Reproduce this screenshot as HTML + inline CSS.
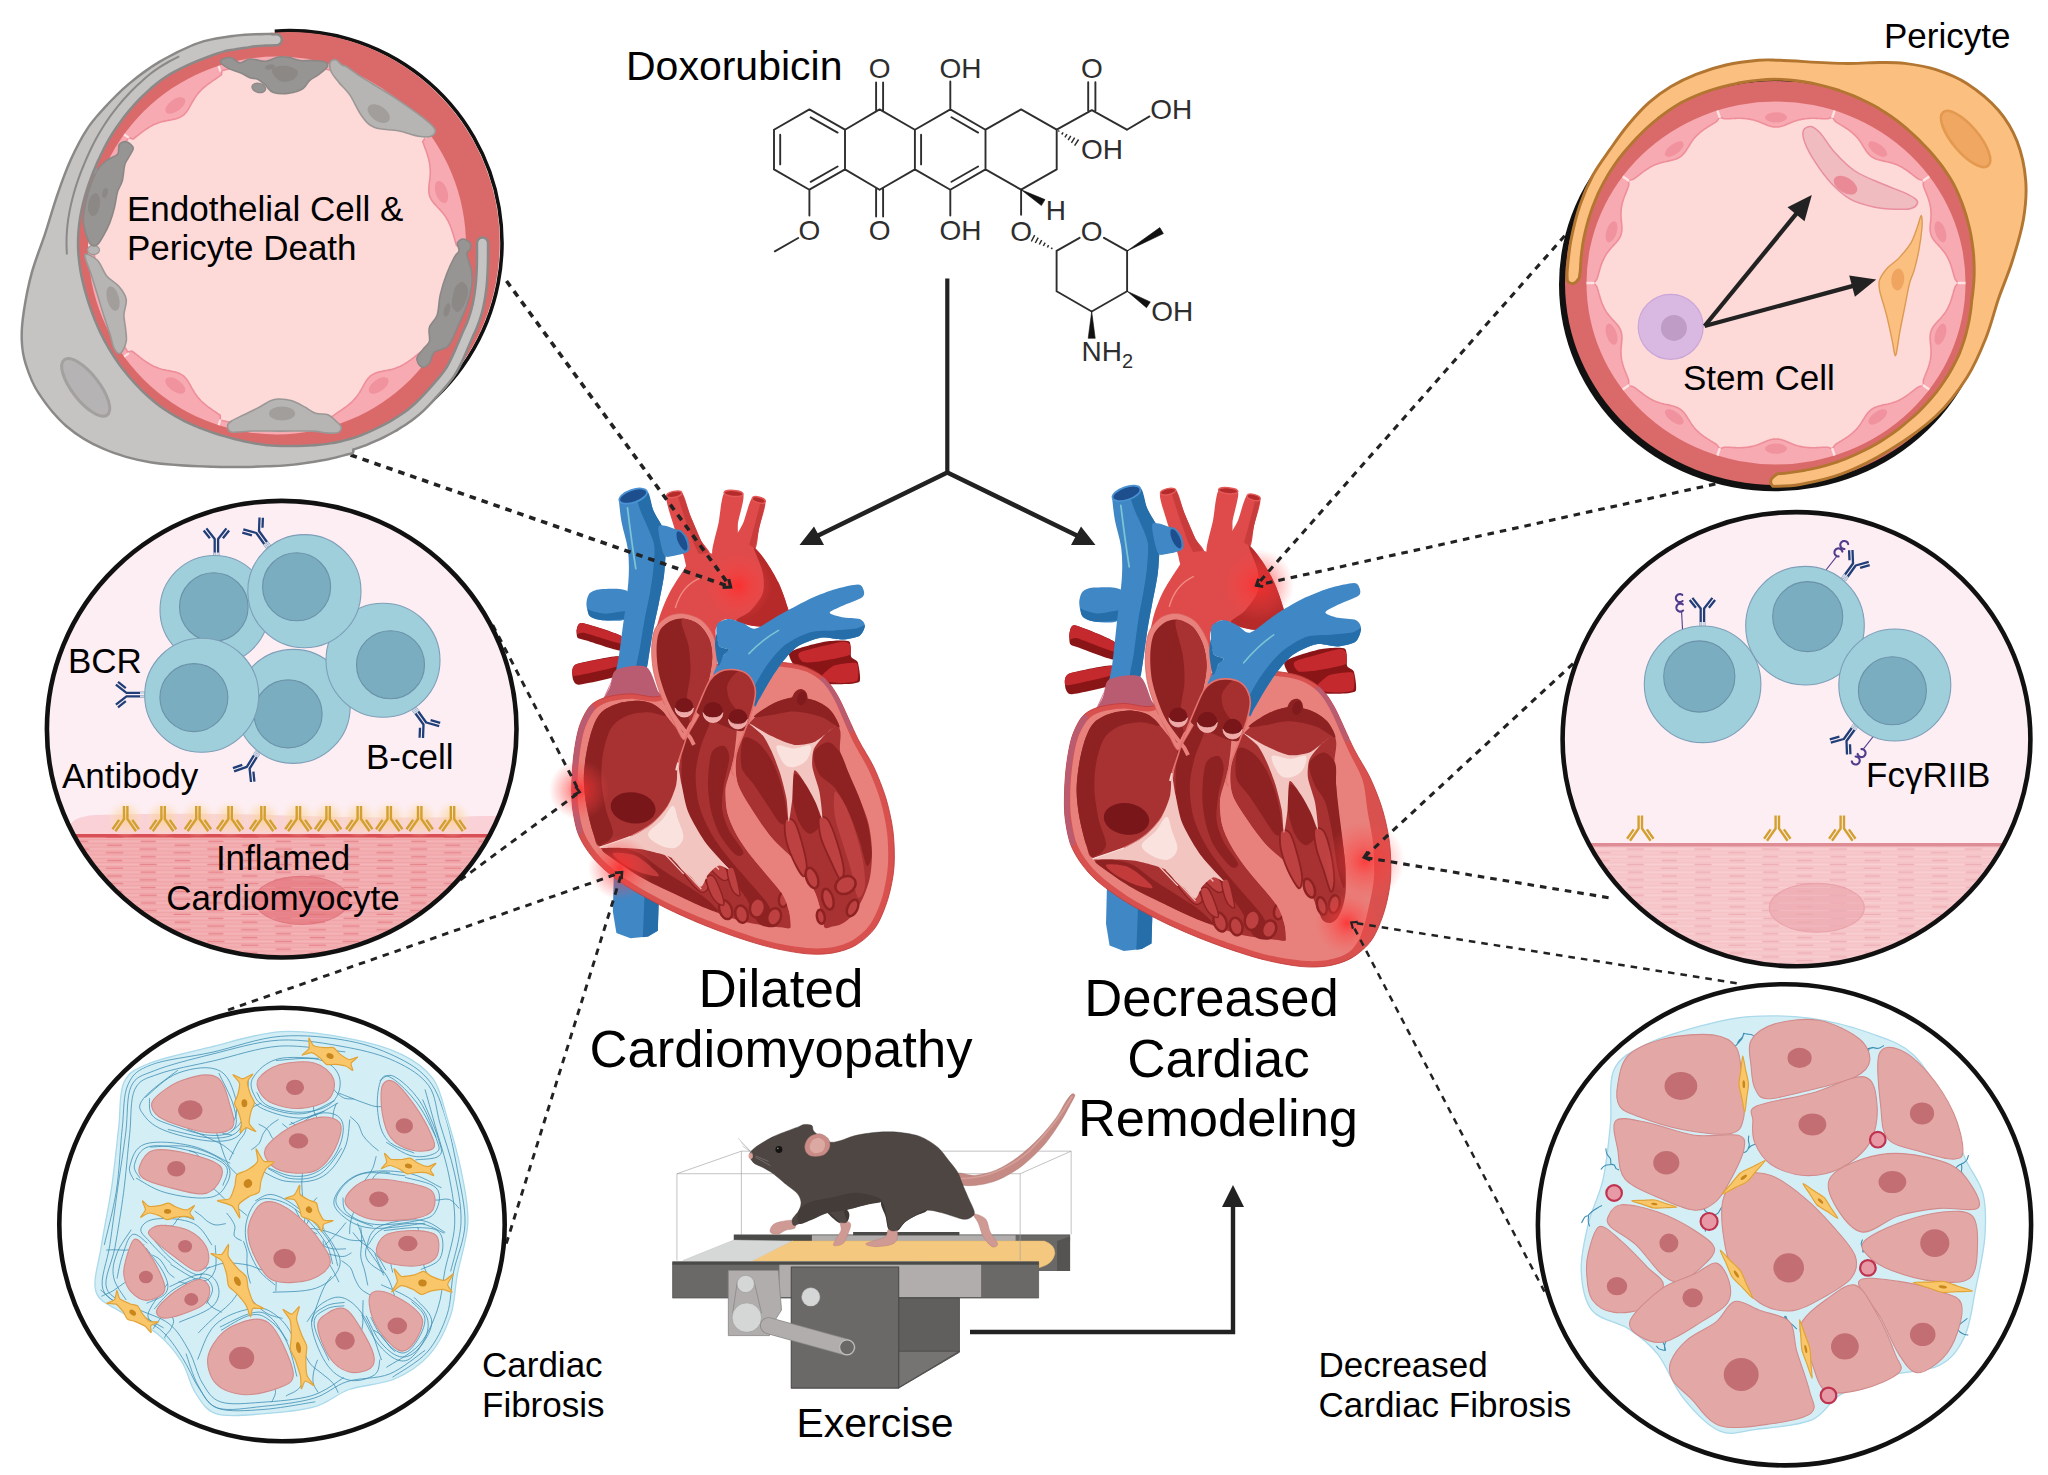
<!DOCTYPE html>
<html lang="en"><head><meta charset="utf-8"><title>Doxorubicin cardiotoxicity and exercise</title>
<style>
html,body{margin:0;padding:0;background:#fff;}
body{width:2048px;height:1475px;overflow:hidden;}
svg{display:block;}
text{font-family:"Liberation Sans",sans-serif;fill:#000;}
</style></head><body>
<svg width="2048" height="1475" viewBox="0 0 2048 1475">
<defs>
<clipPath id="clipBL"><ellipse cx="281.7" cy="729.2" rx="234.8" ry="228.3"/></clipPath>
<clipPath id="clipBR"><ellipse cx="1796.5" cy="739.2" rx="233.9" ry="227.1"/></clipPath>
<pattern id="striaL" width="67.6" height="15.4" patternUnits="userSpaceOnUse" x="0" y="838"><path d="M0 1.5H67.6" stroke="#ea8d93" stroke-width="0.9" opacity="0.35"/><path d="M0 5.3H67.6" stroke="#ea8d93" stroke-width="0.9" opacity="0.35"/><path d="M0 9.2H67.6" stroke="#ea8d93" stroke-width="0.9" opacity="0.35"/><path d="M0 13H67.6" stroke="#ea8d93" stroke-width="0.9" opacity="0.35"/><path d="M0 3.4H67.6" stroke="#f7c3c5" stroke-width="0.9" opacity="0.45"/><path d="M0 11.1H67.6" stroke="#f7c3c5" stroke-width="0.9" opacity="0.45"/><path d="M6 3.4H20M5 11.1H21M40 7.2H54M39 14.9H55" stroke="#e0666e" stroke-width="1.5" stroke-linecap="round" opacity="0.6"/></pattern>
<pattern id="striaR" width="67.6" height="15.4" patternUnits="userSpaceOnUse" x="0" y="838"><path d="M0 1.5H67.6" stroke="#f0b3b9" stroke-width="0.9" opacity="0.35"/><path d="M0 5.3H67.6" stroke="#f0b3b9" stroke-width="0.9" opacity="0.35"/><path d="M0 9.2H67.6" stroke="#f0b3b9" stroke-width="0.9" opacity="0.35"/><path d="M0 13H67.6" stroke="#f0b3b9" stroke-width="0.9" opacity="0.35"/><path d="M0 3.4H67.6" stroke="#fbdcde" stroke-width="0.9" opacity="0.45"/><path d="M0 11.1H67.6" stroke="#fbdcde" stroke-width="0.9" opacity="0.45"/><path d="M6 3.4H20M5 11.1H21M40 7.2H54M39 14.9H55" stroke="#e89aa3" stroke-width="1.5" stroke-linecap="round" opacity="0.6"/></pattern>
<radialGradient id="goldglow"><stop offset="0" stop-color="#fbd08a" stop-opacity="0.75"/><stop offset="0.55" stop-color="#fbd9a8" stop-opacity="0.45"/><stop offset="1" stop-color="#fde6d0" stop-opacity="0"/></radialGradient>
<radialGradient id="redglow"><stop offset="0" stop-color="#ff2a2a" stop-opacity="0.95"/><stop offset="0.35" stop-color="#ff3838" stop-opacity="0.55"/><stop offset="1" stop-color="#ff5050" stop-opacity="0"/></radialGradient>

</defs>
<rect width="2048" height="1475" fill="#fff"/>
<!-- heart_left -->
<g transform="translate(560 470) scale(0.17624)">
<path d="M305 2305L560 2455L555 2615L500 2647L400 2657L320 2627L300 2505Z" fill="#4087c6" />
<path d="M480 2405L560 2455L555 2615L500 2647L470 2651Z" fill="#256ea9" />
<path d="M95 905C97.5 896.6 100 864.5 125 868C150 871.5 323 924.3 345 940C367 955.7 364.5 1022.2 345 1025C325.5 1027.8 174.5 975.3 150 968C125.5 960.7 105.5 958.3 100 952C94.5 945.7 92.5 913.4 95 905Z" fill="#8a1517" />
<path d="M95 905C97.5 898.8 100 864.5 125 868C150 871.5 323 928.3 345 940C367 951.7 365.5 986.5 345 985C324.5 983.5 164.5 930.5 140 925C115.5 919.5 104.5 932 100 930C95.5 928 92.5 911.2 95 905Z" fill="#c4292d" />
<path d="M70 1135C72.5 1125.8 73.5 1107.7 100 1100C126.5 1092.3 311.5 1051.5 335 1058C358.5 1064.5 357.5 1149 335 1165C312.5 1181 136 1215.3 110 1218C84 1220.7 79 1200.3 75 1192C71 1183.7 67.5 1144.2 70 1135Z" fill="#8a1517" />
<path d="M70 1135C72.8 1128.5 73.5 1107.7 100 1100C126.5 1092.3 311.5 1057 335 1058C358.5 1059 358 1099.3 335 1110C312 1120.7 131.3 1159.5 105 1165C78.7 1170.5 75.5 1168 72 1165C68.5 1162 67.2 1141.5 70 1135Z" fill="#c4292d" />
<path d="M1300 1040C1310 1017.5 1466 981.8 1500 975C1534 968.2 1624.8 963.5 1640 972C1655.2 980.5 1647 1048 1652 1060C1657 1072 1685.2 1078 1690 1092C1694.8 1106 1709 1187.7 1700 1200C1691 1212.3 1630 1215 1600 1215C1570 1215 1430 1217.5 1400 1200C1370 1182.5 1290 1062.5 1300 1040Z" fill="#8a1517" />
<path d="M1360 1035C1382 1023.5 1571.5 979.5 1600 975C1628.5 970.5 1640.8 982.5 1645 990C1649.2 997.5 1658.5 1040.5 1642 1050C1625.5 1059.5 1506.2 1081 1480 1085C1453.8 1089 1392 1095 1380 1090C1368 1085 1338 1046.5 1360 1035Z" fill="#c4292d" />
<path d="M1550 1112C1571 1102.5 1665.8 1091.2 1680 1095C1694.2 1098.8 1691.8 1139.7 1692 1150C1692.2 1160.3 1693.2 1192.2 1682 1198C1670.8 1203.8 1601.2 1208.8 1580 1208C1558.8 1207.2 1473 1199.6 1470 1190C1467 1180.4 1529 1121.5 1550 1112Z" fill="#c4292d" />
<path d="M385 690C365.7 667.9 258.9 674.7 230 676C201.1 677.3 178.7 688.5 168 700C157.3 711.5 149.7 744.7 150 762C150.3 779.3 158 818 170 830C182 842 212.7 850.4 240 852C267.3 853.6 355.7 863.6 375 842C394.3 820.4 404.3 712.1 385 690Z" fill="#4087c6" />
<path d="M385 800C369.7 796.4 287.3 815 260 815C232.7 815 193.6 803.3 180 800C166.4 796.7 159.3 786 158 790C156.7 794 159.1 821.7 170 830C180.9 838.3 212.7 850.4 240 852C267.3 853.6 355.7 848.9 375 842C394.3 835.1 400.3 803.6 385 800Z" fill="#256ea9" />
<path d="M335 180C337.5 200 341.7 255 350 300C358.3 345 378.3 400 385 450C391.7 500 391.7 550 390 600C388.3 650 380.8 700 375 750C369.2 800 361.7 850 355 900C348.3 950 341.2 1010 335 1050C328.8 1090 320.8 1125 318 1140L400 1165L490 1125C492.5 1112.5 498.3 1087.5 505 1050C511.7 1012.5 520.8 948.3 530 900C539.2 851.7 550 810 560 760C570 710 583.3 648.3 590 600C596.7 551.7 596.7 508.3 600 470C603.3 431.7 614.2 396.7 610 370C605.8 343.3 588.3 333.3 575 310C561.7 286.7 542.8 260.8 530 230C517.2 199.2 503.3 142.5 498 125Z" fill="#4087c6"/>
<path d="M498 125C510 134.3 519.7 205.3 530 230C540.3 254.7 564.3 291.3 575 310C585.7 328.7 606.7 348.7 610 370C613.3 391.3 602.7 439.3 600 470C597.3 500.7 595.3 561.3 590 600C584.7 638.7 568 720 560 760C552 800 537.3 861.3 530 900C522.7 938.7 510.3 1020 505 1050C499.7 1080 500 1111.7 490 1125C480 1138.3 434.7 1166.7 430 1150C425.3 1133.3 448.3 1040 455 1000C461.7 960 472.7 890 480 850C487.3 810 503.3 738.7 510 700C516.7 661.3 526.7 596 530 560C533.3 524 539 460.7 535 430C531 399.3 510 355.3 500 330C490 304.7 468 262.7 460 240C452 217.3 434.9 175.3 440 160C445.1 144.7 486 115.7 498 125Z" fill="#256ea9" />
<ellipse cx="415" cy="148" rx="82" ry="36" fill="#1d4f8f" stroke="#4a92d2" stroke-width="10" transform="rotate(-19 415 148)"/>
<path d="M383 215Q405 400 430 560" fill="none" stroke="#7cc3d3" stroke-width="10" stroke-linecap="round"/>
<path d="M603 150C596.8 169.8 628.7 261.5 640 300C651.3 338.5 689.5 449.7 700 480C710.5 510.3 712.5 560 730 560C747.5 560 841.8 498.7 850 480C858.2 461.3 812.8 425.7 800 400C787.2 374.3 752.5 291.5 740 260C727.5 228.5 709 142.8 693 130C677 117.2 609.2 130.2 603 150Z" fill="#df4a4a" />
<path d="M665 140L693 130L740 260L800 400L850 480L800 500L760 420L710 280Z" fill="#c93c3c" />
<path d="M932 130C915.7 148.7 907.8 259.2 900 300C892.2 340.8 853.3 466 865 480C876.7 494 983.1 441 1000 420C1016.9 399 1005.3 332.7 1010 300C1014.7 267.3 1049.1 159.8 1040 140C1030.9 120.2 948.3 111.3 932 130Z" fill="#df4a4a" />
<path d="M1090 160C1075.4 173.4 1051.7 270.8 1040 300C1028.3 329.2 982.4 392.5 990 410C997.6 427.5 1088.7 459.3 1105 450C1121.3 440.7 1123 360.9 1130 330C1137 299.1 1169.7 204.8 1165 185C1160.3 165.2 1104.6 146.6 1090 160Z" fill="#df4a4a" />
<path d="M1140 175L1165 185L1130 330L1105 450L1070 440L1100 330Z" fill="#c93c3c" />
<ellipse cx="648" cy="138" rx="44" ry="17" fill="#b52a2a" stroke="#e35a58" stroke-width="8" transform="rotate(-12 648 138)"/>
<ellipse cx="985" cy="133" rx="54" ry="17" fill="#b52a2a" stroke="#e35a58" stroke-width="8" transform="rotate(5 985 133)"/>
<ellipse cx="1128" cy="170" rx="38" ry="16" fill="#b52a2a" stroke="#e35a58" stroke-width="8" transform="rotate(15 1128 170)"/>
<path d="M535 1010C514 984.5 547.2 896.5 560 850C572.8 803.5 599 742 620 700C641 658 679 601.5 700 570C721 538.5 739 505 760 490C781 475 822 472.7 840 470C858 467.3 856.8 481.8 880 472C903.2 462.2 962 409.8 995 405C1028 400.2 1073.8 422.8 1100 440C1126.2 457.2 1149 490 1170 520C1191 550 1222.8 604 1240 640C1257.2 676 1276.8 731.5 1285 760C1293.2 788.5 1307.8 811.2 1295 830C1282.2 848.8 1229.2 876.8 1200 885C1170.8 893.2 1130 889.5 1100 885C1070 880.5 1025.5 860.2 1000 855C974.5 849.8 947.2 843.2 930 850C912.8 856.8 894 877.5 885 900C876 922.5 897.8 982 870 1000C842.2 1018 750.2 1018.5 700 1020C649.8 1021.5 556 1035.5 535 1010Z" fill="#df4a4a" />
<path d="M1100 440C1103 431 1149 490 1170 520C1191 550 1222.8 604 1240 640C1257.2 676 1276.8 731.5 1285 760C1293.2 788.5 1307.8 811.2 1295 830C1282.2 848.8 1229.2 876.8 1200 885C1170.8 893.2 1130 889.5 1100 885C1070 880.5 1003 867.8 1000 855C997 842.2 1057.5 823.2 1080 800C1102.5 776.8 1139.5 733 1150 700C1160.5 667 1157.5 619 1150 580C1142.5 541 1097 449 1100 440Z" fill="#b62a2a" />
<path d="M655 780Q690 660 790 615" fill="none" stroke="#f08b82" stroke-width="8" stroke-linecap="round"/>
<path d="M560 320C569.3 301.1 638.7 330 660 338C681.3 346 710.7 363.7 720 380C729.3 396.3 740.7 445.6 730 460C719.3 474.4 658.7 485.3 640 488C621.3 490.7 600.7 502.4 590 480C579.3 457.6 550.7 338.9 560 320Z" fill="#4087c6" />
<ellipse cx="692" cy="402" rx="27" ry="64" fill="#1d4f8f" stroke="#4087c6" stroke-width="9" transform="rotate(-24 692 402)"/>
<path d="M318 1135C346 1118.7 457.7 1101.3 490 1118C522.3 1134.7 542.7 1231.7 560 1260C577.3 1288.3 628 1311.3 620 1330C612 1348.7 542.7 1388 500 1400C457.3 1412 346.7 1406.7 300 1420C253.3 1433.3 175.3 1476 150 1500C124.7 1524 103.3 1616 110 1600C116.7 1584 177.3 1428 200 1380C222.7 1332 264.3 1272.7 280 1240C295.7 1207.3 290 1151.3 318 1135Z" fill="#b95c72" />
<path d="M300 1180C296 1186.7 248.7 1292.7 230 1330C211.3 1367.3 177.3 1417.3 160 1460C142.7 1502.7 112 1604.7 100 1650C88 1695.3 68.7 1806.7 70 1800C71.3 1793.3 95.3 1650.7 110 1600C124.7 1549.3 160 1462.7 180 1420C200 1377.3 244 1312 260 1280C276 1248 304 1173.3 300 1180Z" fill="#d9748b" />
<path d="M1290 1095C1335 1101 1368.5 1107.2 1400 1120C1431.5 1132.8 1473 1154.5 1500 1180C1527 1205.5 1551.5 1238.2 1580 1290C1608.5 1341.8 1660 1465.8 1690 1525C1720 1584.2 1756 1634 1780 1685C1804 1736 1833.5 1809.5 1850 1865C1866.5 1920.5 1883.2 1996.5 1890 2055C1896.8 2113.5 1899.5 2198 1895 2255C1890.5 2312 1875.8 2384 1860 2435C1844.2 2486 1817 2556 1790 2595C1763 2634 1716 2673.2 1680 2695C1644 2716.8 1592 2732.5 1550 2740C1508 2747.5 1452.5 2749.5 1400 2745C1347.5 2740.5 1260 2724.2 1200 2710C1140 2695.8 1060 2670.2 1000 2650C940 2629.8 860 2599.8 800 2575C740 2550.2 660 2515 600 2485C540 2455 452.5 2408 400 2375C347.5 2342 286 2296.5 250 2265C214 2233.5 182.5 2196.5 160 2165C137.5 2133.5 113.5 2094 100 2055C86.5 2016 74.8 1950 70 1905C65.2 1860 66.5 1800 68 1755C69.5 1710 73.7 1650 80 1605C86.3 1560 96.5 1494.8 110 1455C123.5 1415.2 147.5 1364.8 170 1340C192.5 1315.2 225.5 1300.5 260 1290C294.5 1279.5 355 1270.8 400 1270C445 1269.2 515 1295.5 560 1285C605 1274.5 649 1227.8 700 1200C751 1172.2 840 1118 900 1100C960 1082 1041.5 1080.8 1100 1080C1158.5 1079.2 1245 1089 1290 1095Z" fill="#d8514e" stroke="#c23d3b" stroke-width="5" />
<path d="M170 1340C157.2 1355 123.5 1415.2 110 1455C96.5 1494.8 86.3 1560 80 1605C73.7 1650 69.5 1710 68 1755C66.5 1800 65.2 1860 70 1905C74.8 1950 91.8 2033.2 100 2055C108.2 2076.8 125.3 2072.5 125 2050C124.7 2027.5 102.3 1949.2 98 1905C93.7 1860.8 94.5 1799.2 96 1755C97.5 1710.8 101.7 1653.5 108 1610C114.3 1566.5 125 1503.2 138 1465C151.1 1426.8 190.2 1373.8 195 1355C199.8 1336.2 182.8 1325 170 1340Z" fill="#b95c72" />
<path d="M1500 1180C1515 1193.5 1556 1246.5 1580 1290C1604 1333.5 1651 1442.2 1660 1470C1669 1497.8 1655 1499 1640 1475C1625 1451 1584 1351.2 1560 1310C1536 1268.8 1489 1219.5 1480 1200C1471 1180.5 1485 1166.5 1500 1180Z" fill="#b95c72" />
<path d="M1290 1120C1335 1126 1370 1132.2 1400 1145C1430 1157.8 1466 1180.2 1490 1205C1514 1229.8 1534.5 1260.5 1560 1310C1585.5 1359.5 1631.5 1476.5 1660 1535C1688.5 1593.5 1726.3 1649 1750 1700C1773.7 1751 1802.1 1821 1818 1875C1833.9 1929 1849.7 2003.8 1856 2060C1862.3 2116.2 1864.2 2195.2 1860 2250C1855.8 2304.8 1842.7 2376.2 1828 2425C1813.3 2473.8 1786.5 2539 1762 2575C1737.5 2611 1697.5 2645.1 1665 2665C1632.5 2684.9 1584.8 2700.9 1545 2708C1505.2 2715.1 1451 2716.2 1400 2712C1349 2707.8 1263.5 2693.8 1205 2680C1146.5 2666.2 1069 2640.2 1010 2620C951 2599.8 871.2 2569.3 812 2545C752.8 2520.7 673.8 2487.2 615 2458C556.2 2428.8 471 2382.4 420 2350C369 2317.6 309.5 2272 275 2242C240.5 2212 211.4 2179.6 190 2150C168.6 2120.4 145.1 2082.5 132 2045C119 2007.5 107.8 1943.5 103 1900C98.2 1856.5 98.7 1798.5 100 1755C101.3 1711.5 106 1652.8 112 1610C118 1567.2 127.5 1506.8 140 1470C152.4 1433.2 175.5 1387.8 195 1365C214.5 1342.2 239.2 1328 270 1318C300.8 1308 356.5 1298.9 400 1298C443.5 1297.1 515 1322.2 560 1312C605 1301.8 649 1257.3 700 1230C751 1202.7 840 1148.8 900 1130C960 1111.2 1041.5 1106.5 1100 1105C1158.5 1103.5 1245 1114 1290 1120Z" fill="#e8817c" />
<path d="M1075 1435C1099 1408.8 1161.8 1351.8 1200 1330C1238.2 1308.2 1292.5 1293 1330 1290C1367.5 1287 1418.5 1298 1450 1310C1481.5 1322 1519 1344.5 1540 1370C1561 1395.5 1582.5 1445.5 1590 1480C1597.5 1514.5 1582.5 1563.2 1590 1600C1597.5 1636.8 1623.5 1685.2 1640 1725C1656.5 1764.8 1683.5 1823 1700 1865C1716.5 1907 1739.5 1961.5 1750 2005C1760.5 2048.5 1768.5 2110 1770 2155C1771.5 2200 1767.5 2264.5 1760 2305C1752.5 2345.5 1735 2392 1720 2425C1705 2458 1678 2502.5 1660 2525C1642 2547.5 1618 2564.9 1600 2575C1582 2585.1 1555 2589 1540 2592C1525 2595 1509 2608.1 1500 2595C1491 2581.9 1487.5 2533.5 1480 2505C1472.5 2476.5 1462 2435 1450 2405C1438 2375 1419.5 2335 1400 2305C1380.5 2275 1350 2238 1320 2205C1290 2172 1233 2124 1200 2085C1167 2046 1128.5 1990 1100 1945C1071.5 1900 1025 1831.5 1010 1785C995 1738.5 995.5 1677 1000 1635C1004.5 1593 1028.8 1535 1040 1505C1051.2 1475 1051 1461.2 1075 1435Z" fill="#a83232" />
<path d="M1100 1400C1100 1391 1165.5 1346.5 1200 1330C1234.5 1313.5 1292.5 1293 1330 1290C1367.5 1287 1418.5 1298 1450 1310C1481.5 1322 1519.8 1347.5 1540 1370C1560.2 1392.5 1594 1455.5 1585 1460C1576 1464.5 1518.2 1413.5 1480 1400C1441.8 1386.5 1372 1371.5 1330 1370C1288 1368.5 1234.5 1385.5 1200 1390C1165.5 1394.5 1100 1409 1100 1400Z" fill="#8e2222" />
<ellipse cx="1360" cy="1300" rx="44" ry="58" fill="#8e2222" transform="rotate(15 1360 1300)"/>
<ellipse cx="1372" cy="1295" rx="26" ry="40" fill="#7f1b1d" transform="rotate(15 1372 1295)"/>
<path d="M235 1375C256.8 1354 297.8 1334.8 330 1325C362.2 1315.2 418.5 1308.5 450 1310C481.5 1311.5 514.5 1319.2 540 1335C565.5 1350.8 596 1385 620 1415C644 1445 692.5 1499 700 1535C707.5 1571 676 1617.5 670 1655C664 1692.5 669 1747.5 660 1785C651 1822.5 631 1872 610 1905C589 1938 551.5 1979.5 520 2005C488.5 2030.5 443.5 2055.5 400 2075C356.5 2094.5 261.5 2136.5 230 2135C198.5 2133.5 202 2099.5 190 2065C178 2030.5 158.2 1951.5 150 1905C141.8 1858.5 135 1800 135 1755C135 1710 142.5 1648.5 150 1605C157.5 1561.5 172.2 1499.5 185 1465C197.8 1430.5 213.2 1396 235 1375Z" fill="#a83232" />
<path d="M235 1375C256.8 1354 297.8 1334.8 330 1325C362.2 1315.2 418.5 1308.5 450 1310C481.5 1311.5 517.5 1322.2 540 1335C562.5 1347.8 606 1389 600 1395C594 1401 533 1375 500 1375C467 1375 411.5 1381.5 380 1395C348.5 1408.5 310.2 1433.5 290 1465C269.8 1496.5 253.2 1561.5 245 1605C236.8 1648.5 232.8 1707 235 1755C237.2 1803 250.2 1878.5 260 1925C269.8 1971.5 304.5 2033.5 300 2065C295.5 2096.5 246.5 2135 230 2135C213.5 2135 202 2099.5 190 2065C178 2030.5 158.2 1951.5 150 1905C141.8 1858.5 135 1800 135 1755C135 1710 142.5 1648.5 150 1605C157.5 1561.5 172.2 1499.5 185 1465C197.8 1430.5 213.2 1396 235 1375Z" fill="#8e2222" />
<ellipse cx="415" cy="1917" rx="128" ry="88" fill="#78161a" transform="rotate(8 415 1917)"/>
<path d="M700 1535C713.3 1479 733.3 1403.7 760 1365C786.7 1326.3 868 1239.7 900 1245C932 1250.3 988.7 1353 1000 1405C1011.3 1457 993 1581.7 985 1635C977 1688.3 944.7 1763.7 940 1805C935.3 1846.3 942 1910.3 950 1945C958 1979.7 982.7 2033 1000 2065C1017.3 2097 1056 2153 1080 2185C1104 2217 1156 2275.7 1180 2305C1204 2334.3 1244 2378.3 1260 2405C1276 2431.7 1293.3 2479.7 1300 2505C1306.7 2530.3 1316.7 2583 1310 2595C1303.3 2607 1284.7 2599 1250 2595C1215.3 2591 1103.3 2578.3 1050 2565C996.7 2551.7 903.3 2516.3 850 2495C796.7 2473.7 703.3 2430.3 650 2405C596.7 2379.7 506 2340.3 450 2305C394 2269.7 236.7 2170 230 2140C223.3 2110 361.3 2097.3 400 2080C438.7 2062.7 492 2032.7 520 2010C548 1987.3 591.3 1940 610 1910C628.7 1880 648 1835 660 1785C672 1735 686.7 1591 700 1535Z" fill="#a83232" />
<path d="M700 1535C707.5 1485.5 725 1450.5 740 1425C755 1399.5 783.5 1365 800 1365C816.5 1365 850 1395 850 1425C850 1455 812 1520 800 1565C788 1610 771.5 1674 770 1725C768.5 1776 776.5 1854 790 1905C803.5 1956 834.5 2020 860 2065C885.5 2110 927 2163 960 2205C993 2247 1047 2306 1080 2345C1113 2384 1157.5 2429 1180 2465C1202.5 2501 1237.5 2568.5 1230 2585C1222.5 2601.5 1155.5 2597.5 1130 2575C1104.5 2552.5 1085.5 2475.5 1060 2435C1034.5 2394.5 991.5 2342.5 960 2305C928.5 2267.5 880 2224 850 2185C820 2146 781 2087 760 2045C739 2003 720.5 1948.5 710 1905C699.5 1861.5 691.5 1810.5 690 1755C688.5 1699.5 692.5 1584.5 700 1535Z" fill="#8e2222" />
<path d="M860 1605C873.5 1572 915 1560.5 930 1565C945 1569.5 960 1602 960 1635C960 1668 936 1741.5 930 1785C924 1828.5 915.5 1886 920 1925C924.5 1964 942 2009 960 2045C978 2081 1034 2144 1040 2165C1046 2186 1019.5 2198.5 1000 2185C980.5 2171.5 931 2111 910 2075C889 2039 870.5 1988.5 860 1945C849.5 1901.5 840 1836 840 1785C840 1734 846.5 1638 860 1605Z" fill="#8e2222" />
<path d="M240 2155C244.5 2146 298.5 2142 330 2145C361.5 2148 415.5 2158.5 450 2175C484.5 2191.5 522.5 2229.5 560 2255C597.5 2280.5 661 2319.5 700 2345C739 2370.5 790 2401 820 2425C850 2449 903 2497.5 900 2505C897 2512.5 837.5 2490 800 2475C762.5 2460 702.5 2430.5 650 2405C597.5 2379.5 502.5 2335 450 2305C397.5 2275 331.5 2227.5 300 2205C268.5 2182.5 235.5 2164 240 2155Z" fill="#8e2222" />
<path d="M300 2175C309 2167.5 387 2173 420 2185C453 2197 499 2237 520 2255C541 2273 569 2300.5 560 2305C551 2309.5 490 2295.5 460 2285C430 2274.5 384 2251.5 360 2235C336 2218.5 291 2182.5 300 2175Z" fill="#c23a3a" />
<ellipse cx="940" cy="2495" rx="35" ry="55" fill="#bd4141" stroke="#8e2222" stroke-width="14" transform="rotate(-20 940 2495)"/>
<ellipse cx="1030" cy="2520" rx="35" ry="50" fill="#bd4141" stroke="#8e2222" stroke-width="14" transform="rotate(-15 1030 2520)"/>
<ellipse cx="1120" cy="2485" rx="42" ry="55" fill="#bd4141" stroke="#8e2222" stroke-width="14" transform="rotate(10 1120 2485)"/>
<ellipse cx="1215" cy="2535" rx="38" ry="50" fill="#bd4141" stroke="#8e2222" stroke-width="14" transform="rotate(20 1215 2535)"/>
<ellipse cx="1270" cy="2435" rx="28" ry="45" fill="#bd4141" stroke="#8e2222" stroke-width="14" transform="rotate(10 1270 2435)"/>
<path d="M940 1805C941.5 1826 941 1906 950 1945C959 1984 980.5 2029 1000 2065C1019.5 2101 1053 2149 1080 2185C1107 2221 1153 2272 1180 2305C1207 2338 1242 2375 1260 2405C1278 2435 1292.5 2475 1300 2505C1307.5 2535 1308.5 2590 1310 2605L1500 2605C1497 2590 1487.5 2535 1480 2505C1472.5 2475 1462 2435 1450 2405C1438 2375 1419.5 2335 1400 2305C1380.5 2275 1350 2238 1320 2205C1290 2172 1233 2124 1200 2085C1167 2046 1128.5 1990 1100 1945C1071.5 1900 1026.5 1831.5 1010 1785C993.5 1738.5 993 1657.5 990 1635Z" fill="#e8817c"/>
<path d="M1040 1525C1053.5 1504 1096 1527 1120 1545C1144 1563 1179 1606 1200 1645C1221 1684 1246.5 1754 1260 1805C1273.5 1856 1291.5 1955 1290 1985C1288.5 2015 1266.5 2017 1250 2005C1233.5 1993 1202.5 1938 1180 1905C1157.5 1872 1122.5 1818 1100 1785C1077.5 1752 1039 1724 1030 1685C1021 1646 1026.5 1546 1040 1525Z" fill="#8e2222" />
<path d="M1440 1605C1447.5 1578 1497.5 1545 1520 1545C1542.5 1545 1572 1578 1590 1605C1608 1632 1623.5 1686 1640 1725C1656.5 1764 1683.5 1820 1700 1865C1716.5 1910 1739.8 1977 1750 2025C1760.2 2073 1769.5 2152 1768 2185C1766.5 2218 1750.2 2257 1740 2245C1729.8 2233 1715 2150 1700 2105C1685 2060 1661 1990 1640 1945C1619 1900 1585.5 1838 1560 1805C1534.5 1772 1488 1755 1470 1725C1452 1695 1432.5 1632 1440 1605Z" fill="#8e2222" />
<path d="M1330 1725C1342 1713 1382 1761 1400 1785C1418 1809 1438 1852 1450 1885C1462 1918 1484.5 1978 1480 2005C1475.5 2032 1438 2065 1420 2065C1402 2065 1375 2035 1360 2005C1345 1975 1324.5 1907 1320 1865C1315.5 1823 1318 1737 1330 1725Z" fill="#8e2222" />
<path d="M1280 1985C1287.5 1971.5 1316.5 1977 1330 1995C1343.5 2013 1359.5 2067.5 1370 2105C1380.5 2142.5 1398.5 2215 1400 2245C1401.5 2275 1392 2311 1380 2305C1368 2299 1335 2238 1320 2205C1305 2172 1286 2118 1280 2085C1274 2052 1272.5 1998.5 1280 1985Z" fill="#bd4141" stroke="#8e2222" stroke-width="10" />
<path d="M1470 1975C1476 1960 1505 1965.5 1520 1985C1535 2004.5 1556.5 2063 1570 2105C1583.5 2147 1607 2232 1610 2265C1613 2298 1602 2334 1590 2325C1578 2316 1546.5 2241 1530 2205C1513.5 2169 1489 2119.5 1480 2085C1471 2050.5 1464 1990 1470 1975Z" fill="#bd4141" stroke="#8e2222" stroke-width="10" />
<path d="M1560 1825C1569 1816 1602 1869 1620 1905C1638 1941 1665 2017 1680 2065C1695 2113 1712.5 2180 1720 2225C1727.5 2270 1734.5 2335 1730 2365C1725.5 2395 1702 2440 1690 2425C1678 2410 1663.5 2313 1650 2265C1636.5 2217 1613.5 2150 1600 2105C1586.5 2060 1566 2007 1560 1965C1554 1923 1551 1834 1560 1825Z" fill="#bd4141" />
<ellipse cx="1430" cy="2315" rx="32" ry="60" fill="#bd4141" stroke="#8e2222" stroke-width="14" transform="rotate(-20 1430 2315)"/>
<ellipse cx="1520" cy="2435" rx="30" ry="60" fill="#bd4141" stroke="#8e2222" stroke-width="14" transform="rotate(-15 1520 2435)"/>
<ellipse cx="1620" cy="2355" rx="60" ry="48" fill="#bd4141" stroke="#8e2222" stroke-width="14" transform="rotate(-30 1620 2355)"/>
<ellipse cx="1660" cy="2485" rx="28" ry="50" fill="#bd4141" stroke="#8e2222" stroke-width="14" transform="rotate(25 1660 2485)"/>
<ellipse cx="1480" cy="2535" rx="22" ry="40" fill="#bd4141" stroke="#8e2222" stroke-width="14" transform="rotate(-10 1480 2535)"/>
<path d="M640 2195C637 2175.5 679 2174.5 700 2185C721 2195.5 759 2238 780 2265C801 2292 837 2345.5 840 2365C843 2384.5 818 2402.5 800 2395C782 2387.5 744 2345 720 2315C696 2285 643 2214.5 640 2195Z" fill="#bd4141" stroke="#8e2222" stroke-width="8" />
<path d="M740 2105C737 2085.5 776 2080 800 2095C824 2110 876 2173.5 900 2205C924 2236.5 957 2287 960 2305C963 2323 941 2337 920 2325C899 2313 847 2258 820 2225C793 2192 743 2124.5 740 2105Z" fill="#bd4141" stroke="#8e2222" stroke-width="8" />
<path d="M830 2315C833 2301.5 858 2294.5 870 2305C882 2315.5 901 2361 910 2385C919 2409 933 2454.5 930 2465C927 2475.5 902 2465.5 890 2455C878 2444.5 859 2416 850 2395C841 2374 827 2328.5 830 2315Z" fill="#bd4141" stroke="#8e2222" stroke-width="8" />
<path d="M950 2265C953.8 2253.8 976 2248 985 2260C994 2272 1004.8 2321.8 1010 2345C1015.2 2368.2 1023.8 2407.5 1020 2415C1016.2 2422.5 994 2407 985 2395C976 2383 965.2 2354.5 960 2335C954.8 2315.5 946.2 2276.2 950 2265Z" fill="#bd4141" stroke="#8e2222" stroke-width="8" />
<path d="M225 2140C238.3 2131.6 360.7 2097.3 400 2080C439.3 2062.7 492 2032.7 520 2010C548 1987.3 591.3 1940 610 1910C628.7 1880 652.3 1817.7 660 1785C667.7 1752.3 664 1665 668 1665C672 1665 682.4 1749 690 1785C697.6 1821 710.3 1896.3 725 1935C739.7 1973.7 779.3 2041.7 800 2075C820.7 2108.3 858.7 2159.7 880 2185C901.3 2210.3 957.3 2257 960 2265C962.7 2273 916 2241 900 2245C884 2249 853.3 2279 840 2295C826.7 2311 813.3 2363.7 800 2365C786.7 2366.3 754.7 2318.3 740 2305C725.3 2291.7 703.3 2278.3 690 2265C676.7 2251.7 657.3 2217 640 2205C622.7 2193 585.3 2182.3 560 2175C534.7 2167.7 484.7 2154.3 450 2150C415.3 2145.7 330 2144.3 300 2143C270 2141.7 211.7 2148.4 225 2140Z" fill="#f2c5c0" />
<path d="M500 2065C503.3 2041.7 556.7 2011.7 580 1985C603.3 1958.3 625 1905 640 1905C655 1905 660 1955 670 1985C680 2015 703.3 2058.3 700 2085C696.7 2111.7 673.3 2138.3 650 2145C626.7 2151.7 585 2138.3 560 2125C535 2111.7 496.7 2088.3 500 2065Z" fill="#fae3df" />
<path d="M225 2140L400 2080" stroke="#fae3df" stroke-width="6" fill="none"/>
<path d="M640 2205L800 2375M700 2165L830 2315M760 2125L900 2265M800 2095L950 2260M600 2185L700 2290" stroke="#f2c5c0" stroke-width="7" fill="none" stroke-linecap="round"/>
<path d="M1070 1435C1064.2 1434.4 1134.8 1486.3 1150 1505C1165.2 1523.7 1188.3 1569.3 1200 1595C1211.7 1620.7 1240.1 1693.5 1250 1725C1259.9 1756.5 1279.4 1833.5 1285 1865C1290.6 1896.5 1294.2 1995 1298 1995C1301.8 1995 1314.3 1898.8 1318 1865C1321.7 1831.2 1321 1714.3 1330 1705C1339 1695.7 1381 1764 1395 1785C1409 1806 1439.2 1862.8 1450 1885C1460.8 1907.2 1485.4 1982 1488 1975C1490.6 1968 1478.5 1858.8 1472 1825C1465.5 1791.2 1435.7 1713 1432 1685C1428.3 1657 1432.1 1606 1440 1585C1447.9 1564 1485.1 1521.1 1500 1505C1514.9 1488.9 1573.8 1442.9 1568 1447C1562.2 1451.1 1477.8 1526.8 1450 1540C1422.2 1553.2 1359.2 1563.5 1330 1560C1300.8 1556.5 1230.3 1524.6 1200 1510C1169.7 1495.4 1075.8 1435.6 1070 1435Z" fill="#f2c5c0" />
<path d="M1230 1565C1240 1550.8 1298.3 1580 1330 1580C1361.7 1580 1408.3 1554.2 1420 1565C1431.7 1575.8 1415 1625 1400 1645C1385 1665 1351.7 1681.7 1330 1685C1308.3 1688.3 1286.7 1685 1270 1665C1253.3 1645 1220 1579.2 1230 1565Z" fill="#fae3df" />
<path d="M520 1010C521.2 972.5 526.5 926.7 540 900C553.5 873.3 586 844.8 610 832C634 819.2 671.5 812.3 700 815C728.5 817.7 774.5 831.2 800 850C825.5 868.8 856.2 908.5 870 940C883.8 971.5 892 1021 892 1060C892 1099 882 1156.5 870 1200C858 1243.5 830.8 1309.5 812 1350C793.2 1390.5 761.8 1443 745 1470C728.2 1497 715.8 1537.5 700 1530C684.2 1522.5 658 1454.5 640 1420C622 1385.5 596.2 1340.5 580 1300C563.8 1259.5 541 1193.5 532 1150C523 1106.5 518.8 1047.5 520 1010Z" fill="#e8817c" stroke="#d8605c" stroke-width="4" />
<path d="M548 1010C548.9 974.3 554.5 934.8 566 912C577.5 889.2 604.9 868.4 625 858C645.1 847.6 676 840.5 700 843C724 845.5 763.2 858.2 785 875C806.8 891.8 833.1 927.2 845 955C856.9 982.8 864.3 1024 864 1060C863.7 1096 854.1 1153.8 843 1195C831.9 1236.2 807 1297.5 790 1335C773 1372.5 743.5 1421.8 730 1445C716.5 1468.2 710.2 1495.2 700 1490C689.8 1484.8 676.1 1439.2 662 1410C647.9 1380.8 621.3 1334 606 1295C590.7 1256 568.7 1192.8 560 1150C551.3 1107.2 547.1 1045.7 548 1010Z" fill="#8e2222" />
<path d="M690 850C698.2 831.2 761.8 859.2 785 875C808.2 890.8 833.1 927.2 845 955C856.9 982.8 864.3 1024 864 1060C863.7 1096 854.1 1153.8 843 1195C831.9 1236.2 805.5 1299.8 790 1335C774.5 1370.2 750.5 1435.2 740 1430C729.5 1424.8 720 1342 720 1300C720 1258 738.5 1195 740 1150C741.5 1105 737.5 1045 730 1000C722.5 955 681.8 868.8 690 850Z" fill="#a83232" />
<path d="M600 1330Q680 1450 740 1520L760 1560" stroke="#e8817c" stroke-width="22" fill="none"/>
<path d="M895 870C904.6 858.7 940.7 845 960 845C979.3 845 1020 862.7 1040 870C1060 877.3 1082 906.7 1110 900C1138 893.3 1211.3 841.3 1250 820C1288.7 798.7 1360 758.7 1400 740C1440 721.3 1511.3 692 1550 680C1588.7 668 1667.1 650 1690 650C1712.9 650 1718.7 670.4 1722 680C1725.3 689.6 1731.3 709.7 1715 722C1698.7 734.3 1624.7 760.3 1600 772C1575.3 783.7 1530 801.6 1530 810C1530 818.4 1577.3 830.3 1600 835C1622.7 839.7 1682.7 838.7 1700 845C1717.3 851.3 1730 869.3 1730 882C1730 894.7 1717.3 929.3 1700 940C1682.7 950.7 1629.3 960.4 1600 962C1570.7 963.6 1513.3 946.9 1480 952C1446.7 957.1 1378 982.9 1350 1000C1322 1017.1 1290 1056 1270 1080C1250 1104 1218.7 1150.7 1200 1180C1181.3 1209.3 1142.7 1278.7 1130 1300C1117.3 1321.3 1109.7 1353.3 1105 1340C1100.3 1326.7 1111.7 1228 1095 1200C1078.3 1172 1010 1134.7 980 1130C950 1125.3 876.7 1175.7 870 1165C863.3 1154.3 918 1069.3 930 1050C942 1030.7 963.3 1026.7 960 1020C956.7 1013.3 914.6 1012 905 1000C895.4 988 889.3 947.3 888 930C886.7 912.7 885.4 881.3 895 870Z" fill="#4087c6" />
<path d="M1730 882C1732.7 887.3 1717.3 929.3 1700 940C1682.7 950.7 1629.3 960.4 1600 962C1570.7 963.6 1513.3 946.9 1480 952C1446.7 957.1 1378 982.9 1350 1000C1322 1017.1 1290 1056 1270 1080C1250 1104 1218.7 1150.7 1200 1180C1181.3 1209.3 1142.7 1278.7 1130 1300C1117.3 1321.3 1109 1348 1105 1340C1101 1332 1090 1272 1100 1240C1110 1208 1156 1133.3 1180 1100C1204 1066.7 1248 1014 1280 990C1312 966 1382.7 930.7 1420 920C1457.3 909.3 1525.3 912.7 1560 910C1594.7 907.3 1657.3 903.7 1680 900C1702.7 896.3 1727.3 876.7 1730 882Z" fill="#256ea9" />
<path d="M888 930C891.3 930 895.4 988 905 1000C914.6 1012 956.7 1013.3 960 1020C963.3 1026.7 938 1038 930 1050C922 1062 906.7 1116.7 900 1110C893.3 1103.3 881.6 1024 880 1000C878.4 976 884.7 930 888 930Z" fill="#256ea9" />
<path d="M1072 1042Q1150 960 1240 910" fill="none" stroke="#7cc3d3" stroke-width="9" stroke-linecap="round"/>
<path d="M794 1315C804.4 1287.2 832.4 1220.5 849 1195C865.6 1169.5 886.2 1154.5 905 1145C923.8 1135.5 952.2 1131.2 974 1132C995.8 1132.8 1032 1139.8 1050 1150C1068 1160.2 1085.2 1182.8 1094 1200C1102.8 1217.2 1109.8 1240.2 1109 1265C1108.2 1289.8 1099.3 1332.8 1089 1365C1078.7 1397.2 1068.3 1468.8 1040 1480C1011.6 1491.2 939 1455 900 1440C861 1425 795.9 1398.8 780 1380C764.1 1361.2 783.6 1342.8 794 1315Z" fill="#8e2222" />
<path d="M1000 1150C1015 1139.5 1035.9 1142.5 1050 1150C1064.1 1157.5 1085.2 1182.8 1094 1200C1102.8 1217.2 1109.8 1240.2 1109 1265C1108.2 1289.8 1096.3 1341.8 1089 1365C1081.7 1388.2 1073.3 1420.8 1060 1420C1046.7 1419.2 1015 1378 1000 1360C985 1342 967.5 1321 960 1300C952.5 1279 944 1242.5 950 1220C956 1197.5 985 1160.5 1000 1150Z" fill="#a83232" opacity="0.9"/>
<circle cx="705" cy="1345" r="52" fill="#78161a"/>
<path d="M653 1350A52 52 0 0 0 757 1350A54.6 39.0 0 0 1 653 1350Z" fill="#f1a9a8" stroke="#f6c4c0" stroke-width="4"/>
<circle cx="868" cy="1372" r="56" fill="#78161a"/>
<path d="M812 1377A56 56 0 0 0 924 1377A58.800000000000004 42.0 0 0 1 812 1377Z" fill="#f1a9a8" stroke="#f6c4c0" stroke-width="4"/>
<circle cx="1010" cy="1410" r="54" fill="#78161a"/>
<path d="M956 1415A54 54 0 0 0 1064 1415A56.7 40.5 0 0 1 956 1415Z" fill="#f1a9a8" stroke="#f6c4c0" stroke-width="4"/>
<path d="M669 1665C672.8 1653.8 684.2 1620 694 1590C703.8 1560 719 1506.2 734 1465C749 1423.8 776.8 1355.5 794 1315C811.2 1274.5 832.4 1220.5 849 1195C865.6 1169.5 886.2 1154.5 905 1145C923.8 1135.5 952.2 1131.2 974 1132C995.8 1132.8 1032 1139.8 1050 1150C1068 1160.2 1085.2 1182.8 1094 1200C1102.8 1217.2 1109.8 1240.2 1109 1265C1108.2 1289.8 1098.8 1331.2 1089 1365C1079.2 1398.8 1056.8 1456.2 1044 1490C1031.2 1523.8 1014.5 1558.2 1004 1590C993.5 1621.8 976.9 1681 974 1702C971.1 1723 983.4 1725.8 985 1730" fill="none" stroke="#e3716d" stroke-width="9" stroke-linecap="round"/>
<path d="M669 1665L660 1700" stroke="#f6d5d0" stroke-width="11" stroke-linecap="round"/>
</g>
<circle cx="738" cy="586" r="34" fill="url(#redglow)" opacity="0.9"/><circle cx="579" cy="790" r="30" fill="url(#redglow)" opacity="0.9"/><circle cx="620" cy="868" r="32" fill="url(#redglow)" opacity="0.9"/>
<!-- heart_right -->
<g transform="translate(1052.5 467) scale(0.17836)">
<path d="M305 2361L560 2511L555 2671L500 2703L400 2713L320 2683L300 2561Z" fill="#4087c6" />
<path d="M480 2461L560 2511L555 2671L500 2703L470 2707Z" fill="#256ea9" />
<path d="M95 934.4C97.5 923.6 100 882.7 125 887.2C150 891.6 323 959 345 978.9C367 998.6 364.5 1076.8 345 1079.9C325.5 1082.9 174.5 1022.6 150 1013.7C125.5 1004.8 105.5 1001.8 100 994C94.5 986.1 92.5 945.1 95 934.4Z" fill="#8a1517" />
<path d="M95 934.4C97.5 926.5 100 882.7 125 887.2C150 891.6 323 964.1 345 978.9C367 993.6 365.5 1036 345 1034.3C324.5 1032.5 164.5 966.9 140 959.9C115.5 952.9 104.5 968.8 100 966.3C95.5 963.7 92.5 942.3 95 934.4Z" fill="#c4292d" />
<path d="M70 1191C72.5 1181.8 73.5 1163.7 100 1156C126.5 1148.3 311.5 1107.5 335 1114C358.5 1120.5 357.5 1205 335 1221C312.5 1237 136 1271.3 110 1274C84 1276.7 79 1256.3 75 1248C71 1239.7 67.5 1200.2 70 1191Z" fill="#8a1517" />
<path d="M70 1191C72.8 1184.5 73.5 1163.7 100 1156C126.5 1148.3 311.5 1113 335 1114C358.5 1115 358 1155.3 335 1166C312 1176.7 131.3 1215.5 105 1221C78.7 1226.5 75.5 1224 72 1221C68.5 1218 67.2 1197.5 70 1191Z" fill="#c4292d" />
<path d="M1300 1095.8C1310 1071.7 1466 1030.4 1500 1022.2C1534 1014 1624.8 1008.2 1640 1018.6C1655.2 1028.9 1647 1104 1652 1116C1657 1128 1685.2 1134 1690 1148C1694.8 1162 1709 1243.7 1700 1256C1691 1268.3 1630 1271 1600 1271C1570 1271 1430 1273.5 1400 1256C1370 1238.5 1290 1118.5 1300 1095.8Z" fill="#8a1517" />
<path d="M1360 1090.6C1382 1078.3 1571.5 1027.7 1600 1022.2C1628.5 1016.8 1640.8 1031.3 1645 1040.2C1649.2 1049 1658.5 1096.3 1642 1106C1625.5 1115.5 1506.2 1137 1480 1141C1453.8 1145 1392 1151 1380 1146C1368 1141 1338 1102.5 1360 1090.6Z" fill="#c4292d" />
<path d="M1550 1168C1571 1158.5 1665.8 1147.2 1680 1151C1694.2 1154.8 1691.8 1195.7 1692 1206C1692.2 1216.3 1693.2 1248.2 1682 1254C1670.8 1259.8 1601.2 1264.8 1580 1264C1558.8 1263.2 1473 1255.6 1470 1246C1467 1236.4 1529 1177.5 1550 1168Z" fill="#c4292d" />
<path d="M385 690C365.7 667.9 258.9 674.7 230 676C201.1 677.3 178.7 688.5 168 700C157.3 711.5 149.7 744.7 150 762.3C150.3 780.8 158 825.3 170 839.8C182 854.6 212.7 865 240 867C267.3 869 355.7 881.6 375 854.6C394.3 828.2 404.3 712.1 385 690Z" fill="#4087c6" />
<path d="M385 804.1C369.7 800 287.3 821.7 260 821.7C232.7 821.7 193.6 808 180 804.1C166.4 800.3 159.3 788.2 158 792.7C156.7 797.3 159.1 829.8 170 839.8C180.9 850 212.7 865 240 867C267.3 869 355.7 863.1 375 854.6C394.3 846.1 400.3 808.3 385 804.1Z" fill="#256ea9" />
<path d="M335 180C337.5 200 341.7 255 350 300C358.3 345 378.3 400 385 450C391.7 500 391.7 550 390 600C388.3 650 380.8 700 375 750C369.2 804.1 361.7 864.5 355 928C348.3 991.5 341.2 1063.3 335 1106C328.8 1146 320.8 1181 318 1196L400 1221L490 1181C492.5 1168.5 498.3 1143.5 505 1106C511.7 1066.1 520.8 989.4 530 928C539.2 866.6 550 815.8 560 760.2C570 710 583.3 648.3 590 600C596.7 551.7 596.7 508.3 600 470C603.3 431.7 614.2 396.7 610 370C605.8 343.3 588.3 333.3 575 310C561.7 286.7 542.8 260.8 530 230C517.2 199.2 503.3 142.5 498 125Z" fill="#4087c6"/>
<path d="M498 125C510 134.3 519.7 205.3 530 230C540.3 254.7 564.3 291.3 575 310C585.7 328.7 606.7 348.7 610 370C613.3 391.3 602.7 439.3 600 470C597.3 500.7 595.3 561.3 590 600C584.7 638.7 568 720 560 760.2C552 804.1 537.3 878.7 530 928C522.7 977.3 510.3 1074.4 505 1106C499.7 1136 500 1167.7 490 1181C480 1194.3 434.7 1222.7 430 1206C425.3 1189.3 448.3 1095.8 455 1051.9C461.7 1003.9 472.7 915.2 480 864.5C487.3 815.8 503.3 738.7 510 700C516.7 661.3 526.7 596 530 560C533.3 524 539 460.7 535 430C531 399.3 510 355.3 500 330C490 304.7 468 262.7 460 240C452 217.3 434.9 175.3 440 160C445.1 144.7 486 115.7 498 125Z" fill="#256ea9" />
<ellipse cx="415" cy="148" rx="82" ry="36" fill="#1d4f8f" stroke="#4a92d2" stroke-width="10" transform="rotate(-19 415 148)"/>
<path d="M383 215Q405 400 430 560" fill="none" stroke="#7cc3d3" stroke-width="10" stroke-linecap="round"/>
<path d="M603 150C596.8 169.8 628.7 261.5 640 300C651.3 338.5 689.5 449.7 700 480C710.5 510.3 712.5 560 730 560C747.5 560 841.8 498.7 850 480C858.2 461.3 812.8 425.7 800 400C787.2 374.3 752.5 291.5 740 260C727.5 228.5 709 142.8 693 130C677 117.2 609.2 130.2 603 150Z" fill="#df4a4a" />
<path d="M665 140L693 130L740 260L800 400L850 480L800 500L760 420L710 280Z" fill="#c93c3c" />
<path d="M932 130C915.7 148.7 907.8 259.2 900 300C892.2 340.8 853.3 466 865 480C876.7 494 983.1 441 1000 420C1016.9 399 1005.3 332.7 1010 300C1014.7 267.3 1049.1 159.8 1040 140C1030.9 120.2 948.3 111.3 932 130Z" fill="#df4a4a" />
<path d="M1090 160C1075.4 173.4 1051.7 270.8 1040 300C1028.3 329.2 982.4 392.5 990 410C997.6 427.5 1088.7 459.3 1105 450C1121.3 440.7 1123 360.9 1130 330C1137 299.1 1169.7 204.8 1165 185C1160.3 165.2 1104.6 146.6 1090 160Z" fill="#df4a4a" />
<path d="M1140 175L1165 185L1130 330L1105 450L1070 440L1100 330Z" fill="#c93c3c" />
<ellipse cx="648" cy="138" rx="44" ry="17" fill="#b52a2a" stroke="#e35a58" stroke-width="8" transform="rotate(-12 648 138)"/>
<ellipse cx="985" cy="133" rx="54" ry="17" fill="#b52a2a" stroke="#e35a58" stroke-width="8" transform="rotate(5 985 133)"/>
<ellipse cx="1128" cy="170" rx="38" ry="16" fill="#b52a2a" stroke="#e35a58" stroke-width="8" transform="rotate(15 1128 170)"/>
<path d="M535 1063.3C514 1033.7 547.2 923.5 560 864.5C572.8 808.2 599 742 620 700C641 658 679 601.5 700 570C721 538.5 739 505 760 490C781 475 822 472.7 840 470C858 467.3 856.8 481.8 880 472C903.2 462.2 962 409.8 995 405C1028 400.2 1073.8 422.8 1100 440C1126.2 457.2 1149 490 1170 520C1191 550 1222.8 604 1240 640C1257.2 676 1276.8 731.5 1285 760.2C1293.2 791 1307.8 817.2 1295 839.8C1282.2 863 1229.2 898.4 1200 908.8C1170.8 919.3 1130 914.6 1100 908.8C1070 903.1 1025.5 877.3 1000 870.8C974.5 864.3 947.2 856.1 930 864.5C912.8 873 894 899.2 885 928C876 956.8 897.8 1030.7 870 1051.9C842.2 1072.2 750.2 1072.8 700 1074.4C649.8 1076.1 556 1091.1 535 1063.3Z" fill="#df4a4a" />
<path d="M1100 440C1103 431 1149 490 1170 520C1191 550 1222.8 604 1240 640C1257.2 676 1276.8 731.5 1285 760.2C1293.2 791 1307.8 817.2 1295 839.8C1282.2 863 1229.2 898.4 1200 908.8C1170.8 919.3 1130 914.6 1100 908.8C1070 903.1 1003 886.9 1000 870.8C997 854.8 1057.5 831.6 1080 804.1C1102.5 778.1 1139.5 733 1150 700C1160.5 667 1157.5 619 1150 580C1142.5 541 1097 449 1100 440Z" fill="#b62a2a" />
<path d="M655 781.6Q690 660 790 615" fill="none" stroke="#f08b82" stroke-width="8" stroke-linecap="round"/>
<path d="M560 320C569.3 301.1 638.7 330 660 338C681.3 346 710.7 363.7 720 380C729.3 396.3 740.7 445.6 730 460C719.3 474.4 658.7 485.3 640 488C621.3 490.7 600.7 502.4 590 480C579.3 457.6 550.7 338.9 560 320Z" fill="#4087c6" />
<ellipse cx="692" cy="402" rx="27" ry="64" fill="#1d4f8f" stroke="#4087c6" stroke-width="9" transform="rotate(-24 692 402)"/>
<path d="M318 1191C346 1174.7 457.7 1157.3 490 1174C522.3 1190.7 542.7 1287.7 560 1316C577.3 1344.3 628 1367.3 620 1386C612 1404.7 542.7 1444 500 1456C457.3 1468 346.7 1462.7 300 1476C253.3 1489.3 175.3 1532 150 1556C124.7 1580 103.3 1672 110 1656C116.7 1640 177.3 1484 200 1436C222.7 1388 264.3 1328.7 280 1296C295.7 1263.3 290 1207.3 318 1191Z" fill="#b95c72" />
<path d="M300 1236C296 1242.7 248.7 1348.7 230 1386C211.3 1423.3 177.3 1473.3 160 1516C142.7 1558.7 112 1660.7 100 1706C88 1751.3 68.7 1862.7 70 1856C71.3 1849.3 95.3 1706.7 110 1656C124.7 1605.3 160 1518.7 180 1476C200 1433.3 244 1368 260 1336C276 1304 304 1229.3 300 1236Z" fill="#d9748b" />
<path d="M1290 1151C1335 1157 1368.5 1163.2 1400 1176C1431.5 1188.8 1473 1210.5 1500 1236C1527 1261.5 1551.5 1294.2 1580 1346C1608.5 1397.8 1660 1521.8 1690 1581C1720 1640.2 1756 1690 1780 1741C1804 1792 1833.5 1865.5 1850 1921C1866.5 1976.5 1883.2 2052.5 1890 2111C1896.8 2169.5 1899.5 2254 1895 2311C1890.5 2368 1875.8 2440 1860 2491C1844.2 2542 1817 2612 1790 2651C1763 2690 1716 2729.2 1680 2751C1644 2772.8 1592 2788.5 1550 2796C1508 2803.5 1452.5 2805.5 1400 2801C1347.5 2796.5 1260 2780.2 1200 2766C1140 2751.8 1060 2726.2 1000 2706C940 2685.8 860 2655.8 800 2631C740 2606.2 660 2571 600 2541C540 2511 452.5 2464 400 2431C347.5 2398 286 2352.5 250 2321C214 2289.5 182.5 2252.5 160 2221C137.5 2189.5 113.5 2150 100 2111C86.5 2072 74.8 2006 70 1961C65.2 1916 66.5 1856 68 1811C69.5 1766 73.7 1706 80 1661C86.3 1616 96.5 1550.8 110 1511C123.5 1471.2 147.5 1420.8 170 1396C192.5 1371.2 225.5 1356.5 260 1346C294.5 1335.5 355 1326.8 400 1326C445 1325.2 515 1351.5 560 1341C605 1330.5 649 1283.8 700 1256C751 1228.2 840 1174 900 1156C960 1138 1041.5 1136.8 1100 1136C1158.5 1135.2 1245 1145 1290 1151Z" fill="#d8514e" stroke="#c23d3b" stroke-width="5" />
<path d="M170 1396C157.2 1411 123.5 1471.2 110 1511C96.5 1550.8 86.3 1616 80 1661C73.7 1706 69.5 1766 68 1811C66.5 1856 65.2 1916 70 1961C74.8 2006 91.8 2089.2 100 2111C108.2 2132.8 125.3 2128.5 125 2106C124.7 2083.5 102.3 2005.2 98 1961C93.7 1916.8 94.5 1855.2 96 1811C97.5 1766.8 101.7 1709.5 108 1666C114.3 1622.5 125 1559.2 138 1521C151.1 1482.8 190.2 1429.8 195 1411C199.8 1392.2 182.8 1381 170 1396Z" fill="#b95c72" />
<path d="M1500 1236C1515 1249.5 1556 1302.5 1580 1346C1604 1389.5 1651 1498.2 1660 1526C1669 1553.8 1655 1555 1640 1531C1625 1507 1584 1407.2 1560 1366C1536 1324.8 1489 1275.5 1480 1256C1471 1236.5 1485 1222.5 1500 1236Z" fill="#b95c72" />
<path d="M1290 1176C1335 1182 1370 1188.2 1400 1201C1430 1213.8 1466 1236.2 1490 1261C1514 1285.8 1534.5 1316.5 1560 1366C1585.5 1415.5 1633.2 1532.5 1660 1591C1686.8 1649.5 1722.5 1705 1738.5 1756C1754.5 1807 1757.9 1877 1766.8 1931C1775.8 1985 1792.7 2059.8 1798 2116C1803.3 2172.2 1806.2 2251.2 1802 2306C1797.8 2360.8 1781.2 2432.2 1770 2481C1758.8 2529.8 1743.4 2595 1727.1 2631C1710.8 2667 1688.4 2701.1 1661.1 2721C1633.7 2740.9 1584.2 2756.9 1545 2764C1505.8 2771.1 1451 2772.2 1400 2768C1349 2763.8 1263.5 2749.8 1205 2736C1146.5 2722.2 1069 2696.2 1010 2676C951 2655.8 871.2 2625.3 812 2601C752.8 2576.7 673.8 2543.2 615 2514C556.2 2484.8 471 2438.4 420 2406C369 2373.6 309.5 2328 275 2298C240.5 2268 211.4 2235.6 190 2206C168.6 2176.4 145.1 2138.5 132 2101C119 2063.5 107.8 1999.5 103 1956C98.2 1912.5 98.7 1854.5 100 1811C101.3 1767.5 106 1708.8 112 1666C118 1623.2 127.5 1562.8 140 1526C152.4 1489.2 175.5 1443.8 195 1421C214.5 1398.2 239.2 1384 270 1374C300.8 1364 356.5 1354.9 400 1354C443.5 1353.1 515 1378.2 560 1368C605 1357.8 649 1313.3 700 1286C751 1258.7 840 1204.8 900 1186C960 1167.2 1041.5 1162.5 1100 1161C1158.5 1159.5 1245 1170 1290 1176Z" fill="#e8817c" />
<path d="M1075 1491C1099 1464.8 1161.8 1407.8 1200 1386C1238.2 1364.2 1292.5 1349 1330 1346C1367.5 1343 1418.5 1354 1450 1366C1481.5 1378 1519 1400.5 1540 1426C1561 1451.5 1584 1501.5 1590 1536C1596 1570.5 1580 1619.2 1580 1656C1580 1692.8 1587 1741.2 1590 1781C1593 1820.8 1595.5 1879 1600 1921C1604.5 1963 1614 2017.5 1620 2061C1626 2104.5 1636.2 2166 1640 2211C1643.8 2256 1646.5 2324.2 1645 2361C1643.5 2397.8 1636.8 2431.2 1630 2456C1623.2 2480.8 1610.5 2511 1600 2526C1589.5 2541 1572 2553 1560 2556C1548 2559 1530.5 2555 1520 2546C1509.5 2537 1499 2515.5 1490 2496C1481 2476.5 1473.5 2443 1460 2416C1446.5 2389 1421 2344.5 1400 2316C1379 2287.5 1350 2255.2 1320 2226C1290 2196.8 1233 2156.2 1200 2121C1167 2085.8 1128.5 2033 1100 1991C1071.5 1949 1025 1886 1010 1841C995 1796 995.5 1733 1000 1691C1004.5 1649 1028.8 1591 1040 1561C1051.2 1531 1051 1517.2 1075 1491Z" fill="#a83232" />
<path d="M1100 1456C1100 1447 1165.5 1402.5 1200 1386C1234.5 1369.5 1292.5 1349 1330 1346C1367.5 1343 1418.5 1354 1450 1366C1481.5 1378 1519.8 1403.5 1540 1426C1560.2 1448.5 1594 1511.5 1585 1516C1576 1520.5 1518.2 1469.5 1480 1456C1441.8 1442.5 1372 1427.5 1330 1426C1288 1424.5 1234.5 1441.5 1200 1446C1165.5 1450.5 1100 1465 1100 1456Z" fill="#8e2222" />
<ellipse cx="1360" cy="1356" rx="44" ry="58" fill="#8e2222" transform="rotate(15 1360 1356)"/>
<ellipse cx="1372" cy="1351" rx="26" ry="40" fill="#7f1b1d" transform="rotate(15 1372 1351)"/>
<path d="M235 1431C256.8 1410 297.8 1390.8 330 1381C362.2 1371.2 418.5 1364.5 450 1366C481.5 1367.5 514.5 1375.2 540 1391C565.5 1406.8 596 1441 620 1471C644 1501 692.5 1555 700 1591C707.5 1627 676 1673.5 670 1711C664 1748.5 669 1803.5 660 1841C651 1878.5 631 1928 610 1961C589 1994 551.5 2035.5 520 2061C488.5 2086.5 443.5 2111.5 400 2131C356.5 2150.5 261.5 2192.5 230 2191C198.5 2189.5 202 2155.5 190 2121C178 2086.5 158.2 2007.5 150 1961C141.8 1914.5 135 1856 135 1811C135 1766 142.5 1704.5 150 1661C157.5 1617.5 172.2 1555.5 185 1521C197.8 1486.5 213.2 1452 235 1431Z" fill="#a83232" />
<path d="M235 1431C256.8 1410 297.8 1390.8 330 1381C362.2 1371.2 418.5 1364.5 450 1366C481.5 1367.5 517.5 1378.2 540 1391C562.5 1403.8 606 1445 600 1451C594 1457 533 1431 500 1431C467 1431 411.5 1437.5 380 1451C348.5 1464.5 310.2 1489.5 290 1521C269.8 1552.5 253.2 1617.5 245 1661C236.8 1704.5 232.8 1763 235 1811C237.2 1859 250.2 1934.5 260 1981C269.8 2027.5 304.5 2089.5 300 2121C295.5 2152.5 246.5 2191 230 2191C213.5 2191 202 2155.5 190 2121C178 2086.5 158.2 2007.5 150 1961C141.8 1914.5 135 1856 135 1811C135 1766 142.5 1704.5 150 1661C157.5 1617.5 172.2 1555.5 185 1521C197.8 1486.5 213.2 1452 235 1431Z" fill="#8e2222" />
<ellipse cx="415" cy="1973" rx="128" ry="88" fill="#78161a" transform="rotate(8 415 1973)"/>
<path d="M700 1591C713.3 1535 733.3 1459.7 760 1421C786.7 1382.3 868 1295.7 900 1301C932 1306.3 988.7 1409 1000 1461C1011.3 1513 993 1637.7 985 1691C977 1744.3 944.7 1819.7 940 1861C935.3 1902.3 942 1966.3 950 2001C958 2035.7 982.7 2089 1000 2121C1017.3 2153 1056 2209 1080 2241C1104 2273 1156 2331.7 1180 2361C1204 2390.3 1244 2434.3 1260 2461C1276 2487.7 1293.3 2535.7 1300 2561C1306.7 2586.3 1316.7 2639 1310 2651C1303.3 2663 1284.7 2655 1250 2651C1215.3 2647 1103.3 2634.3 1050 2621C996.7 2607.7 903.3 2572.3 850 2551C796.7 2529.7 703.3 2486.3 650 2461C596.7 2435.7 506 2396.3 450 2361C394 2325.7 236.7 2226 230 2196C223.3 2166 361.3 2153.3 400 2136C438.7 2118.7 492 2088.7 520 2066C548 2043.3 591.3 1996 610 1966C628.7 1936 648 1891 660 1841C672 1791 686.7 1647 700 1591Z" fill="#a83232" />
<path d="M700 1591C707.5 1541.5 725 1506.5 740 1481C755 1455.5 783.5 1421 800 1421C816.5 1421 850 1451 850 1481C850 1511 812 1576 800 1621C788 1666 771.5 1730 770 1781C768.5 1832 776.5 1910 790 1961C803.5 2012 834.5 2076 860 2121C885.5 2166 927 2219 960 2261C993 2303 1047 2362 1080 2401C1113 2440 1157.5 2485 1180 2521C1202.5 2557 1237.5 2624.5 1230 2641C1222.5 2657.5 1155.5 2653.5 1130 2631C1104.5 2608.5 1085.5 2531.5 1060 2491C1034.5 2450.5 991.5 2398.5 960 2361C928.5 2323.5 880 2280 850 2241C820 2202 781 2143 760 2101C739 2059 720.5 2004.5 710 1961C699.5 1917.5 691.5 1866.5 690 1811C688.5 1755.5 692.5 1640.5 700 1591Z" fill="#8e2222" />
<path d="M860 1661C873.5 1628 915 1616.5 930 1621C945 1625.5 960 1658 960 1691C960 1724 936 1797.5 930 1841C924 1884.5 915.5 1942 920 1981C924.5 2020 942 2065 960 2101C978 2137 1034 2200 1040 2221C1046 2242 1019.5 2254.5 1000 2241C980.5 2227.5 931 2167 910 2131C889 2095 870.5 2044.5 860 2001C849.5 1957.5 840 1892 840 1841C840 1790 846.5 1694 860 1661Z" fill="#8e2222" />
<path d="M240 2211C244.5 2202 298.5 2198 330 2201C361.5 2204 415.5 2214.5 450 2231C484.5 2247.5 522.5 2285.5 560 2311C597.5 2336.5 661 2375.5 700 2401C739 2426.5 790 2457 820 2481C850 2505 903 2553.5 900 2561C897 2568.5 837.5 2546 800 2531C762.5 2516 702.5 2486.5 650 2461C597.5 2435.5 502.5 2391 450 2361C397.5 2331 331.5 2283.5 300 2261C268.5 2238.5 235.5 2220 240 2211Z" fill="#8e2222" />
<path d="M300 2231C309 2223.5 387 2229 420 2241C453 2253 499 2293 520 2311C541 2329 569 2356.5 560 2361C551 2365.5 490 2351.5 460 2341C430 2330.5 384 2307.5 360 2291C336 2274.5 291 2238.5 300 2231Z" fill="#c23a3a" />
<ellipse cx="940" cy="2551" rx="35" ry="55" fill="#bd4141" stroke="#8e2222" stroke-width="14" transform="rotate(-20 940 2551)"/>
<ellipse cx="1030" cy="2576" rx="35" ry="50" fill="#bd4141" stroke="#8e2222" stroke-width="14" transform="rotate(-15 1030 2576)"/>
<ellipse cx="1120" cy="2541" rx="42" ry="55" fill="#bd4141" stroke="#8e2222" stroke-width="14" transform="rotate(10 1120 2541)"/>
<ellipse cx="1215" cy="2591" rx="38" ry="50" fill="#bd4141" stroke="#8e2222" stroke-width="14" transform="rotate(20 1215 2591)"/>
<ellipse cx="1270" cy="2491" rx="28" ry="45" fill="#bd4141" stroke="#8e2222" stroke-width="14" transform="rotate(10 1270 2491)"/>
<path d="M940 1861C941.5 1882 941 1962 950 2001C959 2040 980.5 2085 1000 2121C1019.5 2157 1053 2205 1080 2241C1107 2277 1153 2328 1180 2361C1207 2394 1242 2431 1260 2461C1278 2491 1292.5 2531 1300 2561C1307.5 2591 1308.5 2646 1310 2661L1530 2621C1525.5 2604.5 1510.5 2541 1500 2511C1489.5 2481 1475 2449.5 1460 2421C1445 2392.5 1421 2349.5 1400 2321C1379 2292.5 1350 2261 1320 2231C1290 2201 1233 2157 1200 2121C1167 2085 1128.5 2033 1100 1991C1071.5 1949 1026.5 1886 1010 1841C993.5 1796 993 1713.5 990 1691Z" fill="#e8817c"/>
<path d="M1040 1581C1053.5 1560 1096 1583 1120 1601C1144 1619 1179 1662 1200 1701C1221 1740 1246.5 1810 1260 1861C1273.5 1912 1291.5 2011 1290 2041C1288.5 2071 1266.5 2073 1250 2061C1233.5 2049 1202.5 1994 1180 1961C1157.5 1928 1122.5 1874 1100 1841C1077.5 1808 1039 1780 1030 1741C1021 1702 1026.5 1602 1040 1581Z" fill="#8e2222" />
<path d="M1440 1661C1447.5 1634 1498.2 1601 1520 1601C1541.8 1601 1574.5 1634 1585 1661C1595.5 1688 1587 1742 1590 1781C1593 1820 1599.8 1876 1605 1921C1610.2 1966 1619.5 2033 1625 2081C1630.5 2129 1640.5 2199 1642 2241C1643.5 2283 1641.3 2358 1635 2361C1628.7 2364 1609.8 2306 1600 2261C1590.2 2216 1580.5 2118 1570 2061C1559.5 2004 1545 1923 1530 1881C1515 1839 1483.5 1814 1470 1781C1456.5 1748 1432.5 1688 1440 1661Z" fill="#8e2222" />
<path d="M1330 1781C1342 1769 1382 1817 1400 1841C1418 1865 1438 1908 1450 1941C1462 1974 1484.5 2034 1480 2061C1475.5 2088 1438 2121 1420 2121C1402 2121 1375 2091 1360 2061C1345 2031 1324.5 1963 1320 1921C1315.5 1879 1318 1793 1330 1781Z" fill="#8e2222" />
<path d="M1280 2041C1287.5 2027.5 1316.5 2033 1330 2051C1343.5 2069 1359.5 2123.5 1370 2161C1380.5 2198.5 1398.5 2271 1400 2301C1401.5 2331 1392 2367 1380 2361C1368 2355 1335 2294 1320 2261C1305 2228 1286 2174 1280 2141C1274 2108 1272.5 2054.5 1280 2041Z" fill="#bd4141" stroke="#8e2222" stroke-width="10" />
<path d="M1470 2031C1476 2016 1506.5 2021.5 1520 2041C1533.5 2060.5 1551 2119 1560 2161C1569 2203 1580 2288 1580 2321C1580 2354 1569 2390 1560 2381C1551 2372 1532 2297 1520 2261C1508 2225 1487.5 2175.5 1480 2141C1472.5 2106.5 1464 2046 1470 2031Z" fill="#bd4141" stroke="#8e2222" stroke-width="10" />
<ellipse cx="1440" cy="2361" rx="28" ry="55" fill="#bd4141" stroke="#8e2222" stroke-width="14" transform="rotate(-20 1440 2361)"/>
<ellipse cx="1510" cy="2461" rx="26" ry="50" fill="#bd4141" stroke="#8e2222" stroke-width="14" transform="rotate(-15 1510 2461)"/>
<ellipse cx="1580" cy="2451" rx="30" ry="50" fill="#bd4141" stroke="#8e2222" stroke-width="14" transform="rotate(10 1580 2451)"/>
<path d="M640 2251C637 2231.5 679 2230.5 700 2241C721 2251.5 759 2294 780 2321C801 2348 837 2401.5 840 2421C843 2440.5 818 2458.5 800 2451C782 2443.5 744 2401 720 2371C696 2341 643 2270.5 640 2251Z" fill="#bd4141" stroke="#8e2222" stroke-width="8" />
<path d="M740 2161C737 2141.5 776 2136 800 2151C824 2166 876 2229.5 900 2261C924 2292.5 957 2343 960 2361C963 2379 941 2393 920 2381C899 2369 847 2314 820 2281C793 2248 743 2180.5 740 2161Z" fill="#bd4141" stroke="#8e2222" stroke-width="8" />
<path d="M830 2371C833 2357.5 858 2350.5 870 2361C882 2371.5 901 2417 910 2441C919 2465 933 2510.5 930 2521C927 2531.5 902 2521.5 890 2511C878 2500.5 859 2472 850 2451C841 2430 827 2384.5 830 2371Z" fill="#bd4141" stroke="#8e2222" stroke-width="8" />
<path d="M950 2321C953.8 2309.8 976 2304 985 2316C994 2328 1004.8 2377.8 1010 2401C1015.2 2424.2 1023.8 2463.5 1020 2471C1016.2 2478.5 994 2463 985 2451C976 2439 965.2 2410.5 960 2391C954.8 2371.5 946.2 2332.2 950 2321Z" fill="#bd4141" stroke="#8e2222" stroke-width="8" />
<path d="M225 2196C238.3 2187.6 360.7 2153.3 400 2136C439.3 2118.7 492 2088.7 520 2066C548 2043.3 591.3 1996 610 1966C628.7 1936 652.3 1873.7 660 1841C667.7 1808.3 664 1721 668 1721C672 1721 682.4 1805 690 1841C697.6 1877 710.3 1952.3 725 1991C739.7 2029.7 779.3 2097.7 800 2131C820.7 2164.3 858.7 2215.7 880 2241C901.3 2266.3 957.3 2313 960 2321C962.7 2329 916 2297 900 2301C884 2305 853.3 2335 840 2351C826.7 2367 813.3 2419.7 800 2421C786.7 2422.3 754.7 2374.3 740 2361C725.3 2347.7 703.3 2334.3 690 2321C676.7 2307.7 657.3 2273 640 2261C622.7 2249 585.3 2238.3 560 2231C534.7 2223.7 484.7 2210.3 450 2206C415.3 2201.7 330 2200.3 300 2199C270 2197.7 211.7 2204.4 225 2196Z" fill="#f2c5c0" />
<path d="M500 2121C503.3 2097.7 556.7 2067.7 580 2041C603.3 2014.3 625 1961 640 1961C655 1961 660 2011 670 2041C680 2071 703.3 2114.3 700 2141C696.7 2167.7 673.3 2194.3 650 2201C626.7 2207.7 585 2194.3 560 2181C535 2167.7 496.7 2144.3 500 2121Z" fill="#fae3df" />
<path d="M225 2196L400 2136" stroke="#fae3df" stroke-width="6" fill="none"/>
<path d="M640 2261L800 2431M700 2221L830 2371M760 2181L900 2321M800 2151L950 2316M600 2241L700 2346" stroke="#f2c5c0" stroke-width="7" fill="none" stroke-linecap="round"/>
<path d="M1070 1491C1064.2 1490.4 1134.8 1542.3 1150 1561C1165.2 1579.7 1188.3 1625.3 1200 1651C1211.7 1676.7 1240.1 1749.5 1250 1781C1259.9 1812.5 1279.4 1889.5 1285 1921C1290.6 1952.5 1294.2 2051 1298 2051C1301.8 2051 1314.3 1954.8 1318 1921C1321.7 1887.2 1321 1770.3 1330 1761C1339 1751.7 1381 1820 1395 1841C1409 1862 1439.2 1918.8 1450 1941C1460.8 1963.2 1485.4 2038 1488 2031C1490.6 2024 1478.5 1914.8 1472 1881C1465.5 1847.2 1435.7 1769 1432 1741C1428.3 1713 1432.1 1662 1440 1641C1447.9 1620 1485.1 1577.1 1500 1561C1514.9 1544.9 1573.8 1498.9 1568 1503C1562.2 1507.1 1477.8 1582.8 1450 1596C1422.2 1609.2 1359.2 1619.5 1330 1616C1300.8 1612.5 1230.3 1580.6 1200 1566C1169.7 1551.4 1075.8 1491.6 1070 1491Z" fill="#f2c5c0" />
<path d="M1230 1621C1240 1606.8 1298.3 1636 1330 1636C1361.7 1636 1408.3 1610.2 1420 1621C1431.7 1631.8 1415 1681 1400 1701C1385 1721 1351.7 1737.7 1330 1741C1308.3 1744.3 1286.7 1741 1270 1721C1253.3 1701 1220 1635.2 1230 1621Z" fill="#fae3df" />
<path d="M520 1063.3C521.2 1019.2 526.5 962.1 540 928C553.5 893.9 586 858 610 842.3C634 826.8 671.5 818.5 700 821.7C728.5 825 774.5 841.3 800 864.5C825.5 888.2 856.2 938.9 870 978.9C883.8 1018 892 1075.5 892 1116C892 1155 882 1212.5 870 1256C858 1299.5 830.8 1365.5 812 1406C793.2 1446.5 761.8 1499 745 1526C728.2 1553 715.8 1593.5 700 1586C684.2 1578.5 658 1510.5 640 1476C622 1441.5 596.2 1396.5 580 1356C563.8 1315.5 541 1249.5 532 1206C523 1162.5 518.8 1103.5 520 1063.3Z" fill="#e8817c" stroke="#d8605c" stroke-width="4" />
<path d="M548 1063.3C548.9 1021.4 554.5 972.4 566 943.4C577.5 914.2 604.9 887.7 625 874.5C645.1 861.5 676 852.7 700 855.8C724 858.9 763.2 874.8 785 896.1C806.8 917.5 833.1 962.7 845 997.7C856.9 1031.6 864.3 1078.8 864 1116C863.7 1152 854.1 1209.8 843 1251C831.9 1292.2 807 1353.5 790 1391C773 1428.5 743.5 1477.8 730 1501C716.5 1524.2 710.2 1551.2 700 1546C689.8 1540.8 676.1 1495.2 662 1466C647.9 1436.8 621.3 1390 606 1351C590.7 1312 568.7 1248.8 560 1206C551.3 1163.2 547.1 1101.7 548 1063.3Z" fill="#8e2222" />
<path d="M690 864.5C698.2 841.3 761.8 876.1 785 896.1C808.2 916.2 833.1 962.7 845 997.7C856.9 1031.6 864.3 1078.8 864 1116C863.7 1152 854.1 1209.8 843 1251C831.9 1292.2 805.5 1355.8 790 1391C774.5 1426.2 750.5 1491.2 740 1486C729.5 1480.8 720 1398 720 1356C720 1314 738.5 1251 740 1206C741.5 1161 737.5 1101 730 1051.9C722.5 997.7 681.8 888.2 690 864.5Z" fill="#a83232" />
<path d="M600 1386Q680 1506 740 1576L760 1616" stroke="#e8817c" stroke-width="22" fill="none"/>
<path d="M895 889.7C904.6 875.4 940.7 858.3 960 858.3C979.3 858.3 1020 880.5 1040 889.7C1060 899 1082 936.6 1110 928C1138 919.4 1211.3 853.7 1250 827.7C1288.7 802.6 1360 758.8 1400 740C1440 721.3 1511.3 692 1550 680C1588.7 668 1667.1 650 1690 650C1712.9 650 1718.7 670.4 1722 680C1725.3 689.6 1731.3 709.7 1715 722C1698.7 734.3 1624.7 760.5 1600 772.9C1575.3 785.7 1530 806 1530 815.8C1530 825.8 1577.3 840.2 1600 845.9C1622.7 851.7 1682.7 850.5 1700 858.3C1717.3 866.1 1730 888.8 1730 905C1730 921.2 1717.3 965.4 1700 978.9C1682.7 992.4 1629.3 1004.4 1600 1006.4C1570.7 1008.3 1513.3 987.6 1480 994C1446.7 1000.3 1378 1031.7 1350 1051.9C1322 1071.2 1290 1112 1270 1136C1250 1160 1218.7 1206.7 1200 1236C1181.3 1265.3 1142.7 1334.7 1130 1356C1117.3 1377.3 1109.7 1409.3 1105 1396C1100.3 1382.7 1111.7 1284 1095 1256C1078.3 1228 1010 1190.7 980 1186C950 1181.3 876.7 1231.7 870 1221C863.3 1210.3 918 1125.3 930 1106C942 1086 963.3 1081.7 960 1074.4C956.7 1067 914.6 1065.5 905 1051.9C895.4 1037.8 889.3 988.1 888 966.3C886.7 944.2 885.4 904.1 895 889.7Z" fill="#4087c6" />
<path d="M1730 905C1732.7 911.8 1717.3 965.4 1700 978.9C1682.7 992.4 1629.3 1004.4 1600 1006.4C1570.7 1008.3 1513.3 987.6 1480 994C1446.7 1000.3 1378 1031.7 1350 1051.9C1322 1071.2 1290 1112 1270 1136C1250 1160 1218.7 1206.7 1200 1236C1181.3 1265.3 1142.7 1334.7 1130 1356C1117.3 1377.3 1109 1404 1105 1396C1101 1388 1090 1328 1100 1296C1110 1264 1156 1189.3 1180 1156C1204 1122.7 1248 1067.8 1280 1040.2C1312 1011.3 1382.7 967.2 1420 953.6C1457.3 939.9 1525.3 944.2 1560 940.8C1594.7 937.3 1657.3 932.7 1680 928C1702.7 923.3 1727.3 898.2 1730 905Z" fill="#256ea9" />
<path d="M888 966.3C891.3 966.3 895.4 1037.8 905 1051.9C914.6 1065.5 956.7 1067 960 1074.4C963.3 1081.7 938 1093.7 930 1106C922 1118 906.7 1172.7 900 1166C893.3 1159.3 881.6 1078.8 880 1051.9C878.4 1023.5 884.7 966.3 888 966.3Z" fill="#256ea9" />
<path d="M1072 1097.9Q1150 1003.9 1240 940.8" fill="none" stroke="#7cc3d3" stroke-width="9" stroke-linecap="round"/>
<path d="M794 1371C804.4 1343.2 832.4 1276.5 849 1251C865.6 1225.5 886.2 1210.5 905 1201C923.8 1191.5 952.2 1187.2 974 1188C995.8 1188.8 1032 1195.8 1050 1206C1068 1216.2 1085.2 1238.8 1094 1256C1102.8 1273.2 1109.8 1296.2 1109 1321C1108.2 1345.8 1099.3 1388.8 1089 1421C1078.7 1453.2 1068.3 1524.8 1040 1536C1011.6 1547.2 939 1511 900 1496C861 1481 795.9 1454.8 780 1436C764.1 1417.2 783.6 1398.8 794 1371Z" fill="#8e2222" />
<path d="M1000 1206C1015 1195.5 1035.9 1198.5 1050 1206C1064.1 1213.5 1085.2 1238.8 1094 1256C1102.8 1273.2 1109.8 1296.2 1109 1321C1108.2 1345.8 1096.3 1397.8 1089 1421C1081.7 1444.2 1073.3 1476.8 1060 1476C1046.7 1475.2 1015 1434 1000 1416C985 1398 967.5 1377 960 1356C952.5 1335 944 1298.5 950 1276C956 1253.5 985 1216.5 1000 1206Z" fill="#a83232" opacity="0.9"/>
<circle cx="705" cy="1401" r="52" fill="#78161a"/>
<path d="M653 1406A52 52 0 0 0 757 1406A54.6 39.0 0 0 1 653 1406Z" fill="#f1a9a8" stroke="#f6c4c0" stroke-width="4"/>
<circle cx="868" cy="1428" r="56" fill="#78161a"/>
<path d="M812 1433A56 56 0 0 0 924 1433A58.800000000000004 42.0 0 0 1 812 1433Z" fill="#f1a9a8" stroke="#f6c4c0" stroke-width="4"/>
<circle cx="1010" cy="1466" r="54" fill="#78161a"/>
<path d="M956 1471A54 54 0 0 0 1064 1471A56.7 40.5 0 0 1 956 1471Z" fill="#f1a9a8" stroke="#f6c4c0" stroke-width="4"/>
<path d="M669 1721C672.8 1709.8 684.2 1676 694 1646C703.8 1616 719 1562.2 734 1521C749 1479.8 776.8 1411.5 794 1371C811.2 1330.5 832.4 1276.5 849 1251C865.6 1225.5 886.2 1210.5 905 1201C923.8 1191.5 952.2 1187.2 974 1188C995.8 1188.8 1032 1195.8 1050 1206C1068 1216.2 1085.2 1238.8 1094 1256C1102.8 1273.2 1109.8 1296.2 1109 1321C1108.2 1345.8 1098.8 1387.2 1089 1421C1079.2 1454.8 1056.8 1512.2 1044 1546C1031.2 1579.8 1014.5 1614.2 1004 1646C993.5 1677.8 976.9 1737 974 1758C971.1 1779 983.4 1781.8 985 1786" fill="none" stroke="#e3716d" stroke-width="9" stroke-linecap="round"/>
<path d="M669 1721L660 1756" stroke="#f6d5d0" stroke-width="11" stroke-linecap="round"/>
</g>
<circle cx="1258" cy="585" r="36" fill="url(#redglow)" opacity="0.9"/><circle cx="1365" cy="861" r="40" fill="url(#redglow)" opacity="0.8"/><circle cx="1347" cy="923" r="32" fill="url(#redglow)" opacity="0.85"/>
<!-- lines -->
<g fill="none" stroke="#222" stroke-linecap="butt">
  <!-- central fork -->
  <path d="M947.3 278.5V473" stroke-width="4.2"/>
  <path d="M947.3 472.5L812 538.5M947.3 472.5L1083 538.5" stroke-width="4.6"/>
  <path d="M799.5 545L814 526.5L824 545Z M1095.5 545L1081 526.5L1071 545Z" fill="#222" stroke="none"/>
  <!-- exercise arrow -->
  <path d="M970 1332H1233V1200" stroke-width="4.4" stroke-linejoin="miter"/>
  <path d="M1233 1185L1222 1207H1244Z" fill="#222" stroke="none"/>
</g>
<g fill="none" stroke="#222" stroke-dasharray="6.6 6">
  <path d="M506.5 281L730.6 587M350.6 455L730.6 587" stroke-width="3.6"/>
  <path d="M492.7 625L579.6 792M440 895L579.6 792" stroke-width="2.9"/>
  <path d="M228 1010L622 872.2M506.3 1243.6L622 872.2" stroke-width="2.9"/>
  <path d="M1564.7 235.8L1256.3 585.4M1740 478.5L1256.3 585.4" stroke-width="3.1"/>
  <path d="M1573 663.7L1364 857.4M1608.6 897.7L1364 857.4" stroke-width="3.1"/>
  <path d="M1736.7 983.2L1351.3 922.4M1544.5 1291.7L1351.3 922.4" stroke-width="2.5"/>
  <path d="M722.6 587.5L730.6 587L728.7 579.2" stroke-width="3.2" stroke-dasharray="none" stroke-linejoin="miter"/>
  <path d="M573.4 795.2L579.6 792L575.4 786.4" stroke-width="2.6" stroke-dasharray="none" stroke-linejoin="miter"/>
  <path d="M621.5 879.2L622 872.2L615.0 872.9" stroke-width="2.6" stroke-dasharray="none" stroke-linejoin="miter"/>
  <path d="M1258.6 578.8L1256.3 585.4L1263.2 586.6" stroke-width="2.8" stroke-dasharray="none" stroke-linejoin="miter"/>
  <path d="M1367.8 851.5L1364 857.4L1370.4 860.2" stroke-width="2.8" stroke-dasharray="none" stroke-linejoin="miter"/>
  <path d="M1357.8 921.9L1351.3 922.4L1352.9 928.7" stroke-width="2.2" stroke-dasharray="none" stroke-linejoin="miter"/>
</g>

<!-- vessel_dead -->
<g>
<path d="M274.7 31.2A212.3 212.3 0 0 1 344.4 448.1" fill="none" stroke="#111" stroke-width="3.6"/>
<circle cx="288.8" cy="243" r="211" fill="#da6a6a"/>
<circle cx="277" cy="245.5" r="189" fill="#f8aab2"/>
<path d="M456.5 245.5L460.4 247.1L460.2 248.7L460.1 250.3L459.9 251.9L459.8 253.5L459.6 255.1L459.4 256.7L459.3 258.2L459.1 259.8L458.9 261.4L458.7 263L458.4 264.6L458.2 266.1L458 267.7L457.7 269.3L457.5 270.9L457.2 272.4L456.9 274L456.7 275.6L456.4 277.1L456.1 278.7L455.7 280.2L455.4 281.8L455.1 283.4L454.7 284.9L454.4 286.4L454 288L453.6 289.5L453.2 291.1L452.8 292.6L452.4 294.1L452 295.7L451.5 297.2L451 298.7L450.6 300.2L450.1 301.7L449.6 303.2L449.1 304.8L448.6 306.3L448 307.7L447.5 309.2L446.9 310.7L446.3 312.2L445.8 313.7L445.2 315.2L444.6 316.6L443.9 318.1L443.3 319.5L442.7 321L442 322.5L441.4 323.9L440.7 325.3L440 326.8L439.3 328.2L438.6 329.6L437.9 331.1L437.2 332.5L436.5 333.9L435.7 335.3L435 336.7L434.2 338.1L433.5 339.5L432.7 340.9L431.9 342.3L431.2 343.7L430.4 345.1L429.6 346.5L428.8 347.9L427.9 349.2L427.1 350.6L426.3 352L425.5 353.4L420.9 352L419.6 353L418.3 354L417.1 354.9L415.8 355.9L414.6 356.9L413.3 357.9L412 358.8L410.8 359.8L409.5 360.7L408.2 361.6L406.9 362.5L405.6 363.3L404.2 364.1L402.8 364.9L401.4 365.7L400 366.4L398.5 367L397 367.6L395.5 368.2L393.9 368.7L392.3 369.2L390.7 369.6L389.1 369.9L387.4 370.3L385.8 370.6L384.1 370.9L382.5 371.2L380.9 371.6L379.4 371.9L377.9 372.3L376.4 372.8L375.1 373.3L373.7 373.9L372.5 374.6L371.3 375.3L370.2 376.2L369.2 377.2L368.2 378.2L367.3 379.4L366.4 380.6L365.6 381.9L364.8 383.3L364 384.7L363.2 386.1L362.4 387.6L361.6 389.1L360.7 390.5L359.9 392L359 393.4L358 394.8L357.1 396.1L356.1 397.4L355 398.6L353.9 399.8L352.8 401L351.7 402.1L350.5 403.1L349.3 404.2L348.1 405.2L346.9 406.1L345.6 407.1L344.3 408L343 408.9L341.7 409.9L340.4 410.8L339.1 411.6L337.8 412.5L336.5 413.4L335.1 414.4L333.8 415.3L332.5 416.2L332.1 420.4L330.6 420.8L329 421.1L327.5 421.5L325.9 421.8L324.3 422.1L322.8 422.5L321.2 422.8L319.6 423.1L318.1 423.4L316.5 423.7L314.9 424L313.4 424.2L311.8 424.5L310.2 424.7L308.6 425L307.1 425.2L305.5 425.4L303.9 425.7L302.3 425.9L300.8 426.1L299.2 426.2L297.6 426.4L296 426.6L294.4 426.7L292.9 426.8L291.3 427L289.7 427.1L288.1 427.2L286.5 427.3L284.9 427.3L283.4 427.4L281.8 427.4L280.2 427.5L278.6 427.5L277 427.5L275.4 427.5L273.8 427.5L272.2 427.4L270.6 427.4L269.1 427.3L267.5 427.3L265.9 427.2L264.3 427.1L262.7 427L261.1 426.8L259.6 426.7L258 426.6L256.4 426.4L254.8 426.2L253.2 426.1L251.7 425.9L250.1 425.7L248.5 425.4L246.9 425.2L245.4 425L243.8 424.7L242.2 424.5L240.6 424.2L239.1 424L237.5 423.7L235.9 423.4L234.4 423.1L232.8 422.8L231.2 422.5L229.7 422.1L228.1 421.8L226.5 421.5L225 421.1L223.4 420.8L221.9 420.4L220.3 420L220.2 415.3L218.9 414.4L217.5 413.4L216.2 412.5L214.9 411.6L213.6 410.8L212.3 409.9L211 408.9L209.7 408L208.4 407.1L207.1 406.1L205.9 405.2L204.7 404.2L203.5 403.1L202.3 402.1L201.2 401L200.1 399.8L199 398.6L197.9 397.4L196.9 396.1L196 394.8L195 393.4L194.1 392L193.3 390.5L192.4 389.1L191.6 387.6L190.8 386.1L190 384.7L189.2 383.3L188.4 381.9L187.6 380.6L186.7 379.4L185.8 378.2L184.8 377.2L183.8 376.2L182.7 375.3L181.5 374.6L180.3 373.9L178.9 373.3L177.6 372.8L176.1 372.3L174.6 371.9L173.1 371.6L171.5 371.2L169.9 370.9L168.2 370.6L166.6 370.3L164.9 369.9L163.3 369.6L161.7 369.2L160.1 368.7L158.5 368.2L157 367.6L155.5 367L154 366.4L152.6 365.7L151.2 364.9L149.8 364.1L148.4 363.3L147.1 362.5L145.8 361.6L144.5 360.7L143.2 359.8L142 358.8L140.7 357.9L139.4 356.9L138.2 355.9L136.9 354.9L135.7 354L134.4 353L133.1 352L131.8 351L127.7 352L126.9 350.6L126.1 349.2L125.2 347.9L124.4 346.5L123.6 345.1L122.8 343.7L122.1 342.3L121.3 340.9L120.5 339.5L119.8 338.1L119 336.7L118.3 335.3L117.5 333.9L116.8 332.5L116.1 331.1L115.4 329.6L114.7 328.2L114 326.8L113.3 325.3L112.6 323.9L112 322.5L111.3 321L110.7 319.5L110.1 318.1L109.4 316.6L108.8 315.2L108.2 313.7L107.7 312.2L107.1 310.7L106.5 309.2L106 307.7L105.4 306.3L104.9 304.8L104.4 303.2L103.9 301.7L103.4 300.2L103 298.7L102.5 297.2L102 295.7L101.6 294.1L101.2 292.6L100.8 291.1L100.4 289.5L100 288L99.6 286.4L99.3 284.9L98.9 283.4L98.6 281.8L98.3 280.2L97.9 278.7L97.6 277.1L97.3 275.6L97.1 274L96.8 272.4L96.5 270.9L96.3 269.3L96 267.7L95.8 266.1L95.6 264.6L95.3 263L95.1 261.4L94.9 259.8L94.7 258.2L94.6 256.7L94.4 255.1L94.2 253.5L94.1 251.9L93.9 250.3L93.8 248.7L93.6 247.1L93.5 245.5L93.6 243.9L93.8 242.3L93.9 240.7L94.1 239.1L94.2 237.5L94.4 235.9L94.6 234.3L94.7 232.8L94.9 231.2L95.1 229.6L95.3 228L95.6 226.4L95.8 224.9L96 223.3L96.3 221.7L96.5 220.1L96.8 218.6L97.1 217L97.3 215.4L97.6 213.9L97.9 212.3L98.3 210.8L98.6 209.2L98.9 207.6L99.3 206.1L99.6 204.6L100 203L100.4 201.5L100.8 199.9L101.2 198.4L101.6 196.9L102 195.3L102.5 193.8L103 192.3L103.4 190.8L103.9 189.3L104.4 187.8L104.9 186.2L105.4 184.7L106 183.3L106.5 181.8L107.1 180.3L107.7 178.8L108.2 177.3L108.8 175.8L109.4 174.4L110.1 172.9L110.7 171.5L111.3 170L112 168.5L112.6 167.1L113.3 165.7L114 164.2L114.7 162.8L115.4 161.4L116.1 159.9L116.8 158.5L117.5 157.1L118.3 155.7L119 154.3L119.8 152.9L120.5 151.5L121.3 150.1L122.1 148.7L122.8 147.3L123.6 145.9L124.4 144.5L125.2 143.1L126.1 141.8L126.9 140.4L127.7 139L128.5 137.6L133.1 139L134.4 138L135.7 137L136.9 136.1L138.2 135.1L139.4 134.1L140.7 133.1L142 132.2L143.2 131.2L144.5 130.3L145.8 129.4L147.1 128.5L148.4 127.7L149.8 126.9L151.2 126.1L152.6 125.3L154 124.6L155.5 124L157 123.4L158.5 122.8L160.1 122.3L161.7 121.8L163.3 121.4L164.9 121.1L166.6 120.7L168.2 120.4L169.9 120.1L171.5 119.8L173.1 119.4L174.6 119.1L176.1 118.7L177.6 118.2L178.9 117.7L180.3 117.1L181.5 116.4L182.7 115.7L183.8 114.8L184.8 113.8L185.8 112.8L186.7 111.6L187.6 110.4L188.4 109.1L189.2 107.7L190 106.3L190.8 104.9L191.6 103.4L192.4 101.9L193.3 100.5L194.1 99L195 97.6L196 96.2L196.9 94.9L197.9 93.6L199 92.4L200.1 91.2L201.2 90L202.3 88.9L203.5 87.9L204.7 86.8L205.9 85.8L207.1 84.9L208.4 83.9L209.7 83L211 82.1L212.3 81.1L213.6 80.2L214.9 79.4L216.2 78.5L217.5 77.6L218.9 76.6L220.2 75.7L221.5 74.8L221.9 70.6L223.4 70.2L225 69.9L226.5 69.5L228.1 69.2L229.7 68.9L231.2 68.5L232.8 68.2L234.4 67.9L235.9 67.6L237.5 67.3L239.1 67L240.6 66.8L242.2 66.5L243.8 66.3L245.4 66L246.9 65.8L248.5 65.6L250.1 65.3L251.7 65.1L253.2 64.9L254.8 64.8L256.4 64.6L258 64.4L259.6 64.3L261.1 64.2L262.7 64L264.3 63.9L265.9 63.8L267.5 63.7L269.1 63.7L270.6 63.6L272.2 63.6L273.8 63.5L275.4 63.5L277 63.5L278.6 63.5L280.2 63.5L281.8 63.6L283.4 63.6L284.9 63.7L286.5 63.7L288.1 63.8L289.7 63.9L291.3 64L292.9 64.2L294.4 64.3L296 64.4L297.6 64.6L299.2 64.8L300.8 64.9L302.3 65.1L303.9 65.3L305.5 65.6L307.1 65.8L308.6 66L310.2 66.3L311.8 66.5L313.4 66.8L314.9 67L316.5 67.3L318.1 67.6L319.6 67.9L321.2 68.2L322.8 68.5L324.3 68.9L325.9 69.2L327.5 69.5L329 69.9L330.6 70.2L332.1 70.6L333.7 71L335.2 71.6L336.7 72.2L338.1 72.9L339.6 73.5L341.1 74.1L342.5 74.8L344 75.4L345.4 76.1L346.9 76.8L348.3 77.4L349.8 78.1L351.2 78.8L352.6 79.5L354.1 80.2L355.5 81L356.9 81.7L358.3 82.4L359.7 83.2L361.1 83.9L362.5 84.7L363.9 85.5L365.3 86.2L366.7 87L368 87.8L369.4 88.6L370.8 89.5L372.1 90.3L373.5 91.1L374.8 92L376.1 92.9L377.5 93.7L378.8 94.6L380.1 95.5L381.4 96.4L382.7 97.3L384 98.3L385.3 99.2L386.5 100.1L387.8 101.1L389.1 102.1L390.3 103.1L391.5 104.1L392.8 105.1L394 106.1L395.2 107.1L396.4 108.1L397.6 109.2L398.8 110.2L400 111.3L401.2 112.3L402.4 113.4L403.5 114.5L404.7 115.6L405.8 116.7L407 117.8L408.1 118.9L409.2 120L410.4 121.1L411.5 122.3L412.6 123.4L413.7 124.6L414.8 125.7L415.9 126.9L417 128.1L418 129.2L419.1 130.4L420.2 131.6L421.2 132.8L422.3 134L423.4 135.2L424.4 136.4L425.5 137.6L422.7 141.5L423.3 143.1L423.8 144.6L424.4 146.1L424.9 147.6L425.5 149.1L426 150.6L426.5 152.1L427 153.6L427.5 155.1L427.9 156.6L428.4 158.1L428.8 159.6L429.1 161.2L429.5 162.7L429.7 164.3L430 165.9L430.1 167.5L430.2 169.1L430.3 170.7L430.3 172.4L430.2 174L430.1 175.7L430 177.4L429.8 179.1L429.6 180.7L429.4 182.4L429.2 184L429 185.6L428.9 187.2L428.8 188.7L428.8 190.3L428.8 191.7L429 193.2L429.3 194.6L429.6 195.9L430.1 197.2L430.7 198.5L431.4 199.8L432.3 201L433.2 202.2L434.1 203.4L435.2 204.6L436.3 205.8L437.4 207L438.5 208.2L439.7 209.4L440.8 210.7L441.9 211.9L443 213.2L444 214.5L445 215.9L445.9 217.2L446.7 218.6L447.5 220L448.3 221.4L449 222.9L449.7 224.3L450.3 225.8L450.8 227.2L451.4 228.7L451.9 230.2L452.4 231.7L452.9 233.2L453.3 234.7L453.8 236.2L454.2 237.8L454.7 239.3L455.1 240.8L455.6 242.4L456 243.9Z" fill="#fdd9d8" stroke="#ee8e9a" stroke-width="1.6"/>
<path d="M466 245.5L460 245.5" stroke="#fde3e2" stroke-width="2.2"/>
<path d="M429.9 356.6L425.1 353.1" stroke="#fde3e2" stroke-width="2.2"/>
<path d="M335.4 425.2L333.6 419.5" stroke="#fde3e2" stroke-width="2.2"/>
<path d="M218.6 425.2L220.4 419.5" stroke="#fde3e2" stroke-width="2.2"/>
<path d="M124.1 356.6L128.9 353.1" stroke="#fde3e2" stroke-width="2.2"/>
<path d="M88 245.5L94 245.5" stroke="#fde3e2" stroke-width="2.2"/>
<path d="M124.1 134.4L128.9 137.9" stroke="#fde3e2" stroke-width="2.2"/>
<path d="M218.6 65.8L220.4 71.5" stroke="#fde3e2" stroke-width="2.2"/>
<path d="M335.4 65.8L333.6 71.5" stroke="#fde3e2" stroke-width="2.2"/>
<path d="M429.9 134.4L425.1 137.9" stroke="#fde3e2" stroke-width="2.2"/>
<ellipse cx="175.3" cy="105.5" rx="6" ry="11.5" fill="#f0939f" transform="rotate(-126 175.3 105.5)"/>
<ellipse cx="441.5" cy="192" rx="6" ry="11.5" fill="#f0939f" transform="rotate(-18 441.5 192)"/>
<ellipse cx="378.7" cy="385.5" rx="6" ry="11.5" fill="#f0939f" transform="rotate(54 378.7 385.5)"/>
<ellipse cx="175.3" cy="385.5" rx="6" ry="11.5" fill="#f0939f" transform="rotate(126 175.3 385.5)"/>
<path d="M220.6 62C219.9 60.4 222.1 59.2 224 58.5C225.9 57.8 229.3 57.2 232 58C234.7 58.8 237 62.8 240 63C243 63.2 245.7 59.3 250 59C254.3 58.7 260.9 61.6 265.6 61.3C270.3 61 274.1 57.6 278 57C281.9 56.4 285.3 56.8 289 57.4C292.7 58 296.1 60 300 60.5C303.9 61 308.2 60.4 312.4 60.6C316.6 60.9 322.5 61 325 62C327.5 63 328.3 64.7 327.2 66.8C326.1 68.9 321.6 72.3 318.6 74.6C315.6 76.9 311.9 78.5 309.3 80.8C306.7 83.1 306.4 86.5 303 88.6C299.6 90.7 293.9 92.6 289 93.3C284.1 94 277.3 93.8 273.4 92.5C269.5 91.2 268.2 87.7 265.6 85.5C263 83.3 260.4 80.6 257.8 79.3C255.2 78 252.8 78.8 250 77.7C247.2 76.7 244.5 74.5 240.9 73C237.3 71.5 231.8 70.2 228.4 68.4C225 66.6 221.3 63.6 220.6 62Z" fill="#979593" stroke="#8a8886" stroke-width="1.6" stroke-linejoin="round"/>
<ellipse cx="258.8" cy="87.9" rx="7" ry="4.6" fill="#979593" stroke="#8a8886" stroke-width="1.2" transform="rotate(15 258.8 87.9)"/>
<path d="M272 70C272.7 68 276.8 66.5 280 66C283.2 65.5 288 66 291 67C294 68 297.5 70 298 72C298.5 74 296.3 77.3 294 79C291.7 80.7 287 82.2 284 82C281 81.8 278 80 276 78C274 76 271.3 72 272 70Z" fill="#8b8886"/>
<ellipse cx="270" cy="67" rx="5" ry="2.5" fill="#8b8886" transform="rotate(-15 270 67)"/>
<path d="M330.3 62.1C331.1 60.1 333.9 59.3 335.8 59.8C337.8 60.3 340.2 64 342 65.2C343.8 66.4 343.3 64.7 346.7 66.8C350.1 68.9 355 73 362.3 77.7C369.6 82.4 380.5 88.4 390.4 94.9C400.3 101.4 414.2 111 421.6 116.7C429 122.4 433.3 125.9 434.9 129.2C436.5 132.4 433.7 135 431 136.2C428.3 137.4 424 137.1 418.5 136.2C413 135.3 405.5 132.2 398.2 130.8C390.9 129.4 380.8 129.9 374.8 127.6C368.8 125.2 366.5 122.2 362.3 116.7C358.1 111.2 353.7 100.6 349.8 94.9C345.9 89.2 342 86.3 338.9 82.4C335.8 78.5 332.5 74.9 331.1 71.5C329.7 68.1 329.5 64 330.3 62.1Z" fill="#b7b5b3" stroke="#9a9896" stroke-width="1.6" stroke-linejoin="round"/>
<ellipse cx="378.7" cy="113.6" rx="12.5" ry="7.5" fill="#a19e9c" transform="rotate(35 378.7 113.6)"/>
<path d="M457.5 243.1C458.2 241.1 460.9 239 463 239C465.1 239 468.8 241.3 470 243C471.2 244.7 470.5 247.6 470 249.4C469.5 251.2 466.6 250.4 466.8 254C467.1 257.6 470.7 265.7 471.5 271.2C472.3 276.7 472.3 281.1 471.5 286.8C470.7 292.5 469.1 298.7 466.8 305.5C464.5 312.3 460.6 320.6 457.5 327.4C454.4 334.1 452 341.9 448.1 346C444.2 350.1 437.2 349.4 434.1 352.3C431 355.2 431.5 360.7 429.4 363.2C427.3 365.7 423.7 367.9 421.6 367.1C419.5 366.3 416.6 361.6 416.9 358.6C417.2 355.6 421.1 352.1 423.2 349.2C425.3 346.3 428.4 345 429.4 341.4C430.4 337.8 428.1 331.8 429.4 327.4C430.7 323 435.4 320.4 437.2 314.9C439 309.4 438.7 301.4 440.3 294.6C441.9 287.8 444.2 280.5 446.6 274.3C449 268.1 452.3 261.1 454.4 257.2C456.5 253.3 458.5 253.2 459 250.9C459.5 248.6 456.8 245.1 457.5 243.1Z" fill="#979593" stroke="#8a8886" stroke-width="1.6" stroke-linejoin="round"/>
<path d="M456 286C457.7 283.8 461 281.3 463 282C465 282.7 467.7 286.5 468 290C468.3 293.5 466.7 299.3 465 303C463.3 306.7 460.2 311.5 458 312C455.8 312.5 452.8 308.8 452 306C451.2 303.2 452.3 298.3 453 295C453.7 291.7 454.3 288.2 456 286Z" fill="#8b8886"/>
<ellipse cx="447" cy="310" rx="3" ry="7" fill="#8b8886" transform="rotate(15 447 310)"/>
<path d="M227.6 425.6C227.6 423.8 228.8 422.8 231.5 421C234.2 419.2 239.3 417 244 414.7C248.7 412.4 255.3 409.3 259.6 407C263.9 404.7 266.9 402.3 270 401C273.1 399.7 274.3 399.1 278 399C281.7 398.9 287.6 399.4 292 400.7C296.4 402 300.7 404.8 304.6 406.9C308.5 409 311.6 411.9 315.5 413.2C319.4 414.5 324.6 413.4 328 414.7C331.4 416 333.6 418.9 335.8 421C338 423.1 341 425.2 341.3 427.2C341.6 429.1 340.1 431.8 337.4 432.7C334.7 433.6 329.1 433 324.9 432.7C320.7 432.4 319.7 431.4 312.4 431.1C305.1 430.8 291.3 431.1 281.2 431.1C271.1 431.1 260.1 430.9 251.8 431C243.5 431.1 235.5 432.9 231.5 432C227.5 431.1 227.6 427.4 227.6 425.6Z" fill="#b7b5b3" stroke="#9a9896" stroke-width="1.6" stroke-linejoin="round"/>
<ellipse cx="282" cy="413.5" rx="13" ry="7" fill="#a19e9c"/>
<path d="M84.9 254.8C86 252.5 93.8 256.8 97.4 260.3C101 263.8 103.1 271.5 106.7 275.9C110.3 280.3 116 282.9 119.2 286.8C122.5 290.7 125.4 294.6 126.2 299.3C127 304 124 310.2 123.9 314.9C123.8 319.6 125 323 125.4 327.4C125.8 331.8 127 337.1 126.2 341.4C125.4 345.7 122.8 351.8 120.8 353.1C118.8 354.4 116.3 352.4 114.5 349.2C112.7 345.9 111.6 339.3 109.8 333.6C108 327.9 105.7 321.4 103.6 314.9C101.5 308.4 99.5 301.4 97.4 294.6C95.3 287.8 93.2 280.9 91.1 274.3C89 267.7 83.9 257.1 84.9 254.8Z" fill="#b7b5b3" stroke="#9a9896" stroke-width="1.6" stroke-linejoin="round"/>
<ellipse cx="113" cy="298.5" rx="6" ry="12.5" fill="#a19e9c" transform="rotate(-15 113 298.5)"/>
<ellipse cx="93.5" cy="250" rx="6" ry="4.6" fill="#b7b5b3" stroke="#9a9896" stroke-width="1.2"/>
<path d="M126.2 141.7C128.5 142.2 132.8 145.3 133.2 147.9C133.6 150.5 130 154.4 128.6 157.3C127.2 160.2 125.8 161.2 124.7 165.1C123.7 169 123.5 176.3 122.3 180.7C121.1 185.1 118.9 187.2 117.6 191.6C116.3 196 115.8 202 114.5 207.2C113.2 212.4 111.6 218.1 109.8 222.8C108 227.5 105.7 231.7 103.6 235.3C101.5 238.9 99.5 243.1 97.4 244.6C95.3 246.1 92.9 246.1 91.1 244.6C89.3 243.1 87.7 239.5 86.4 235.3C85.1 231.2 83.3 225.7 83.3 219.7C83.3 213.7 85.1 205.4 86.4 199.4C87.7 193.4 89.3 188.7 91.1 183.8C92.9 178.9 94.8 173.7 97.4 169.8C100 165.9 103.3 163 106.7 160.4C110.1 157.8 115.5 156.8 117.6 154.2C119.7 151.6 117.8 146.9 119.2 144.8C120.6 142.7 123.9 141.2 126.2 141.7Z" fill="#979593" stroke="#8a8886" stroke-width="1.6" stroke-linejoin="round"/>
<path d="M90 198C91.3 195.3 94.3 192.7 96 193C97.7 193.3 99.7 196.8 100 200C100.3 203.2 99.3 209.3 98 212C96.7 214.7 93.7 216.5 92 216C90.3 215.5 88.3 212 88 209C87.7 206 88.7 200.7 90 198Z" fill="#8b8886"/>
<ellipse cx="105" cy="193" rx="2.6" ry="5" fill="#8b8886" transform="rotate(15 105 193)"/>
<ellipse cx="93" cy="170.5" rx="3.5" ry="5" fill="#979593" transform="rotate(30 93 170.5)"/>
<path d="M272 35.2C267.5 35.3 254 35.3 245 36C236 36.7 226.3 37.9 218 39.5C209.7 41.1 204.7 41.6 195 45.5C185.3 49.4 170.8 56.5 160 63C149.2 69.5 139 77.1 130 84.6C121 92.1 113 100.4 106 108C99 115.6 93.7 121.3 88 130C82.3 138.7 76.9 149.2 72 160C67.1 170.8 62.9 182.5 58.6 195C54.3 207.5 50.3 222 46 235C41.7 248 36.5 260.2 33 273C29.5 285.8 26.7 300.8 25 312C23.3 323.2 22.7 331.3 23 340C23.3 348.7 24.2 355.2 27 364C29.8 372.8 33.3 382.8 40 393C46.7 403.2 56.4 415.9 67 425C77.6 434.1 89.7 441.5 103.6 447.5C117.5 453.5 132.2 458 150.4 461C168.6 464 192.9 464.8 212.8 465.5C232.7 466.2 256 465.4 270 465C284 464.6 287.1 464.2 296.8 463C306.5 461.8 318.8 459.8 328 458C337.2 456.2 348 453 352 452L352.3 444.1L341.6 446.8L330.8 448.8L319.8 450.2L308.9 451L297.9 451.4L287 451.5L276.1 451.2L265.2 450.4L254.4 448.9L243.7 446.9L233 444.4L222.5 441.4L212.1 438.2L201.7 434.5L191.5 430.4L181.5 425.7L171.8 420.5L162.3 414.6L153.3 408.1L144.8 400.9L136.7 393.3L129.1 385.2L121.9 376.7L115.1 367.9L108.8 358.7L103 349.2L97.7 339.5L92.9 329.4L88.6 319.2L84.8 308.7L81.4 298.1L78.4 287.3L75.9 276.4L74.1 265.4L72.9 254.2L72.5 243L72.9 231.8L74.1 220.6L76 209.6L78.6 198.7L81.7 188L85.3 177.5L89.4 167.1L93.8 157L98.6 147L103.8 137.2L109.6 127.8L115.9 118.7L122.6 109.9L129.8 101.5L137.4 93.4L145.5 85.8L153.9 78.7L162.9 72.2L172.4 66.6L182.2 61.6L192.3 57.1L202.4 53.1L212.6 49.3L223 46L233.7 44L244.4 42.4L255 40.8L265.7 40.1Z" fill="#c6c4c3" stroke="#8b8988" stroke-width="5" stroke-linejoin="round"/>
<path d="M276.3 39.8C274.6 39.8 269.2 40 265.7 40.1C262.1 40.3 258.5 40.4 255 40.8C251.4 41.1 247.9 41.9 244.4 42.4C240.8 42.9 237.2 43.4 233.7 44C230.1 44.6 226.5 45.1 223 46C219.5 46.8 216.1 48.1 212.6 49.3C209.2 50.4 205.8 51.7 202.4 53.1C199 54.4 195.6 55.7 192.3 57.1C188.9 58.5 185.6 60 182.2 61.6C178.9 63.1 175.6 64.8 172.4 66.6C169.2 68.3 166 70.2 162.9 72.2C159.8 74.2 156.8 76.4 153.9 78.7C151 80.9 148.2 83.4 145.5 85.8C142.7 88.3 140.1 90.8 137.4 93.4C134.8 96.1 132.3 98.7 129.8 101.5C127.4 104.2 125 107 122.6 109.9C120.3 112.8 118.1 115.7 115.9 118.7C113.7 121.7 111.6 124.7 109.6 127.8C107.6 130.9 105.7 134.1 103.8 137.2C102 140.4 100.2 143.7 98.6 147C96.9 150.3 95.3 153.6 93.8 157C92.2 160.3 90.8 163.7 89.4 167.1C87.9 170.5 86.6 174 85.3 177.5C84 180.9 82.8 184.4 81.7 188C80.6 191.5 79.5 195.1 78.6 198.7C77.6 202.3 76.8 205.9 76 209.6C75.3 213.2 74.6 216.9 74.1 220.6C73.6 224.3 73.2 228.1 72.9 231.8C72.6 235.5 72.5 239.3 72.5 243C72.5 246.7 72.6 250.5 72.9 254.2C73.2 258 73.6 261.7 74.1 265.4C74.6 269.1 75.2 272.8 75.9 276.4C76.6 280.1 77.5 283.7 78.4 287.3C79.3 291 80.3 294.5 81.4 298.1C82.4 301.7 83.6 305.2 84.8 308.7C86 312.2 87.3 315.7 88.6 319.2C90 322.6 91.4 326 92.9 329.4C94.4 332.8 96 336.2 97.7 339.5C99.3 342.8 101.1 346 103 349.2C104.8 352.5 106.8 355.6 108.8 358.7C110.8 361.8 112.9 364.9 115.1 367.9C117.3 370.9 119.5 373.8 121.9 376.7C124.2 379.6 126.6 382.4 129.1 385.2C131.6 387.9 134.1 390.6 136.7 393.3C139.4 395.9 142 398.4 144.8 400.9C147.6 403.4 150.4 405.8 153.3 408.1C156.2 410.4 159.2 412.5 162.3 414.6C165.4 416.7 168.6 418.6 171.8 420.5C175 422.3 178.2 424 181.5 425.7C184.8 427.3 188.2 428.9 191.5 430.4C194.9 431.8 198.3 433.2 201.7 434.5C205.2 435.8 208.6 437 212.1 438.2C215.5 439.3 219 440.4 222.5 441.4C226 442.5 229.5 443.5 233 444.4C236.6 445.3 240.1 446.2 243.7 446.9C247.2 447.7 250.8 448.4 254.4 448.9C258 449.5 261.6 450 265.2 450.4C268.8 450.7 272.5 451 276.1 451.2C279.7 451.4 283.4 451.5 287 451.5C290.6 451.5 294.3 451.5 297.9 451.4C301.6 451.3 305.2 451.2 308.9 451C312.5 450.8 316.2 450.6 319.8 450.2C323.5 449.8 327.1 449.4 330.8 448.8C334.4 448.3 338 447.6 341.6 446.8C345.2 446 348.8 445.1 352.3 444.1C355.9 443 359.3 441.8 362.8 440.5C366.2 439.1 369.7 437.7 373 436.2C376.4 434.7 379.7 433.1 383 431.4C386.3 429.8 389.6 428 392.8 426.2C395.9 424.3 399.1 422.4 402.2 420.4C405.3 418.3 408.3 416.3 411.2 414C414.1 411.7 416.9 409.3 419.6 406.8C422.3 404.3 424.9 401.6 427.4 398.9C429.9 396.3 432.4 393.5 434.8 390.8C437.2 388.1 439.6 385.3 442 382.5C444.3 379.7 446.7 377 448.8 374C450.9 371 452.7 367.9 454.4 364.6C456.1 361.4 457.6 358.1 459.1 354.8C460.6 351.4 461.9 348.1 463.3 344.8C464.7 341.5 466.1 338.2 467.5 335C468.9 331.7 470.6 328.6 471.9 325.3C473.2 322 474.4 318.7 475.4 315.3C476.5 312 477.3 308.5 478.1 305.1C478.8 301.7 479.5 298.2 480 294.7C480.5 291.2 480.9 287.8 481.3 284.3C481.6 280.8 481.8 277.3 482 273.9C482.2 270.4 482.3 267 482.4 263.5C482.5 260.1 482.5 256.7 482.5 253.2C482.5 249.8 482.5 244.7 482.5 243" fill="none" stroke="#8b8988" stroke-width="13.5" stroke-linecap="round"/>
<path d="M272 35.2C267.5 35.3 254 35.3 245 36C236 36.7 226.3 37.9 218 39.5C209.7 41.1 204.7 41.6 195 45.5C185.3 49.4 170.8 56.5 160 63C149.2 69.5 139 77.1 130 84.6C121 92.1 113 100.4 106 108C99 115.6 93.7 121.3 88 130C82.3 138.7 76.9 149.2 72 160C67.1 170.8 62.9 182.5 58.6 195C54.3 207.5 50.3 222 46 235C41.7 248 36.5 260.2 33 273C29.5 285.8 26.7 300.8 25 312C23.3 323.2 22.7 331.3 23 340C23.3 348.7 24.2 355.2 27 364C29.8 372.8 33.3 382.8 40 393C46.7 403.2 56.4 415.9 67 425C77.6 434.1 89.7 441.5 103.6 447.5C117.5 453.5 132.2 458 150.4 461C168.6 464 192.9 464.8 212.8 465.5C232.7 466.2 256 465.4 270 465C284 464.6 287.1 464.2 296.8 463C306.5 461.8 318.8 459.8 328 458C337.2 456.2 348 453 352 452L352.3 444.1L341.6 446.8L330.8 448.8L319.8 450.2L308.9 451L297.9 451.4L287 451.5L276.1 451.2L265.2 450.4L254.4 448.9L243.7 446.9L233 444.4L222.5 441.4L212.1 438.2L201.7 434.5L191.5 430.4L181.5 425.7L171.8 420.5L162.3 414.6L153.3 408.1L144.8 400.9L136.7 393.3L129.1 385.2L121.9 376.7L115.1 367.9L108.8 358.7L103 349.2L97.7 339.5L92.9 329.4L88.6 319.2L84.8 308.7L81.4 298.1L78.4 287.3L75.9 276.4L74.1 265.4L72.9 254.2L72.5 243L72.9 231.8L74.1 220.6L76 209.6L78.6 198.7L81.7 188L85.3 177.5L89.4 167.1L93.8 157L98.6 147L103.8 137.2L109.6 127.8L115.9 118.7L122.6 109.9L129.8 101.5L137.4 93.4L145.5 85.8L153.9 78.7L162.9 72.2L172.4 66.6L182.2 61.6L192.3 57.1L202.4 53.1L212.6 49.3L223 46L233.7 44L244.4 42.4L255 40.8L265.7 40.1Z" fill="#c6c4c3"/>
<path d="M276.3 39.8C274.6 39.8 269.2 40 265.7 40.1C262.1 40.3 258.5 40.4 255 40.8C251.4 41.1 247.9 41.9 244.4 42.4C240.8 42.9 237.2 43.4 233.7 44C230.1 44.6 226.5 45.1 223 46C219.5 46.8 216.1 48.1 212.6 49.3C209.2 50.4 205.8 51.7 202.4 53.1C199 54.4 195.6 55.7 192.3 57.1C188.9 58.5 185.6 60 182.2 61.6C178.9 63.1 175.6 64.8 172.4 66.6C169.2 68.3 166 70.2 162.9 72.2C159.8 74.2 156.8 76.4 153.9 78.7C151 80.9 148.2 83.4 145.5 85.8C142.7 88.3 140.1 90.8 137.4 93.4C134.8 96.1 132.3 98.7 129.8 101.5C127.4 104.2 125 107 122.6 109.9C120.3 112.8 118.1 115.7 115.9 118.7C113.7 121.7 111.6 124.7 109.6 127.8C107.6 130.9 105.7 134.1 103.8 137.2C102 140.4 100.2 143.7 98.6 147C96.9 150.3 95.3 153.6 93.8 157C92.2 160.3 90.8 163.7 89.4 167.1C87.9 170.5 86.6 174 85.3 177.5C84 180.9 82.8 184.4 81.7 188C80.6 191.5 79.5 195.1 78.6 198.7C77.6 202.3 76.8 205.9 76 209.6C75.3 213.2 74.6 216.9 74.1 220.6C73.6 224.3 73.2 228.1 72.9 231.8C72.6 235.5 72.5 239.3 72.5 243C72.5 246.7 72.6 250.5 72.9 254.2C73.2 258 73.6 261.7 74.1 265.4C74.6 269.1 75.2 272.8 75.9 276.4C76.6 280.1 77.5 283.7 78.4 287.3C79.3 291 80.3 294.5 81.4 298.1C82.4 301.7 83.6 305.2 84.8 308.7C86 312.2 87.3 315.7 88.6 319.2C90 322.6 91.4 326 92.9 329.4C94.4 332.8 96 336.2 97.7 339.5C99.3 342.8 101.1 346 103 349.2C104.8 352.5 106.8 355.6 108.8 358.7C110.8 361.8 112.9 364.9 115.1 367.9C117.3 370.9 119.5 373.8 121.9 376.7C124.2 379.6 126.6 382.4 129.1 385.2C131.6 387.9 134.1 390.6 136.7 393.3C139.4 395.9 142 398.4 144.8 400.9C147.6 403.4 150.4 405.8 153.3 408.1C156.2 410.4 159.2 412.5 162.3 414.6C165.4 416.7 168.6 418.6 171.8 420.5C175 422.3 178.2 424 181.5 425.7C184.8 427.3 188.2 428.9 191.5 430.4C194.9 431.8 198.3 433.2 201.7 434.5C205.2 435.8 208.6 437 212.1 438.2C215.5 439.3 219 440.4 222.5 441.4C226 442.5 229.5 443.5 233 444.4C236.6 445.3 240.1 446.2 243.7 446.9C247.2 447.7 250.8 448.4 254.4 448.9C258 449.5 261.6 450 265.2 450.4C268.8 450.7 272.5 451 276.1 451.2C279.7 451.4 283.4 451.5 287 451.5C290.6 451.5 294.3 451.5 297.9 451.4C301.6 451.3 305.2 451.2 308.9 451C312.5 450.8 316.2 450.6 319.8 450.2C323.5 449.8 327.1 449.4 330.8 448.8C334.4 448.3 338 447.6 341.6 446.8C345.2 446 348.8 445.1 352.3 444.1C355.9 443 359.3 441.8 362.8 440.5C366.2 439.1 369.7 437.7 373 436.2C376.4 434.7 379.7 433.1 383 431.4C386.3 429.8 389.6 428 392.8 426.2C395.9 424.3 399.1 422.4 402.2 420.4C405.3 418.3 408.3 416.3 411.2 414C414.1 411.7 416.9 409.3 419.6 406.8C422.3 404.3 424.9 401.6 427.4 398.9C429.9 396.3 432.4 393.5 434.8 390.8C437.2 388.1 439.6 385.3 442 382.5C444.3 379.7 446.7 377 448.8 374C450.9 371 452.7 367.9 454.4 364.6C456.1 361.4 457.6 358.1 459.1 354.8C460.6 351.4 461.9 348.1 463.3 344.8C464.7 341.5 466.1 338.2 467.5 335C468.9 331.7 470.6 328.6 471.9 325.3C473.2 322 474.4 318.7 475.4 315.3C476.5 312 477.3 308.5 478.1 305.1C478.8 301.7 479.5 298.2 480 294.7C480.5 291.2 480.9 287.8 481.3 284.3C481.6 280.8 481.8 277.3 482 273.9C482.2 270.4 482.3 267 482.4 263.5C482.5 260.1 482.5 256.7 482.5 253.2C482.5 249.8 482.5 244.7 482.5 243" fill="none" stroke="#c6c4c3" stroke-width="8.5" stroke-linecap="round"/>
<path d="M179.2 56.4C177.6 57.2 172.5 59.7 169.2 61.5C165.8 63.4 162.6 65.3 159.4 67.4C156.2 69.5 153.1 71.7 150.1 74C147.2 76.3 144.3 78.8 141.5 81.4C138.6 83.9 135.9 86.5 133.2 89.2C130.5 91.9 127.9 94.6 125.4 97.5C122.8 100.3 120.4 103.2 118 106.1C115.6 109.1 113.3 112.1 111 115.2C108.8 118.2 106.7 121.4 104.6 124.5C102.5 127.7 100.5 131 98.6 134.2C96.7 137.5 94.9 140.9 93.2 144.3C91.5 147.6 89.9 151.1 88.3 154.5C86.7 158 85.2 161.5 83.8 165C82.3 168.5 80.9 172 79.6 175.6C78.3 179.2 77 182.8 75.9 186.4C74.7 190.1 73.7 193.7 72.7 197.4C71.7 201.2 70.8 204.9 70.1 208.6C69.3 212.4 68.7 216.2 68.1 220C67.6 223.8 67.2 227.6 66.9 231.5C66.6 235.3 66.5 239.2 66.5 243C66.5 246.8 66.8 252.6 66.9 254.5" fill="none" stroke="#8b8988" stroke-width="2"/>
<ellipse cx="85.7" cy="387.4" rx="35" ry="13.5" fill="#b5b3b3" stroke="#a3a09f" stroke-width="3" transform="rotate(52 85.7 387.4)"/>
</g>

<!-- molecule -->
<g>
<path d="M774 129.7L809.4 109.4M809.4 109.4L845 129.7M845 129.7L845 169.4M845 169.4L809.4 189.7M809.4 189.7L774 169.4M774 169.4L774 129.7M845 129.7L879.6 109.4M879.6 109.4L914.9 129.7M914.9 129.7L914.9 169.4M914.9 169.4L879.6 189.7M879.6 189.7L845 169.4M914.9 129.7L950.3 109.4M950.3 109.4L985.5 129.7M985.5 129.7L985.5 169.4M985.5 169.4L950.3 189.7M950.3 189.7L914.9 169.4M985.5 129.7L1021.1 109.4M1021.1 109.4L1056.7 129.7M1056.7 129.7L1056.7 169.4M1056.7 169.4L1021.1 189.7M1021.1 189.7L985.5 169.4M810.7 117.3L837.6 132.6M837.6 166.5L810.7 181.8M780.2 164.4L780.2 134.7M951.5 117.3L978.1 132.6M978.1 166.5L951.5 181.8M921.1 164.4L921.1 134.7M876.1 82.5L876.1 111.4M876.1 187.7L876.1 216.5M883.1 82.5L883.1 111.4M883.1 187.7L883.1 216.5M950.3 81.5L950.3 109.4M950.3 189.7L950.3 215.5M809.4 189.7L809.4 215.5M798.2 238L774.8 251.3M1056.7 129.7L1091.8 110.2M1091.8 110.2L1126.9 129.7M1126.9 129.7L1149.5 116.4M1088.2 82.3L1088.2 112.2M1095.4 82.3L1095.4 112.2M1021.1 189.7L1021.1 214.7M1056.6 250.9L1056.6 291.2M1056.6 291.2L1091.7 311.5M1091.7 311.5L1127.1 291.2M1127.1 291.2L1127.1 250.9M1056.6 250.9L1079.6 237.8M1104 237.8L1127.1 250.9" fill="none" stroke="#2e2e2e" stroke-width="1.9" stroke-linecap="round"/>
<path d="M1021.1 189.7L1041.4 205.6L1045 199.6Z" fill="#111" stroke="#111" stroke-width="0.6" stroke-linejoin="round"/>
<path d="M1127.1 250.9L1163.4 233.6L1159.8 227.6Z" fill="#111" stroke="#111" stroke-width="0.6" stroke-linejoin="round"/>
<path d="M1127.1 291.2L1146.5 307.7L1150.3 301.9Z" fill="#111" stroke="#111" stroke-width="0.6" stroke-linejoin="round"/>
<path d="M1091.7 311.5L1088.2 338.3L1095.2 338.3Z" fill="#111" stroke="#111" stroke-width="0.6" stroke-linejoin="round"/>
<path d="M1058.4 131.7L1059.2 130.5M1061.7 134.5L1063.1 132.3M1064.9 137.3L1067 134.1M1068.1 140.1L1070.8 135.9M1071.4 142.9L1074.7 137.7M1074.6 145.7L1078.6 139.5" fill="none" stroke="#2e2e2e" stroke-width="1.5"/>
<path d="M1052.1 247.7L1051.4 249.1M1048.6 245.2L1047.4 247.5M1045.2 242.7L1043.3 246M1041.7 240.1L1039.3 244.5M1038.2 237.6L1035.3 243M1034.7 235.1L1031.3 241.5" fill="none" stroke="#2e2e2e" stroke-width="1.5"/>
<text x="879.6" y="78.1" font-size="28" text-anchor="middle" style="fill:#2e2e2e">O</text>
<text x="1091.8" y="78.1" font-size="28" text-anchor="middle" style="fill:#2e2e2e">O</text>
<text x="939.4" y="78.1" font-size="28" text-anchor="start" style="fill:#2e2e2e">OH</text>
<text x="809.4" y="240.4" font-size="28" text-anchor="middle" style="fill:#2e2e2e">O</text>
<text x="879.6" y="240.4" font-size="28" text-anchor="middle" style="fill:#2e2e2e">O</text>
<text x="939.4" y="240.4" font-size="28" text-anchor="start" style="fill:#2e2e2e">OH</text>
<text x="1021.1" y="241" font-size="28" text-anchor="middle" style="fill:#2e2e2e">O</text>
<text x="1091.7" y="240.6" font-size="28" text-anchor="middle" style="fill:#2e2e2e">O</text>
<text x="1150.3" y="118.6" font-size="28" text-anchor="start" style="fill:#2e2e2e">OH</text>
<text x="1080.9" y="159.2" font-size="28" text-anchor="start" style="fill:#2e2e2e">OH</text>
<text x="1055.9" y="220" font-size="28" text-anchor="middle" style="fill:#2e2e2e">H</text>
<text x="1151.3" y="320.7" font-size="28" text-anchor="start" style="fill:#2e2e2e">OH</text>
<text x="1081.5" y="360.8" font-size="28" style="fill:#2e2e2e">NH<tspan font-size="20" dy="7.5">2</tspan></text>
</g>

<!-- vessel_ok -->
<g>
<ellipse cx="1774.6" cy="284.6" rx="215.6" ry="206.6" fill="#111"/>
<ellipse cx="1776.0" cy="283.0" rx="211" ry="201.9" fill="#da6a6a" />
<ellipse cx="1776.0" cy="283.0" rx="189.5" ry="181.4" fill="#f8aab2" />
<path d="M1958 283L1957.3 284.2L1956.2 285.4L1955.3 286.6L1954.8 287.8L1954.4 289L1954 290.1L1953.7 291.3L1953.4 292.5L1953.1 293.7L1952.7 294.8L1952.4 296L1952.1 297.1L1951.7 298.3L1951.3 299.5L1951 300.6L1950.6 301.7L1950.1 302.9L1949.7 304L1949.2 305.1L1948.7 306.2L1948.2 307.3L1947.7 308.4L1947.1 309.5L1946.4 310.6L1945.8 311.6L1945.1 312.7L1944.3 313.7L1943.6 314.7L1942.7 315.8L1941.9 316.8L1941.1 317.7L1940.2 318.7L1939.3 319.7L1938.5 320.6L1937.6 321.6L1936.7 322.5L1935.9 323.4L1935.1 324.4L1934.3 325.3L1933.6 326.3L1933 327.2L1932.4 328.2L1931.9 329.2L1931.4 330.2L1931 331.2L1930.7 332.3L1930.5 333.3L1930.3 334.4L1930.2 335.5L1930.1 336.7L1930.1 337.8L1930.1 339L1930.2 340.2L1930.3 341.5L1930.4 342.7L1930.5 344L1930.7 345.2L1930.8 346.5L1930.9 347.8L1931 349L1931 350.3L1931.1 351.6L1931 352.8L1931 354.1L1930.9 355.3L1930.8 356.6L1930.7 357.8L1930.5 359L1930.3 360.2L1930 361.4L1929.7 362.6L1929.4 363.7L1929.1 364.9L1928.7 366L1928.4 367.2L1928 368.3L1927.6 369.5L1927.1 370.6L1926.7 371.7L1926.2 372.8L1925.8 374L1925.3 375.1L1924.9 376.2L1924.4 377.4L1924 378.5L1923.6 379.7L1923.3 381L1923.3 382.4L1923.4 384L1923.2 385.4L1921.9 386L1920.3 386.3L1918.9 386.8L1917.7 387.4L1916.6 388.2L1915.6 388.9L1914.7 389.7L1913.7 390.5L1912.7 391.2L1911.7 392L1910.7 392.7L1909.7 393.5L1908.8 394.2L1907.8 394.9L1906.7 395.7L1905.7 396.4L1904.7 397L1903.6 397.7L1902.6 398.3L1901.5 399L1900.4 399.6L1899.3 400.1L1898.1 400.7L1896.9 401.2L1895.7 401.7L1894.5 402.1L1893.3 402.5L1892.1 402.9L1890.8 403.3L1889.5 403.6L1888.2 404L1886.9 404.2L1885.6 404.5L1884.3 404.8L1883 405.1L1881.8 405.4L1880.5 405.7L1879.3 406L1878.1 406.3L1877 406.7L1875.8 407.1L1874.8 407.5L1873.7 408L1872.8 408.6L1871.8 409.2L1870.9 409.9L1870.1 410.6L1869.2 411.4L1868.5 412.2L1867.7 413.1L1867 414L1866.3 415L1865.6 416L1864.9 417.1L1864.2 418.2L1863.6 419.2L1862.9 420.3L1862.2 421.4L1861.5 422.5L1860.8 423.6L1860.1 424.6L1859.3 425.7L1858.6 426.7L1857.8 427.7L1856.9 428.7L1856.1 429.6L1855.2 430.5L1854.3 431.4L1853.4 432.2L1852.5 433L1851.5 433.8L1850.5 434.6L1849.6 435.4L1848.6 436.1L1847.6 436.8L1846.5 437.5L1845.5 438.2L1844.5 438.9L1843.4 439.5L1842.4 440.2L1841.3 440.9L1840.2 441.5L1839.2 442.2L1838.1 442.8L1837 443.5L1836 444.2L1835 445.1L1834.1 446.3L1833.2 447.6L1832.2 448.6L1830.8 448.4L1829.3 447.8L1827.8 447.3L1826.5 447.2L1825.2 447.2L1823.9 447.2L1822.6 447.3L1821.4 447.4L1820.1 447.5L1818.9 447.5L1817.6 447.6L1816.3 447.6L1815.1 447.7L1813.8 447.7L1812.6 447.7L1811.3 447.7L1810.1 447.6L1808.8 447.6L1807.6 447.5L1806.3 447.4L1805 447.3L1803.8 447.1L1802.5 446.9L1801.3 446.6L1800 446.4L1798.7 446L1797.5 445.7L1796.2 445.3L1795 444.9L1793.7 444.4L1792.5 444L1791.3 443.5L1790 443L1788.8 442.5L1787.6 442L1786.4 441.5L1785.2 441L1784.1 440.6L1782.9 440.2L1781.7 439.8L1780.6 439.5L1779.4 439.3L1778.3 439.1L1777.1 439L1776 439L1774.9 439L1773.7 439.1L1772.6 439.3L1771.4 439.5L1770.3 439.8L1769.1 440.2L1767.9 440.6L1766.8 441L1765.6 441.5L1764.4 442L1763.2 442.5L1762 443L1760.7 443.5L1759.5 444L1758.3 444.4L1757 444.9L1755.8 445.3L1754.5 445.7L1753.3 446L1752 446.4L1750.7 446.6L1749.5 446.9L1748.2 447.1L1747 447.3L1745.7 447.4L1744.4 447.5L1743.2 447.6L1741.9 447.6L1740.7 447.7L1739.4 447.7L1738.2 447.7L1736.9 447.7L1735.7 447.6L1734.4 447.6L1733.1 447.5L1731.9 447.5L1730.6 447.4L1729.4 447.3L1728.1 447.2L1726.8 447.2L1725.5 447.2L1724.2 447.3L1722.7 447.8L1721.2 448.4L1719.8 448.6L1718.8 447.6L1717.9 446.3L1717 445.1L1716 444.2L1715 443.5L1713.9 442.8L1712.8 442.2L1711.8 441.5L1710.7 440.9L1709.6 440.2L1708.6 439.5L1707.5 438.9L1706.5 438.2L1705.5 437.5L1704.4 436.8L1703.4 436.1L1702.4 435.4L1701.5 434.6L1700.5 433.8L1699.5 433L1698.6 432.2L1697.7 431.4L1696.8 430.5L1695.9 429.6L1695.1 428.7L1694.2 427.7L1693.4 426.7L1692.7 425.7L1691.9 424.6L1691.2 423.6L1690.5 422.5L1689.8 421.4L1689.1 420.3L1688.4 419.2L1687.8 418.2L1687.1 417.1L1686.4 416L1685.7 415L1685 414L1684.3 413.1L1683.5 412.2L1682.8 411.4L1681.9 410.6L1681.1 409.9L1680.2 409.2L1679.2 408.6L1678.3 408L1677.2 407.5L1676.2 407.1L1675 406.7L1673.9 406.3L1672.7 406L1671.5 405.7L1670.2 405.4L1669 405.1L1667.7 404.8L1666.4 404.5L1665.1 404.2L1663.8 404L1662.5 403.6L1661.2 403.3L1659.9 402.9L1658.7 402.5L1657.5 402.1L1656.3 401.7L1655.1 401.2L1653.9 400.7L1652.7 400.1L1651.6 399.6L1650.5 399L1649.4 398.3L1648.4 397.7L1647.3 397L1646.3 396.4L1645.3 395.7L1644.2 394.9L1643.2 394.2L1642.3 393.5L1641.3 392.7L1640.3 392L1639.3 391.2L1638.3 390.5L1637.3 389.7L1636.4 388.9L1635.4 388.2L1634.3 387.4L1633.1 386.8L1631.7 386.3L1630.1 386L1628.8 385.4L1628.6 384L1628.7 382.4L1628.7 381L1628.4 379.7L1628 378.5L1627.6 377.4L1627.1 376.2L1626.7 375.1L1626.2 374L1625.8 372.8L1625.3 371.7L1624.9 370.6L1624.4 369.5L1624 368.3L1623.6 367.2L1623.3 366L1622.9 364.9L1622.6 363.7L1622.3 362.6L1622 361.4L1621.7 360.2L1621.5 359L1621.3 357.8L1621.2 356.6L1621.1 355.3L1621 354.1L1621 352.8L1620.9 351.6L1621 350.3L1621 349L1621.1 347.8L1621.2 346.5L1621.3 345.2L1621.5 344L1621.6 342.7L1621.7 341.5L1621.8 340.2L1621.9 339L1621.9 337.8L1621.9 336.7L1621.8 335.5L1621.7 334.4L1621.5 333.3L1621.3 332.3L1621 331.2L1620.6 330.2L1620.1 329.2L1619.6 328.2L1619 327.2L1618.4 326.3L1617.7 325.3L1616.9 324.4L1616.1 323.4L1615.3 322.5L1614.4 321.6L1613.5 320.6L1612.7 319.7L1611.8 318.7L1610.9 317.7L1610.1 316.8L1609.3 315.8L1608.4 314.7L1607.7 313.7L1606.9 312.7L1606.2 311.6L1605.6 310.6L1604.9 309.5L1604.3 308.4L1603.8 307.3L1603.3 306.2L1602.8 305.1L1602.3 304L1601.9 302.9L1601.4 301.7L1601 300.6L1600.7 299.5L1600.3 298.3L1599.9 297.1L1599.6 296L1599.3 294.8L1598.9 293.7L1598.6 292.5L1598.3 291.3L1598 290.1L1597.6 289L1597.2 287.8L1596.7 286.6L1595.8 285.4L1594.7 284.2L1594 283L1594.7 281.8L1595.8 280.6L1596.7 279.4L1597.2 278.2L1597.6 277L1598 275.9L1598.3 274.7L1598.6 273.5L1598.9 272.3L1599.3 271.2L1599.6 270L1599.9 268.9L1600.3 267.7L1600.7 266.5L1601 265.4L1601.4 264.3L1601.9 263.1L1602.3 262L1602.8 260.9L1603.3 259.8L1603.8 258.7L1604.3 257.6L1604.9 256.5L1605.6 255.4L1606.2 254.4L1606.9 253.3L1607.7 252.3L1608.4 251.3L1609.3 250.2L1610.1 249.2L1610.9 248.3L1611.8 247.3L1612.7 246.3L1613.5 245.4L1614.4 244.4L1615.3 243.5L1616.1 242.6L1616.9 241.6L1617.7 240.7L1618.4 239.7L1619 238.8L1619.6 237.8L1620.1 236.8L1620.6 235.8L1621 234.8L1621.3 233.7L1621.5 232.7L1621.7 231.6L1621.8 230.5L1621.9 229.3L1621.9 228.2L1621.9 227L1621.8 225.8L1621.7 224.5L1621.6 223.3L1621.5 222L1621.3 220.8L1621.2 219.5L1621.1 218.2L1621 217L1621 215.7L1620.9 214.4L1621 213.2L1621 211.9L1621.1 210.7L1621.2 209.4L1621.3 208.2L1621.5 207L1621.7 205.8L1622 204.6L1622.3 203.4L1622.6 202.3L1622.9 201.1L1623.3 200L1623.6 198.8L1624 197.7L1624.4 196.5L1624.9 195.4L1625.3 194.3L1625.8 193.2L1626.2 192L1626.7 190.9L1627.1 189.8L1627.6 188.6L1628 187.5L1628.4 186.3L1628.7 185L1628.7 183.6L1628.6 182L1628.8 180.6L1630.1 180L1631.7 179.7L1633.1 179.2L1634.3 178.6L1635.4 177.8L1636.4 177.1L1637.3 176.3L1638.3 175.5L1639.3 174.8L1640.3 174L1641.3 173.3L1642.3 172.5L1643.2 171.8L1644.2 171.1L1645.3 170.3L1646.3 169.6L1647.3 169L1648.4 168.3L1649.4 167.7L1650.5 167L1651.6 166.4L1652.7 165.9L1653.9 165.3L1655.1 164.8L1656.3 164.3L1657.5 163.9L1658.7 163.5L1659.9 163.1L1661.2 162.7L1662.5 162.4L1663.8 162L1665.1 161.8L1666.4 161.5L1667.7 161.2L1669 160.9L1670.2 160.6L1671.5 160.3L1672.7 160L1673.9 159.7L1675 159.3L1676.2 158.9L1677.2 158.5L1678.3 158L1679.2 157.4L1680.2 156.8L1681.1 156.1L1681.9 155.4L1682.8 154.6L1683.5 153.8L1684.3 152.9L1685 152L1685.7 151L1686.4 150L1687.1 148.9L1687.8 147.8L1688.4 146.8L1689.1 145.7L1689.8 144.6L1690.5 143.5L1691.2 142.4L1691.9 141.4L1692.7 140.3L1693.4 139.3L1694.2 138.3L1695.1 137.3L1695.9 136.4L1696.8 135.5L1697.7 134.6L1698.6 133.8L1699.5 133L1700.5 132.2L1701.5 131.4L1702.4 130.6L1703.4 129.9L1704.4 129.2L1705.5 128.5L1706.5 127.8L1707.5 127.1L1708.6 126.5L1709.6 125.8L1710.7 125.1L1711.8 124.5L1712.8 123.8L1713.9 123.2L1715 122.5L1716 121.8L1717 120.9L1717.9 119.7L1718.8 118.4L1719.8 117.4L1721.2 117.6L1722.7 118.2L1724.2 118.7L1725.5 118.8L1726.8 118.8L1728.1 118.8L1729.4 118.7L1730.6 118.6L1731.9 118.5L1733.1 118.5L1734.4 118.4L1735.7 118.4L1736.9 118.3L1738.2 118.3L1739.4 118.3L1740.7 118.3L1741.9 118.4L1743.2 118.4L1744.4 118.5L1745.7 118.6L1747 118.7L1748.2 118.9L1749.5 119.1L1750.7 119.4L1752 119.6L1753.3 120L1754.5 120.3L1755.8 120.7L1757 121.1L1758.3 121.6L1759.5 122L1760.7 122.5L1762 123L1763.2 123.5L1764.4 124L1765.6 124.5L1766.8 125L1767.9 125.4L1769.1 125.8L1770.3 126.2L1771.4 126.5L1772.6 126.7L1773.7 126.9L1774.9 127L1776 127L1777.1 127L1778.3 126.9L1779.4 126.7L1780.6 126.5L1781.7 126.2L1782.9 125.8L1784.1 125.4L1785.2 125L1786.4 124.5L1787.6 124L1788.8 123.5L1790 123L1791.3 122.5L1792.5 122L1793.7 121.6L1795 121.1L1796.2 120.7L1797.5 120.3L1798.7 120L1800 119.6L1801.3 119.4L1802.5 119.1L1803.8 118.9L1805 118.7L1806.3 118.6L1807.6 118.5L1808.8 118.4L1810.1 118.4L1811.3 118.3L1812.6 118.3L1813.8 118.3L1815.1 118.3L1816.3 118.4L1817.6 118.4L1818.9 118.5L1820.1 118.5L1821.4 118.6L1822.6 118.7L1823.9 118.8L1825.2 118.8L1826.5 118.8L1827.8 118.7L1829.3 118.2L1830.8 117.6L1832.2 117.4L1833.2 118.4L1834.1 119.7L1835 120.9L1836 121.8L1837 122.5L1838.1 123.2L1839.2 123.8L1840.2 124.5L1841.3 125.1L1842.4 125.8L1843.4 126.5L1844.5 127.1L1845.5 127.8L1846.5 128.5L1847.6 129.2L1848.6 129.9L1849.6 130.6L1850.5 131.4L1851.5 132.2L1852.5 133L1853.4 133.8L1854.3 134.6L1855.2 135.5L1856.1 136.4L1856.9 137.3L1857.8 138.3L1858.6 139.3L1859.3 140.3L1860.1 141.4L1860.8 142.4L1861.5 143.5L1862.2 144.6L1862.9 145.7L1863.6 146.8L1864.2 147.8L1864.9 148.9L1865.6 150L1866.3 151L1867 152L1867.7 152.9L1868.5 153.8L1869.2 154.6L1870.1 155.4L1870.9 156.1L1871.8 156.8L1872.8 157.4L1873.7 158L1874.8 158.5L1875.8 158.9L1877 159.3L1878.1 159.7L1879.3 160L1880.5 160.3L1881.8 160.6L1883 160.9L1884.3 161.2L1885.6 161.5L1886.9 161.8L1888.2 162L1889.5 162.4L1890.8 162.7L1892.1 163.1L1893.3 163.5L1894.5 163.9L1895.7 164.3L1896.9 164.8L1898.1 165.3L1899.3 165.9L1900.4 166.4L1901.5 167L1902.6 167.7L1903.6 168.3L1904.7 169L1905.7 169.6L1906.7 170.3L1907.8 171.1L1908.8 171.8L1909.7 172.5L1910.7 173.3L1911.7 174L1912.7 174.8L1913.7 175.5L1914.7 176.3L1915.6 177.1L1916.6 177.8L1917.7 178.6L1918.9 179.2L1920.3 179.7L1921.9 180L1923.2 180.6L1923.4 182L1923.3 183.6L1923.3 185L1923.6 186.3L1924 187.5L1924.4 188.6L1924.9 189.8L1925.3 190.9L1925.8 192L1926.2 193.2L1926.7 194.3L1927.1 195.4L1927.6 196.5L1928 197.7L1928.4 198.8L1928.7 200L1929.1 201.1L1929.4 202.3L1929.7 203.4L1930 204.6L1930.3 205.8L1930.5 207L1930.7 208.2L1930.8 209.4L1930.9 210.7L1931 211.9L1931 213.2L1931.1 214.4L1931 215.7L1931 217L1930.9 218.2L1930.8 219.5L1930.7 220.8L1930.5 222L1930.4 223.3L1930.3 224.5L1930.2 225.8L1930.1 227L1930.1 228.2L1930.1 229.3L1930.2 230.5L1930.3 231.6L1930.5 232.7L1930.7 233.7L1931 234.8L1931.4 235.8L1931.9 236.8L1932.4 237.8L1933 238.8L1933.6 239.7L1934.3 240.7L1935.1 241.6L1935.9 242.6L1936.7 243.5L1937.6 244.4L1938.5 245.4L1939.3 246.3L1940.2 247.3L1941.1 248.3L1941.9 249.2L1942.7 250.2L1943.6 251.3L1944.3 252.3L1945.1 253.3L1945.8 254.4L1946.4 255.4L1947.1 256.5L1947.7 257.6L1948.2 258.7L1948.7 259.8L1949.2 260.9L1949.7 262L1950.1 263.1L1950.6 264.3L1951 265.4L1951.3 266.5L1951.7 267.7L1952.1 268.9L1952.4 270L1952.7 271.2L1953.1 272.3L1953.4 273.5L1953.7 274.7L1954 275.9L1954.4 277L1954.8 278.2L1955.3 279.4L1956.2 280.6L1957.3 281.8Z" fill="#fdd9d8" stroke="#ee8e9a" stroke-width="1.6" stroke-linejoin="round"/>
<path d="M1965.5 283L1957.5 283" stroke="#fde3e2" stroke-width="2.4"/>
<path d="M1929.3 389.6L1922.8 385.1" stroke="#fde3e2" stroke-width="2.4"/>
<path d="M1834.6 455.5L1832.1 448.2" stroke="#fde3e2" stroke-width="2.4"/>
<path d="M1717.4 455.5L1719.9 448.2" stroke="#fde3e2" stroke-width="2.4"/>
<path d="M1622.7 389.6L1629.2 385.1" stroke="#fde3e2" stroke-width="2.4"/>
<path d="M1586.5 283L1594.5 283" stroke="#fde3e2" stroke-width="2.4"/>
<path d="M1622.7 176.4L1629.2 180.9" stroke="#fde3e2" stroke-width="2.4"/>
<path d="M1717.4 110.5L1719.9 117.8" stroke="#fde3e2" stroke-width="2.4"/>
<path d="M1834.6 110.5L1832.1 117.8" stroke="#fde3e2" stroke-width="2.4"/>
<path d="M1929.3 176.4L1922.8 180.9" stroke="#fde3e2" stroke-width="2.4"/>
<ellipse cx="1940.5" cy="334.2" rx="5.2" ry="11" fill="#f0939f" transform="rotate(18 1940.5 334.2)"/>
<ellipse cx="1877.7" cy="416.9" rx="5.2" ry="11" fill="#f0939f" transform="rotate(54 1877.7 416.9)"/>
<ellipse cx="1776" cy="448.6" rx="5.2" ry="11" fill="#f0939f" transform="rotate(90 1776 448.6)"/>
<ellipse cx="1674.3" cy="416.9" rx="5.2" ry="11" fill="#f0939f" transform="rotate(126 1674.3 416.9)"/>
<ellipse cx="1611.5" cy="334.2" rx="5.2" ry="11" fill="#f0939f" transform="rotate(162 1611.5 334.2)"/>
<ellipse cx="1611.5" cy="231.8" rx="5.2" ry="11" fill="#f0939f" transform="rotate(198 1611.5 231.8)"/>
<ellipse cx="1674.3" cy="149.1" rx="5.2" ry="11" fill="#f0939f" transform="rotate(234 1674.3 149.1)"/>
<ellipse cx="1776" cy="117.4" rx="5.2" ry="11" fill="#f0939f" transform="rotate(270 1776 117.4)"/>
<ellipse cx="1877.7" cy="149.1" rx="5.2" ry="11" fill="#f0939f" transform="rotate(306 1877.7 149.1)"/>
<ellipse cx="1940.5" cy="231.8" rx="5.2" ry="11" fill="#f0939f" transform="rotate(342 1940.5 231.8)"/>
<path d="M1567.4 281C1567.4 279.2 1566.7 276.8 1567.3 270C1567.9 263.2 1568.9 250.8 1571 240C1573.1 229.2 1576.3 215.8 1580 205C1583.7 194.2 1588 184.3 1593 175C1598 165.7 1604.4 157.5 1610.2 149.2C1616 140.9 1621.5 132.8 1628 125C1634.5 117.2 1642 108.8 1649.2 102.4C1656.4 96 1663.2 91.2 1671 86.5C1678.8 81.8 1686.8 77.9 1696 74.3C1705.2 70.7 1715.6 67.3 1726 65C1736.4 62.7 1749.4 61.1 1758.4 60.3C1767.4 59.5 1766 59.8 1780 60.3C1794 60.8 1825.7 63 1842.4 63.4C1859.1 63.8 1869.6 62.5 1880 62.5C1890.4 62.5 1895.5 62.2 1904.8 63.4C1914.1 64.6 1925.6 66.2 1936 69.6C1946.4 73 1956.8 76.9 1967.2 83.7C1977.6 90.5 1990.1 100.6 1998.4 110.2C2006.7 119.8 2012.5 129.7 2017.1 141.4C2021.6 153.1 2024.7 167.4 2025.7 180.4C2026.8 193.4 2025.7 205.8 2023.4 219.4C2021.1 233 2016.2 248.7 2012 262C2007.8 275.3 2002.8 286.3 1998.4 299C1994.1 311.7 1991.1 325 1985.9 338C1980.7 351 1975.5 364 1967.2 377C1958.9 390 1949 403.8 1936 416C1923 428.2 1904.8 440.7 1889.2 450.3C1873.6 459.9 1857.3 468 1842.4 473.7C1827.5 479.4 1811.6 482.4 1800 484.5C1788.4 486.6 1777.5 486.1 1773 486.4Q1766.5 480.3 1777.7 473.7L1777.7 473.7L1784.7 473.2L1791.6 472.4L1798.4 471.4L1805.2 470.2L1812 468.8L1818.7 467.3L1825.3 465.6L1831.9 463.6L1838.4 461.5L1844.8 459.1L1851.1 456.5L1857.3 453.7L1863.4 450.8L1869.5 447.7L1875.4 444.5L1881.2 441L1886.8 437.3L1892.4 433.5L1897.8 429.5L1903 425.3L1908.2 421L1913.3 416.7L1918.2 412.1L1922.9 407.4L1927.5 402.5L1931.9 397.5L1936.2 392.3L1940.2 387L1944 381.5L1947.6 375.9L1951 370.2L1954.2 364.3L1957.2 358.4L1959.9 352.3L1962.2 346.1L1964.3 339.8L1966.1 333.5L1967.7 327L1969.1 320.6L1970.2 314.1L1971.1 307.6L1971.7 301L1972.6 294.5L1973.3 287.9L1973.9 281.3L1974.2 274.7L1974.2 268.1L1974 261.4L1973.6 254.7L1972.9 248.1L1972 241.4L1970.9 234.8L1969.5 228.2L1967.8 221.6L1966 215L1963.9 208.5L1961.6 202.1L1959 195.7L1956.2 189.4L1953.1 183.2L1949.6 177.2L1945.7 171.4L1941.7 165.7L1937.4 160.1L1932.9 154.7L1928.3 149.5L1923.4 144.4L1918.4 139.4L1913.3 134.5L1908 129.7L1902.6 125.1L1897 120.7L1891.2 116.5L1885.2 112.5L1879.1 108.6L1872.8 105L1866.4 101.7L1859.8 98.6L1853.1 95.7L1846.3 93L1839.4 90.5L1832.4 88.3L1825.3 86.3L1818.2 84.6L1811 83L1803.7 81.8L1796.4 80.7L1789 79.9L1781.6 79.4L1774.1 79.2L1766.7 79.5L1759.3 80.1L1751.9 80.9L1744.6 82L1737.3 83.3L1730.1 84.9L1722.9 86.6L1715.9 88.7L1708.8 90.9L1701.9 93.4L1695.1 96.1L1688.4 99.1L1681.8 102.3L1675.6 106L1669.5 110L1663.6 114.2L1657.9 118.5L1652.4 123.1L1647 127.8L1641.9 132.7L1636.9 137.7L1632.1 142.9L1627.5 148.1L1623 153.5L1618.7 158.9L1614.7 164.6L1610.9 170.3L1607.3 176.1L1603.9 182.1L1600.8 188.1L1597.8 194.2L1595.2 200.5L1592.7 206.7L1590.5 213.1L1588.5 219.5L1586.7 225.9L1585.1 232.3L1583.7 238.8L1582.6 245.3L1581.7 251.9L1581 258.4L1580.6 265L1580.2 271.5L1579.2 278.1Q1573.5 287.5 1567.4 281Z" fill="#fbc080" stroke="#b27631" stroke-width="2.9" stroke-linejoin="round"/>
<ellipse cx="1965.6" cy="139" rx="35" ry="13.2" fill="#f0a762" stroke="#e3994f" stroke-width="2.6" transform="rotate(50 1965.6 139)"/>
<path d="M1803.4 130.5C1804.4 127.8 1808.3 126.1 1811.2 126.6C1814.1 127.1 1816.7 129.3 1820.6 133.6C1824.5 137.9 1828.9 146.1 1834.6 152.3C1840.3 158.6 1847.1 165.8 1854.9 171C1862.7 176.2 1873.1 179.9 1881.4 183.5C1889.7 187.2 1899.1 190.3 1904.8 192.9C1910.5 195.5 1913.6 197.3 1915.7 199.1C1917.8 200.9 1918.1 202.2 1917.3 203.8C1916.5 205.4 1914.4 207.6 1911 208.5C1907.7 209.4 1903.2 209.5 1897 209.3C1890.8 209 1881.4 208.6 1873.6 206.9C1865.8 205.2 1857.2 203 1850.2 199.1C1843.2 195.2 1837.2 189.5 1831.5 183.5C1825.8 177.5 1820.3 170 1815.9 163.2C1811.5 156.5 1807 148.4 1805 143C1802.9 137.5 1802.4 133.2 1803.4 130.5Z" fill="#f0bcc0" stroke="#e98fa0" stroke-width="1.5"/>
<ellipse cx="1845.5" cy="185.1" rx="13" ry="7.6" fill="#e98a96" transform="rotate(32 1845.5 185.1)"/>
<path d="M1921.2 215.5C1920.5 215.5 1918.8 223.1 1917.3 227.2C1915.8 231.3 1913.8 238.1 1911 242.8C1908.2 247.5 1902.1 254.6 1898.6 258.4C1895.1 262.1 1890.5 264.5 1887.6 267.8C1884.7 271.1 1880.7 276.8 1879.5 280.3C1878.3 283.8 1879.1 287.3 1879.8 291.2C1880.5 295.1 1882.8 301.8 1884 306C1885.2 310.2 1886.4 314 1887.6 319.3C1888.8 324.6 1891.2 335.8 1892.3 341.1C1893.4 346.4 1894.1 352.6 1894.7 354.4C1895.3 356.2 1895.6 356.6 1896.4 353C1897.2 349.4 1898.8 337.1 1900.1 330.2C1901.4 323.3 1903.4 313.8 1904.8 306.8C1906.2 299.8 1908.1 288.9 1909.5 283.4C1910.9 277.9 1912.8 275 1914.2 270.1C1915.6 265.2 1917.6 257 1918.8 250.6C1920 244.2 1921.6 232.5 1922 227.2C1922.4 221.9 1921.9 215.5 1921.2 215.5Z" fill="#fbc080" stroke="#dc9a52" stroke-width="1.4" stroke-linejoin="round"/>
<ellipse cx="1897.8" cy="279.5" rx="6.5" ry="11" fill="#efa560" transform="rotate(5 1897.8 279.5)"/>
<circle cx="1670.7" cy="326.8" r="32.5" fill="#d9b8e1" stroke="#caa6d8" stroke-width="1.2"/>
<circle cx="1673.9" cy="327.9" r="13" fill="#bf9cc6"/>
<path d="M1704.6 326L1797.2 212.7" stroke="#222" stroke-width="4.3" fill="none"/>
<path d="M1811.8 194.9L1804.5 221.2L1787.5 207.3Z" fill="#222"/>
<path d="M1704.6 326L1854 285.6" stroke="#222" stroke-width="4.3" fill="none"/>
<path d="M1876.2 279.6L1854.9 296.7L1849.2 275.5Z" fill="#222"/>
</g>

<!-- bcell_left -->
<g>
<ellipse cx="281.7" cy="729.2" rx="234.8" ry="228.3" fill="#fdeef4"/>
<g clip-path="url(#clipBL)">
<path d="M70 834V826Q72 817 95 815Q200 812 300 816Q420 819 480 816L520 816V834Z" fill="#f8c9cf" opacity="0.8"/>
<rect x="40" y="834" width="490" height="131" fill="#f2aeb1"/>
<rect x="40" y="834" width="490" height="131" fill="url(#striaL)"/>
<ellipse cx="301.7" cy="900.3" rx="47" ry="24" fill="#e8838a" stroke="#e17880" stroke-width="1.2"/>
<ellipse cx="301.7" cy="900.3" rx="47" ry="24" fill="url(#striaL)" opacity="0.6"/>
<path d="M40 835.8H530" stroke="#da4f55" stroke-width="3.6"/>
</g>
<ellipse cx="125.7" cy="818.5" rx="19" ry="19" fill="url(#goldglow)"/>
<path d="M127.4 806L127.4 819L136 831.3M132.3 819.9L138.9 829.3M124 806L124 819L115.4 831.3M119.1 819.9L112.5 829.3" fill="none" stroke="#d3a02f" stroke-width="2.4" stroke-linejoin="round"/>
<ellipse cx="163.1" cy="818.5" rx="19" ry="19" fill="url(#goldglow)"/>
<path d="M164.8 806L164.8 819L173.4 831.3M169.7 819.9L176.3 829.3M161.4 806L161.4 819L152.8 831.3M156.5 819.9L149.9 829.3" fill="none" stroke="#d3a02f" stroke-width="2.4" stroke-linejoin="round"/>
<ellipse cx="197.9" cy="818.5" rx="19" ry="19" fill="url(#goldglow)"/>
<path d="M199.6 806L199.6 819L208.2 831.3M204.5 819.9L211.1 829.3M196.2 806L196.2 819L187.6 831.3M191.3 819.9L184.7 829.3" fill="none" stroke="#d3a02f" stroke-width="2.4" stroke-linejoin="round"/>
<ellipse cx="230.1" cy="818.5" rx="19" ry="19" fill="url(#goldglow)"/>
<path d="M231.8 806L231.8 819L240.4 831.3M236.7 819.9L243.3 829.3M228.4 806L228.4 819L219.8 831.3M223.5 819.9L216.9 829.3" fill="none" stroke="#d3a02f" stroke-width="2.4" stroke-linejoin="round"/>
<ellipse cx="263" cy="818.5" rx="19" ry="19" fill="url(#goldglow)"/>
<path d="M264.7 806L264.7 819L273.3 831.3M269.6 819.9L276.2 829.3M261.3 806L261.3 819L252.7 831.3M256.4 819.9L249.8 829.3" fill="none" stroke="#d3a02f" stroke-width="2.4" stroke-linejoin="round"/>
<ellipse cx="298.4" cy="818.5" rx="19" ry="19" fill="url(#goldglow)"/>
<path d="M300.1 806L300.1 819L308.7 831.3M305 819.9L311.6 829.3M296.7 806L296.7 819L288.1 831.3M291.8 819.9L285.2 829.3" fill="none" stroke="#d3a02f" stroke-width="2.4" stroke-linejoin="round"/>
<ellipse cx="328.1" cy="818.5" rx="19" ry="19" fill="url(#goldglow)"/>
<path d="M329.8 806L329.8 819L338.4 831.3M334.7 819.9L341.3 829.3M326.4 806L326.4 819L317.8 831.3M321.5 819.9L314.9 829.3" fill="none" stroke="#d3a02f" stroke-width="2.4" stroke-linejoin="round"/>
<ellipse cx="359.3" cy="818.5" rx="19" ry="19" fill="url(#goldglow)"/>
<path d="M361 806L361 819L369.6 831.3M365.9 819.9L372.5 829.3M357.6 806L357.6 819L349 831.3M352.7 819.9L346.1 829.3" fill="none" stroke="#d3a02f" stroke-width="2.4" stroke-linejoin="round"/>
<ellipse cx="389.2" cy="818.5" rx="19" ry="19" fill="url(#goldglow)"/>
<path d="M390.9 806L390.9 819L399.5 831.3M395.8 819.9L402.4 829.3M387.5 806L387.5 819L378.9 831.3M382.6 819.9L376 829.3" fill="none" stroke="#d3a02f" stroke-width="2.4" stroke-linejoin="round"/>
<ellipse cx="419.7" cy="818.5" rx="19" ry="19" fill="url(#goldglow)"/>
<path d="M421.4 806L421.4 819L430 831.3M426.3 819.9L432.9 829.3M418 806L418 819L409.4 831.3M413.1 819.9L406.5 829.3" fill="none" stroke="#d3a02f" stroke-width="2.4" stroke-linejoin="round"/>
<ellipse cx="452.5" cy="818.5" rx="19" ry="19" fill="url(#goldglow)"/>
<path d="M454.2 806L454.2 819L462.8 831.3M459.1 819.9L465.7 829.3M450.8 806L450.8 819L442.2 831.3M445.9 819.9L439.3 829.3" fill="none" stroke="#d3a02f" stroke-width="2.4" stroke-linejoin="round"/>
<path d="M214.7 557.5L214.7 539L206.4 528.4M209.9 538.3L203.7 530.5M218.1 557.5L218.1 539L226.4 528.4M222.9 538.3L229.1 530.5" fill="none" stroke="#203f78" stroke-width="2.3" stroke-linejoin="round"/>
<path d="M214.7 557.5L214.7 552.5M218.1 557.5L218.1 552.5" fill="none" stroke="#c9d6e3" stroke-width="2.3"/>
<path d="M267.1 548L256.3 533L243.3 529.3M251.9 535.3L242.3 532.6M269.9 546L259 531L259.5 517.5M262.5 527.7L262.9 517.7" fill="none" stroke="#203f78" stroke-width="2.3" stroke-linejoin="round"/>
<path d="M267.1 548L264.2 544M269.9 546L266.9 542" fill="none" stroke="#c9d6e3" stroke-width="2.3"/>
<path d="M145 696.3L126.5 696.3L115.9 704.6M125.8 701.1L118 707.3M145 692.9L126.5 692.9L115.9 684.6M125.8 688.1L118 681.9" fill="none" stroke="#203f78" stroke-width="2.3" stroke-linejoin="round"/>
<path d="M145 696.3L140 696.3M145 692.9L140 692.9" fill="none" stroke="#c9d6e3" stroke-width="2.3"/>
<path d="M259.4 752.9L249.6 768.6L251 782M253.4 771.7L254.4 781.7M256.6 751.1L246.8 766.8L234.1 771.4M242.3 764.8L232.9 768.2" fill="none" stroke="#203f78" stroke-width="2.3" stroke-linejoin="round"/>
<path d="M259.4 752.9L256.8 757.1M256.6 751.1L253.9 755.3" fill="none" stroke="#c9d6e3" stroke-width="2.3"/>
<path d="M415.4 707.5L426.2 722.5L439.2 726.2M430.6 720.2L440.2 722.9M412.6 709.5L423.5 724.5L423 738M420 727.8L419.6 737.8" fill="none" stroke="#203f78" stroke-width="2.3" stroke-linejoin="round"/>
<path d="M415.4 707.5L418.3 711.5M412.6 709.5L415.6 713.5" fill="none" stroke="#c9d6e3" stroke-width="2.3"/>
<circle cx="214.5" cy="610" r="54.5" fill="#9fcfdb" stroke="#7d9fb8" stroke-width="1.1"/>
<circle cx="213.8" cy="607" r="34.3" fill="#7aadc0" stroke="#6b92a9" stroke-width="1.1"/>
<circle cx="293.2" cy="706.4" r="57" fill="#9fcfdb" stroke="#7d9fb8" stroke-width="1.1"/>
<circle cx="288.1" cy="713.9" r="34" fill="#7aadc0" stroke="#6b92a9" stroke-width="1.1"/>
<circle cx="383" cy="660.3" r="57" fill="#9fcfdb" stroke="#7d9fb8" stroke-width="1.1"/>
<circle cx="390.5" cy="664.7" r="34" fill="#7aadc0" stroke="#6b92a9" stroke-width="1.1"/>
<circle cx="304.4" cy="591.2" r="56.6" fill="#9fcfdb" stroke="#7d9fb8" stroke-width="1.1"/>
<circle cx="296.6" cy="586.8" r="34" fill="#7aadc0" stroke="#6b92a9" stroke-width="1.1"/>
<circle cx="201.7" cy="695.3" r="57" fill="#9fcfdb" stroke="#7d9fb8" stroke-width="1.1"/>
<circle cx="193.9" cy="697.6" r="34" fill="#7aadc0" stroke="#6b92a9" stroke-width="1.1"/>
<ellipse cx="281.7" cy="729.2" rx="234.8" ry="228.3" fill="none" stroke="#111" stroke-width="4.6"/>
</g>

<!-- fibrosis_left -->
<g>
<ellipse cx="282" cy="1224.5" rx="222.7" ry="216.8" fill="#fff" stroke="#111" stroke-width="4.6"/>
<path d="M281.1 1031.6C304.4 1030.1 329.1 1034.8 349.2 1038.6C369.2 1042.3 387.6 1047.6 401.5 1054.3C415.5 1061 425.4 1068.2 433 1078.7C440.5 1089.2 442.3 1102 446.9 1117.1C451.6 1132.3 457.4 1152 460.9 1169.5C464.4 1187 468.5 1204.4 467.9 1221.9C467.3 1239.3 460.3 1258.5 457.4 1274.2C454.5 1290 455.1 1302.8 450.4 1316.1C445.8 1329.5 438.8 1344.1 429.5 1354.6C420.2 1365 407.9 1373.2 394.6 1379C381.2 1384.8 362.5 1384.8 349.2 1389.5C335.8 1394.1 328.8 1402.9 314.2 1406.9C299.7 1411 278.2 1412.7 261.9 1413.9C245.6 1415.1 227.5 1417.4 216.5 1413.9C205.4 1410.4 201.4 1401.7 195.5 1393C189.7 1384.2 188 1371.4 181.6 1361.5C175.2 1351.6 167 1341.8 157.1 1333.6C147.2 1325.5 132.4 1319.6 122.2 1312.7C112 1305.7 99.5 1302.8 96 1291.7C92.5 1280.6 98.6 1263.8 101.3 1246.3C103.9 1228.9 108.8 1206.7 111.7 1187C114.6 1167.2 116.7 1145.1 118.7 1127.6C120.8 1110.1 118.7 1093 124 1082.2C129.2 1071.4 135.9 1068.8 150.1 1063C164.4 1057.2 187.7 1052.5 209.5 1047.3C231.3 1042.1 257.8 1033 281.1 1031.6Z" fill="#d4eef6" stroke="#a9d9ea" stroke-width="1.3"/>
<clipPath id="clipFL"><path d="M281.1 1033.1C304.2 1031.6 328.7 1036.2 348.7 1040C368.6 1043.7 386.8 1048.9 400.7 1055.5C414.6 1062.2 424.4 1069.4 431.9 1079.8C439.4 1090.2 441.1 1103 445.7 1118C450.3 1133 456 1152.7 459.5 1170C462.9 1187.3 467 1204.7 466.4 1222C465.8 1239.3 458.8 1258.3 455.9 1273.9C453.1 1289.5 453.7 1302.2 449.1 1315.5C444.5 1328.8 437.5 1343.2 428.3 1353.6C419.1 1364 406.9 1372.1 393.6 1377.8C380.3 1383.6 361.8 1383.5 348.6 1388.1C335.3 1392.7 328.4 1401.4 314 1405.5C299.5 1409.5 278.2 1411.2 262 1412.4C245.9 1413.6 227.9 1416 217 1412.5C206 1409 202 1400.3 196.2 1391.6C190.5 1382.9 188.8 1370.2 182.5 1360.4C176.2 1350.5 168.1 1340.7 158.3 1332.7C148.5 1324.6 133.7 1318.9 123.6 1312C113.4 1305.1 100.9 1302.2 97.5 1291.3C94 1280.3 100.1 1263.5 102.8 1246.2C105.4 1228.9 110.3 1207 113.2 1187.4C116 1167.7 118 1145.8 120 1128.4C121.9 1111.1 119.8 1094 125 1083.3C130.2 1072.6 136.9 1070 151 1064.2C165.2 1058.4 188.4 1053.9 210 1048.7C231.7 1043.5 258 1034.5 281.1 1033.1Z"/></clipPath>
<g clip-path="url(#clipFL)"><path d="M218.8 1073.1C221.5 1079.2 231 1095.9 233.7 1106.2C236.4 1116.4 238 1123.7 233.7 1129.1C229.3 1134.4 221.3 1136.1 209.7 1135.3C198.2 1134.6 181.5 1128.6 170.9 1124.9C160.3 1121.2 156 1120 152 1115.1C148.1 1110.2 149.9 1101.3 149.4 1098.2M145.2 1097.4C151.3 1092.9 164.9 1077.6 178.7 1072.8C192.5 1068 209.6 1065 220.5 1071.2C231.3 1077.4 234.5 1095.9 237.9 1106.6C241.3 1117.3 243.6 1124 239.2 1129.8C234.7 1135.5 226.6 1138.2 213.5 1138.1C200.4 1138 176.2 1131 167.8 1129.4M241.6 1106.1C241.5 1111 246 1126.3 241.1 1132.8C236.2 1139.2 228.4 1141.5 214.9 1141.3C201.4 1141.1 180.3 1136.2 167.3 1131.5C154.3 1126.8 148.5 1121.5 144.1 1115.4C139.7 1109.4 137.1 1107 143.3 1098.7C149.5 1090.4 171.5 1075.4 177.8 1070.2M275.9 1060.5C283.7 1060.3 306.9 1056.5 318.5 1059.5C330.2 1062.4 336.7 1068.8 339.2 1076.6C341.8 1084.5 339.3 1095.6 332.5 1102.1C325.8 1108.7 314.3 1111.5 302.6 1112.2C290.8 1112.9 276.9 1109.6 268.4 1106C260 1102.3 258.8 1094.8 256.6 1092.3M334.6 1100.6C328.8 1103 315.1 1112.4 302.8 1113.7C290.6 1115 276.7 1111.1 267.8 1107.6C258.8 1104.1 256.5 1100.1 253.9 1094.5C251.3 1088.9 249.2 1083.5 253.5 1077C257.8 1070.5 265.3 1062.5 277.3 1059.1C289.2 1055.7 311.1 1058.5 318.7 1058.4M338.2 1102.9C332 1105.7 318.2 1116.7 304.5 1117.9C290.8 1119 273.7 1113.6 263.6 1109.1C253.6 1104.7 252.5 1099.4 249.7 1093.5C246.9 1087.6 248.7 1079.9 248.5 1076.8M414.2 1153.1C409.4 1150.7 394.4 1147.8 387.7 1140.3C381 1132.9 379.1 1123.3 377.8 1112.5C376.4 1101.8 377.8 1088 380.4 1081.7C383 1075.4 385.2 1074.2 392 1078.2C398.8 1082.2 409.4 1093 417.5 1103.7C425.6 1114.5 432.6 1131 436 1137.1M379.6 1080.7C382.2 1079.9 386.5 1072.7 393.8 1076.3C401.1 1080 411.7 1089.4 419.5 1100.8C427.2 1112.2 433 1129 436.2 1138.4C439.3 1147.9 440.8 1149.1 436.5 1152.3C432.2 1155.5 421.9 1158 412.7 1156.1C403.4 1154.3 391.1 1144.8 386.2 1142.3M422.6 1099.5C425.5 1106.6 435.2 1128 438.2 1138.4C441.2 1148.7 443.4 1151.8 439.2 1155.8C435 1159.7 419.8 1159.1 415.4 1159.9M289.2 1124.8C295.4 1122.6 313.2 1113.4 322.9 1112.9C332.6 1112.3 339.4 1115 342.2 1121.8C344.9 1128.6 342.3 1140.7 337.9 1149.7C333.6 1158.8 326.6 1166.2 318.5 1171C310.3 1175.9 302.5 1176.8 293.3 1176.2C284.1 1175.7 272.9 1169.4 268.3 1167.9M341.8 1148.2C337.9 1152.9 329.6 1168.1 320.4 1173.7C311.2 1179.3 301.4 1179.6 291.7 1178.7C282.1 1177.7 272.3 1170.4 268 1168.6M349.8 1119.5C348.8 1125 349.3 1138.7 344.3 1149.2C339.3 1159.6 332.7 1170.7 322.3 1176.7C312 1182.6 298.9 1182.4 288 1181.5C277.1 1180.6 267.7 1173.5 263.1 1171.7M140.2 1178.5C139.1 1176 132.8 1170.4 134.5 1164.5C136.2 1158.6 139 1149 149.4 1146.5C159.7 1144.1 177 1147.6 190.9 1151C204.8 1154.5 219.5 1158.9 225.4 1165.3C231.2 1171.6 223.4 1181.8 222.9 1185.6M149.8 1147C157.4 1147.1 177.1 1144.1 191.3 1147.3C205.4 1150.5 220.7 1157.4 226.9 1164.6C233.1 1171.8 228.8 1180.5 225.1 1186.6C221.4 1192.7 217.7 1196.8 206.7 1197.8C195.7 1198.9 178.1 1196.1 165.1 1192.5C152.2 1188.9 141.4 1180.7 136.1 1178.1M133.8 1180.1C133.1 1177.5 127.8 1172.4 129.9 1165.8C132 1159.2 133.9 1147.7 145.2 1144C156.5 1140.4 175.9 1142.4 191.5 1145.9C207.1 1149.5 223.2 1160.1 230.3 1163.3M405 1177.3C410.7 1179.3 430.5 1181.9 436.2 1188C441.9 1194.1 439.1 1204.6 436 1210.4C433 1216.3 430.8 1217.6 419.6 1220.1C408.4 1222.7 388.2 1225.7 374.9 1224.4C361.7 1223.1 353.4 1218.1 347.5 1213.2C341.6 1208.2 343.7 1200.4 342.9 1197.6M372.8 1226.4C367.5 1224 350.4 1218.9 343.8 1213.2C337.3 1207.5 333.8 1202.5 337.1 1195.3C340.4 1188.1 349.3 1177.5 361.8 1173.9C374.3 1170.3 397.3 1175.4 405.3 1175.8M425.1 1223.2C415.2 1224.1 386.5 1229.6 371.2 1228.1C355.9 1226.6 348.4 1220.7 341.7 1215C335.1 1209.3 331.9 1204.2 335.1 1196.7C338.4 1189.3 346.4 1178.5 359.5 1174.2C372.6 1169.8 391.6 1170.3 406.6 1172.8C421.7 1175.3 435.1 1185.1 441.5 1187.8M274.9 1284.9C271.5 1281.6 262 1276.2 256.6 1266.6C251.1 1257.1 245.5 1244.2 245.3 1232.6C245.1 1221 249.7 1209.2 255.3 1203.2C261 1197.2 267.8 1198 276.2 1199.9C284.6 1201.9 292.1 1206.2 301.1 1213.8C310 1221.5 319.1 1232.3 324.9 1241.5C330.7 1250.7 331.3 1260 332.7 1264.1M255.3 1200.7C258.6 1199.7 264.9 1192.8 273.6 1194.8C282.3 1196.9 292.5 1203.3 302.7 1211.9C312.9 1220.4 322.9 1231.6 329.3 1241.5C335.7 1251.4 336.2 1261.4 337.8 1265.9M306.1 1210.4C310.8 1216.2 325.7 1232 331.8 1242.4C337.9 1252.8 342.2 1258.8 339.3 1267.1C336.5 1275.5 328.6 1283.4 316.4 1288C304.2 1292.6 280.8 1291.5 272.8 1292.3M209.4 1266.8C207 1268.2 203.3 1276.1 196.5 1274.6C189.6 1273.2 179.5 1265.1 171.9 1259C164.3 1252.9 158.2 1244.6 155.1 1241.4M171 1263.6C167.1 1259.6 155.2 1248.1 149.7 1241.7C144.2 1235.3 139.8 1232.9 141 1228.7C142.2 1224.5 146.8 1219.9 156.4 1218.9C166 1217.9 183.2 1218.6 193.4 1223.4C203.6 1228.2 208.6 1241.1 212.1 1245.1M215.3 1245.3C215.2 1249.9 217.4 1264.2 214.8 1270.6C212.1 1277.1 208.8 1281.6 200.7 1280.5C192.6 1279.3 176.1 1267.4 170.5 1264.4M383.8 1230.6C390.2 1230.1 408.4 1227.1 418.7 1227.6C429.1 1228.1 436.3 1227.8 440.2 1233.5C444.1 1239.1 443.6 1251.7 440.1 1258.3C436.5 1264.9 424.3 1267.4 420.8 1269.5M367.7 1245.7C370.5 1242.6 373.5 1233.1 382.8 1229C392.2 1225 407.4 1222.7 418.7 1223.5C429.9 1224.3 439.6 1231.5 444.3 1233.2M384.2 1273.1C381.2 1270.9 371.2 1265.9 368 1260.9C364.9 1255.9 364.9 1252.1 366.9 1245.8C368.9 1239.5 369.3 1231.5 379 1226.7C388.6 1222 407.4 1219 419.5 1220.1C431.6 1221.1 440.5 1230.2 445.2 1232.4M146 1247.9C149.5 1252.9 161.1 1266.7 164.7 1275C168.3 1283.2 169.1 1287.7 165.8 1292.9C162.4 1298.1 150.1 1301.4 146.6 1303.3M117 1278.5C118 1274.4 119.4 1264.5 122.2 1256.5C125 1248.4 127.7 1237 132.3 1234.6C137 1232.1 144.7 1241.6 147.4 1243.2M126.2 1300C123.9 1295.9 115.4 1286.1 113.7 1277.6C112 1269.1 113.6 1262.4 116.8 1253.7C120 1244.9 128.6 1234.1 131.2 1229.7M154.1 1309.1C157.5 1305.6 164.3 1295.8 173 1290C181.6 1284.3 194 1278.2 201.3 1277.8C208.5 1277.5 211.5 1283.5 212.5 1288.2C213.4 1293 207.6 1301 206.5 1303.8M169.5 1286.7C175.5 1284.3 193.4 1274.3 202.2 1274C211.1 1273.7 215.9 1279.2 217.8 1285.1C219.8 1291 219.9 1299.3 212.8 1306.1C205.7 1312.9 185.2 1319.3 179.1 1322.3M155.1 1324.7C153.9 1322.5 146 1320.4 148.3 1312.9C150.6 1305.3 164 1289 167.5 1283.7M411.6 1301.6C414 1304.7 424.1 1310.8 424.9 1318.3C425.7 1325.8 420.2 1336.2 415.9 1342.5C411.5 1348.8 407.4 1353.7 401.3 1352.9C395.2 1352 388.2 1344.6 382.6 1338C377 1331.4 372.8 1320.8 370.6 1317M381.1 1284.7C386.8 1287.5 403.4 1293.4 411.9 1300C420.5 1306.5 426.1 1312.2 427.8 1320.4C429.5 1328.7 425.9 1338.3 421.3 1345C416.6 1351.7 409.8 1357.4 402.5 1357C395.2 1356.7 388.1 1350.8 381.4 1343.2C374.8 1335.6 368.9 1320.7 366.1 1315.7M414.2 1297.4C417.4 1301.6 430.3 1311 431.6 1319.9C432.8 1328.9 426.1 1338.6 420.8 1346.2C415.5 1353.7 410.4 1361.1 402.9 1361C395.3 1361 387.2 1354.4 379.7 1345.9C372.1 1337.4 365 1320.5 361.7 1314.8M329 1360.6C326.3 1353.9 314.6 1333.3 314.1 1323.9C313.6 1314.4 320.7 1312.5 326.3 1309.2C331.8 1305.8 341 1306.4 344.3 1305.8M379.9 1359.5C378.9 1362.3 380.1 1371.1 374.4 1374.9C368.7 1378.6 357.6 1382.3 348.7 1380C339.8 1377.8 332.5 1373.1 325.7 1362.6C318.9 1352.2 311.7 1333.4 311.5 1323.1C311.4 1312.8 318.9 1310.4 325 1306.6C331.1 1302.8 341 1303.1 344.6 1302.4M306.9 1321.9C309.7 1318.5 315.5 1307.6 322.3 1303.3C329.2 1298.9 336.2 1295.2 344.2 1298.2C352.3 1301.3 359.2 1308.5 366.1 1319.8C372.9 1331.2 378.6 1352.7 381.5 1360M221 1330.3C226.4 1327.5 241.7 1316.8 250.7 1315.1C259.8 1313.4 263.7 1315.9 270.4 1320.9C277 1325.8 282 1331.8 286.9 1342C291.8 1352.2 295.1 1370.2 296.9 1376.5M219.9 1327.1C225.9 1324.5 243.3 1314.5 252.6 1312.8C261.9 1311.1 264.4 1312.5 270.8 1317.7C277.2 1322.9 284.4 1336.9 287.5 1341.2M197.6 1359.5C200.8 1353.1 205.6 1334.1 215.1 1324.9C224.7 1315.6 239.1 1311 249.9 1308.9C260.6 1306.9 265.7 1308.1 273.7 1313.6C281.8 1319.1 288.4 1326.4 293.7 1338.8C299 1351.2 303.9 1370.8 302.4 1381.3C301 1391.8 288.9 1393.4 285.9 1396.1M239.4 1290.6C238 1292.6 234 1299.1 230.7 1302.7C227.4 1306.4 223.3 1309.3 219.6 1312.6C215.9 1315.9 212.2 1319.1 208.6 1322.6C205 1326 199.9 1331.3 198.2 1333.1M317.6 1359.8C317.1 1361.1 315.4 1365.2 314.7 1368C313.9 1370.7 313.2 1373.4 313 1376.2C312.9 1378.9 312.7 1381.6 313.6 1384.3C314.4 1387.1 317.4 1391.1 318.2 1392.5M341.6 1260.7C343.1 1261.9 348.3 1264.8 350.5 1267.8C352.7 1270.9 353.2 1275.5 355 1279C356.7 1282.6 358.3 1286.2 360.9 1288.9C363.5 1291.6 368.9 1294.2 370.5 1295.2M351.5 1252.8C350.3 1253.4 346.9 1255.8 344.5 1256.3C342.1 1256.8 339.6 1256.2 337.1 1255.9C334.6 1255.6 332 1254.6 329.5 1254.3C327 1253.9 323.3 1254.1 322.1 1254.1M150.8 1271C148.6 1271.7 141.8 1273.8 137.6 1275.6C133.3 1277.5 129.3 1279.8 125.3 1282.2C121.4 1284.6 117.9 1287.9 113.9 1290.3C109.9 1292.6 103.5 1295.3 101.4 1296.3M174.8 1311.9C172.7 1312.7 165.6 1314.3 161.9 1317.1C158.3 1319.9 156.1 1325.2 153 1328.8C149.8 1332.4 147.1 1336.7 143 1338.8C138.9 1341 131 1341.2 128.6 1341.6M261.3 1103.1C259.7 1103.9 254.5 1105.8 251.8 1107.9C249.1 1110 247.3 1113 245.2 1115.8C243.1 1118.6 241.5 1122 239.2 1124.5C237 1127.1 232.8 1130.1 231.5 1131.2M331.4 1276.1C330.2 1277.8 326.4 1282.8 324.4 1286.5C322.5 1290.1 321.1 1294 319.6 1297.9C318.1 1301.7 316.7 1305.6 315.4 1309.6C314.1 1313.5 312.4 1319.5 311.8 1321.5M360.9 1227.3C361 1229.8 361.7 1237 361.7 1242C361.7 1246.9 360.3 1252 360.8 1256.8C361.3 1261.7 363.6 1266.3 364.8 1271.1C365.9 1275.9 367.3 1283.1 367.8 1285.5M273.6 1242.7C273.6 1244.8 273.4 1250.8 273.6 1254.9C273.8 1258.9 274.4 1263 274.8 1267C275.2 1271.1 275.9 1275.1 276.1 1279.2C276.3 1283.2 275.9 1289.3 275.8 1291.3M178.7 1281.4C180.9 1282.2 187.8 1283.9 191.8 1285.9C195.8 1287.9 199.6 1290.2 202.7 1293.5C205.7 1296.7 207 1302.5 210.2 1305.6C213.4 1308.7 219.8 1311.1 221.7 1312.3M303.5 1351.3C304.7 1353.4 307.5 1360.4 310.6 1364.2C313.7 1367.9 318.3 1370.5 322.1 1373.8C325.9 1377 330.3 1379.7 333.3 1383.6C336.3 1387.4 338.9 1394.6 340 1396.8M230.5 1264.8C229.2 1264.6 225.3 1263.4 222.8 1263.5C220.3 1263.6 217.9 1264.7 215.5 1265.4C213 1266.1 210.6 1267.4 208.2 1267.9C205.7 1268.3 201.9 1268 200.7 1268M356.1 1186.1C357.8 1187.9 362.6 1193.8 366.2 1196.9C369.9 1200.1 374 1202.7 378.2 1205.1C382.3 1207.5 387 1209.2 391.4 1211.3C395.8 1213.4 402.3 1216.6 404.4 1217.7M357.5 1223.4C358.4 1225.6 360.9 1232.6 362.7 1237.1C364.6 1241.6 366.2 1246.2 368.6 1250.5C371.1 1254.7 374.7 1258.3 377.2 1262.5C379.7 1266.7 382.7 1273.4 383.8 1275.5M374.9 1253.6C375.8 1255.8 378.2 1262.6 380.5 1266.8C382.7 1271 386.3 1274.7 388.4 1279C390.6 1283.2 392 1287.8 393.5 1292.3C395 1296.9 396.7 1303.9 397.4 1306.2M307.9 1228.3C310.3 1228.5 317.5 1228.9 322.1 1230C326.8 1231.1 331.3 1233 335.8 1234.7C340.3 1236.3 344.7 1238.8 349.3 1239.8C354 1240.8 361.3 1240.6 363.7 1240.8M273.4 1348.3C274.2 1349.5 277.2 1352.7 278.4 1355.3C279.7 1358 279.7 1361.4 281 1364C282.4 1366.6 284.7 1368.5 286.4 1370.8C288.1 1373.1 290.5 1376.8 291.3 1378M144.3 1244.7C142.8 1245.3 138.2 1247.4 135.1 1248.3C132 1249.2 128.8 1249.9 125.6 1250.2C122.4 1250.4 119.1 1249.8 115.8 1249.8C112.6 1249.7 107.8 1250 106.1 1250.1M336.4 1103.3C335.9 1104.7 334.1 1108.9 333.5 1111.9C332.8 1114.9 333.2 1118.3 332.6 1121.3C332 1124.3 331 1127.2 329.8 1130C328.7 1132.8 326.3 1136.8 325.6 1138.2M307.1 1233.1C306.6 1234.5 305.5 1239 304.3 1241.8C303.2 1244.7 301.5 1247.5 300.3 1250.4C299 1253.3 297 1256 296.9 1259.1C296.8 1262.1 299.4 1267.2 299.9 1268.8M258.7 1124.2C260.1 1125.1 265 1127 267.3 1129.4C269.6 1131.7 270.5 1135.7 272.6 1138.3C274.7 1140.9 277.5 1142.8 279.8 1145C282.2 1147.3 285.7 1150.8 286.9 1152M252.2 1331C252.9 1333.1 254 1339.5 256.1 1343.2C258.1 1346.9 262.2 1349.8 264.5 1353.4C266.8 1357 268.6 1360.9 270.1 1364.8C271.6 1368.8 272.9 1375.2 273.4 1377.2M170.4 1313C171 1314.4 173.6 1318.6 173.6 1321.3C173.6 1324.1 171.9 1326.8 170.5 1329.5C169 1332.2 165.1 1334.9 164.6 1337.7C164.2 1340.4 167.2 1344.6 167.7 1346M306.6 1206.4C307.1 1207.6 308.1 1211.4 309.2 1213.6C310.3 1215.8 311.5 1218 313.3 1219.7C315.1 1221.3 318.3 1222 320.1 1223.6C322 1225.3 323.6 1228.6 324.4 1229.6M274.4 1354.8C273.3 1355.5 270.1 1358.2 267.8 1359C265.5 1359.8 263.1 1359.7 260.6 1359.6C258.2 1359.4 255.6 1358.4 253.1 1358.2C250.7 1358 247.1 1358.2 245.8 1358.2M189 1150.7C190.1 1151.1 193.6 1151.8 195.3 1152.9C197.1 1154.1 198.5 1155.7 199.6 1157.8C200.8 1159.8 200.7 1163.5 202.1 1165.1C203.6 1166.6 207.4 1166.8 208.4 1167.2M323.2 1240.7C323.3 1242.6 322.9 1248.6 323.7 1252.2C324.6 1255.8 326.6 1259 328.3 1262.3C330 1265.6 332.2 1268.8 334 1272.1C335.7 1275.4 338.1 1280.4 338.9 1282.1M358.9 1197.6C358.4 1199.1 357.3 1203.7 356.2 1206.6C355.1 1209.6 353.4 1212.4 352.4 1215.4C351.4 1218.4 350.6 1221.4 350.2 1224.5C349.7 1227.6 349.7 1232.4 349.6 1234M417.8 1227.1C418.3 1229.3 419.8 1235.9 420.5 1240.3C421.1 1244.7 421.4 1249.3 422 1253.7C422.7 1258.2 422.9 1262.7 424.2 1267C425.6 1271.3 429.2 1277.3 430.2 1279.4M317 1197.5C316 1198.9 312.1 1202.4 311.1 1205.4C310.2 1208.4 312 1212.6 311.3 1215.7C310.6 1218.8 307.8 1221.1 306.7 1224.1C305.6 1227.1 304.9 1231.9 304.6 1233.5M329.1 1082.9C329.9 1083.9 332 1087.2 333.6 1089.2C335.2 1091.2 336.8 1093.1 338.8 1094.6C340.7 1096.2 342.6 1097.7 345.1 1098.4C347.6 1099.1 352.3 1098.9 353.8 1099M187.5 1129.1C189.5 1129.9 195.8 1132.1 199.9 1133.9C203.9 1135.6 207.7 1137.7 211.7 1139.6C215.6 1141.5 219.8 1143 223.5 1145.4C227.1 1147.8 232.1 1152.5 233.8 1153.9M194.6 1211C195.7 1211.9 199.3 1214.3 201.6 1216.1C203.9 1218 205.9 1220.5 208.3 1221.9C210.7 1223.4 213.2 1224.7 216.1 1225C219.1 1225.2 224.2 1223.8 225.8 1223.6M363.1 1300.2C363.1 1302.2 362.8 1308.1 362.8 1312C362.7 1316 363.2 1320 362.8 1323.9C362.4 1327.8 361.4 1331.6 360.4 1335.4C359.3 1339.2 356.9 1344.8 356.3 1346.6M394.2 1239.2C394.4 1240.6 396.2 1244.7 395.8 1247.5C395.3 1250.3 392.4 1253.1 391.6 1255.9C390.8 1258.7 390.8 1261.5 391 1264.3C391.2 1267 392.5 1271.1 392.7 1272.5M243.4 1241.2C244 1242.9 246.2 1247.9 246.8 1251.4C247.4 1254.9 246.8 1258.7 246.9 1262.3C247.1 1265.9 247.1 1269.5 247.7 1273C248.3 1276.6 250 1281.7 250.5 1283.4M194.4 1219.9C193.1 1219.4 189 1217.4 186.4 1217C183.9 1216.6 181.3 1216.2 179 1217.7C176.7 1219.1 175.1 1224.4 172.7 1225.7C170.4 1226.9 166.4 1225.3 165.1 1225.2M413 1183.4C414.5 1185.1 418.8 1190.9 422.3 1193.6C425.8 1196.4 429.3 1199 433.8 1200C438.3 1200.9 445 1198 449.3 1199.4C453.5 1200.8 457.6 1207 459.2 1208.5M302.7 1169.9C302.6 1172.2 301.8 1179.4 301.8 1184.2C301.8 1188.9 302.3 1193.7 302.8 1198.5C303.4 1203.2 304.8 1208 305 1212.8C305.2 1217.5 304.1 1224.7 303.9 1227.1M389.8 1172.7C388.4 1172.6 383.9 1171.5 381.4 1172C378.8 1172.5 376.5 1173.7 374.5 1175.8C372.5 1178 371.6 1183.2 369.4 1184.7C367.2 1186.2 362.6 1184.8 361.3 1184.8M164.4 1155C166.8 1155.6 173.9 1157.8 178.9 1158.7C183.8 1159.6 189.2 1159.2 194.1 1160.4C198.9 1161.6 203.4 1163.9 207.9 1166C212.5 1168.1 219.1 1172 221.3 1173.1M290.8 1122.1C292.6 1123.3 298.1 1126.5 301.4 1129.2C304.8 1131.8 307.6 1135.3 311.1 1137.9C314.5 1140.4 318.1 1142.6 321.9 1144.6C325.7 1146.5 331.8 1148.8 333.8 1149.6M279.6 1228.3C280.9 1228 284.9 1226.4 287.5 1226C290.1 1225.7 292.5 1226.2 295.1 1226.3C297.6 1226.4 300.2 1225.7 302.6 1226.6C305.1 1227.5 308.5 1230.8 309.7 1231.7M288.4 1223.5C288.8 1224.6 289.4 1228.3 290.5 1230.4C291.6 1232.6 293.1 1234.5 294.9 1236.3C296.7 1238 300.1 1239.1 301.4 1241.1C302.7 1243.1 302.4 1247.2 302.6 1248.5M373.8 1330.3C374.9 1331 378.4 1332.7 380.3 1334.4C382.2 1336.1 383.6 1338.3 385.1 1340.3C386.7 1342.4 387.9 1344.6 389.6 1346.6C391.3 1348.5 394.2 1350.9 395.1 1351.8M216.6 1133.1C217.3 1135 219.3 1140.7 220.6 1144.5C221.9 1148.2 222.9 1152.2 224.4 1155.9C225.9 1159.6 227.2 1163.3 229.5 1166.6C231.8 1169.9 236.7 1174.1 238.1 1175.6M224.4 1262.6C226.6 1262.8 233.2 1263 237.5 1263.5C241.9 1264 246.2 1264.5 250.4 1265.6C254.6 1266.8 258.6 1269.1 262.8 1270.3C267 1271.5 273.5 1272.4 275.6 1272.8M200.7 1117.3C201.8 1118.5 204.6 1122.4 207 1124.2C209.4 1126 212.6 1126.5 215.2 1128C217.8 1129.5 219.8 1131.9 222.6 1133.1C225.3 1134.3 230.3 1134.7 231.9 1135M278.5 1119.4C277 1120.4 272.4 1123.1 269.9 1125.4C267.4 1127.7 265.2 1130.2 263.4 1133.2C261.6 1136.2 261.2 1140.5 259.2 1143.3C257.2 1146.1 252.6 1148.8 251.3 1149.9M350.2 1116.6C351.6 1117.9 356.1 1121.3 358.2 1124.4C360.3 1127.5 360.8 1132 362.8 1135.2C364.8 1138.4 367.5 1140.9 370.1 1143.6C372.7 1146.2 377.2 1149.6 378.6 1150.9M295.1 1209C295.8 1210.3 297.7 1214.2 299.1 1216.7C300.4 1219.2 301.7 1221.9 303.4 1224.1C305.1 1226.3 306.9 1228.3 309.3 1229.9C311.6 1231.6 315.9 1233.2 317.2 1233.9M376.2 1156.2C375.6 1158.2 374.3 1164.7 372.7 1168.4C371 1172.2 368.6 1175.4 366.2 1178.6C363.8 1181.8 361.3 1185 358.3 1187.8C355.2 1190.6 349.7 1194.1 348 1195.4M210.7 1186.3C212.2 1187.5 216.7 1191.2 219.6 1193.9C222.4 1196.6 224.8 1199.9 227.9 1202.3C230.9 1204.7 234.8 1206.1 238 1208.4C241.2 1210.6 245.6 1214.4 247.1 1215.6M297.3 1240.7C299.4 1240.5 305.8 1238.9 309.9 1239.7C313.9 1240.5 317.6 1243.8 321.6 1245.3C325.5 1246.8 329.4 1248.4 333.5 1248.9C337.6 1249.5 343.9 1248.8 345.9 1248.8M338.7 1093.1C340.9 1093.9 347.4 1096.5 351.8 1098.2C356.2 1099.9 360.5 1101.8 364.9 1103.2C369.3 1104.7 373.6 1106.7 378.3 1106.7C383 1106.8 390.6 1104.2 393.1 1103.7M324.6 1111C322.7 1111.7 316.8 1113.4 313.3 1115.1C309.8 1116.9 306.6 1119.2 303.5 1121.7C300.4 1124.1 297.7 1127.3 294.7 1129.8C291.6 1132.3 286.7 1135.5 285.1 1136.7M352.9 1232.5C354.3 1234.1 357.9 1239.2 361 1242C364.1 1244.9 368.5 1246.7 371.6 1249.5C374.7 1252.4 377.2 1255.8 379.6 1259.2C381.9 1262.7 384.8 1268.4 385.9 1270.2M201.9 1273.9C201.1 1275.4 199.2 1280.3 197.3 1282.8C195.4 1285.3 193.3 1287.7 190.3 1288.9C187.3 1290.2 182.1 1288.9 179.3 1290.4C176.5 1291.9 174.5 1296.7 173.6 1298M346 1222.5C344.4 1224.4 339.8 1230.3 336.4 1233.9C333 1237.5 329.4 1240.9 325.7 1244.2C322 1247.4 317.9 1250.2 314 1253.3C310.2 1256.4 304.5 1261.2 302.6 1262.8M317.7 1156C316.4 1156.5 312.3 1158.9 309.4 1159.2C306.5 1159.5 303.3 1157.9 300.3 1157.9C297.4 1158 294.6 1159 291.8 1159.5C288.9 1160 284.6 1160.7 283.2 1161M240 1096.1C239.5 1097.5 237.6 1101.8 236.9 1104.9C236.3 1108.1 236.9 1111.7 236.2 1114.8C235.4 1117.8 234 1120.6 232.4 1123.3C230.8 1126.1 227.5 1129.8 226.5 1131M269.5 1363.9C269.2 1365.5 267.2 1370.3 267.8 1373.5C268.4 1376.7 271.9 1379.9 273.2 1383.1C274.4 1386.3 275.7 1389.5 275.5 1392.6C275.2 1395.8 272.3 1400.6 271.7 1402.2M235.4 1290.8C237.5 1291.7 244.4 1293.3 248.1 1295.9C251.9 1298.6 254.4 1303.5 257.9 1306.6C261.4 1309.7 265 1312.5 269.1 1314.5C273.2 1316.4 280.2 1317.8 282.5 1318.4M152.3 1255C153.5 1255.6 157.4 1257.3 159.4 1259C161.4 1260.8 162.7 1263.2 164.2 1265.5C165.7 1267.7 166.6 1270.6 168.3 1272.7C170 1274.7 173.4 1276.9 174.5 1277.7M226.6 1213C227.4 1214 230 1217.1 231.4 1219.3C232.8 1221.6 234.4 1223.7 234.9 1226.5C235.4 1229.3 233.2 1233.7 234.3 1236C235.5 1238.4 240.5 1240 241.8 1240.8M314.9 1098.7C314.7 1100.1 313.4 1104.4 313.5 1107.1C313.5 1109.8 314.1 1112.4 315.4 1114.9C316.6 1117.3 319.8 1119.4 321.1 1121.8C322.4 1124.3 322.9 1128.2 323.2 1129.5M247.1 1122.8C246.7 1124.5 246.2 1129.9 244.7 1133C243.3 1136.1 240.5 1138.6 238.6 1141.6C236.8 1144.5 235.4 1147.6 233.8 1150.7C232.3 1153.8 230.2 1158.5 229.4 1160M282.2 1123.6C283.7 1125 288.8 1128.7 291.5 1132C294.2 1135.3 295.8 1139.9 298.3 1143.4C300.8 1146.9 303.3 1150.4 306.6 1152.9C310 1155.5 316.4 1157.6 318.4 1158.6M238.9 1330.5C240.6 1330.6 246 1330 249.1 1331.2C252.2 1332.4 254.7 1335.5 257.5 1337.6C260.3 1339.8 262.8 1342.9 265.9 1344.1C269 1345.2 274.4 1344.6 276.1 1344.7M104.3 1245C106.3 1235.8 113.6 1209.2 116.5 1189.8C119.5 1170.4 120.2 1146.2 122.2 1128.7C124.1 1111.1 123.1 1095.2 128 1084.6C132.9 1073.9 137.4 1070.1 151.4 1064.7C165.4 1059.3 190.5 1057 212 1052.3C233.6 1047.5 257.8 1038.1 280.7 1036.3C303.6 1034.4 329.7 1037.3 349.6 1041.1C369.4 1044.8 386.6 1052 399.9 1058.7C413.3 1065.4 422.1 1071.7 429.7 1081.5C437.3 1091.3 441 1102.9 445.6 1117.6C450.2 1132.2 454.1 1151.8 457.3 1169.5C460.5 1187.2 465.6 1206.9 465 1223.9C464.4 1241 456.6 1256.7 453.6 1271.8C450.6 1286.9 451.5 1301.2 447.1 1314.6C442.7 1328 436.3 1341.7 427.2 1352.1C418.1 1362.5 398.4 1373 392.6 1377.2M315.3 1401.8C306.6 1403.1 279.1 1408.4 263 1409.5C246.9 1410.6 229.5 1412.1 218.9 1408.6C208.3 1405.2 205.5 1397.4 199.4 1388.9C193.3 1380.3 188.8 1367.4 182.2 1357.5C175.7 1347.5 169.3 1337 159.8 1329.2C150.4 1321.3 135.3 1317.1 125.5 1310.6C115.6 1304 104.8 1293.4 100.6 1289.9M163.6 1327.9C158.2 1324.8 141.2 1315.6 131.2 1309.2C121.1 1302.9 106.6 1300.4 103 1289.7C99.5 1278.9 107.4 1261.5 109.9 1244.6C112.3 1227.7 115.1 1207 117.7 1188.3C120.4 1169.6 123.6 1149.3 125.8 1132.3C128 1115.4 126.3 1096.8 131.1 1086.5C135.9 1076.2 141.4 1075.9 154.8 1070.5C168.1 1065.2 190.3 1059.5 211.1 1054.4C232 1049.3 257.1 1041.3 279.8 1040.1C302.5 1039 328.1 1043.8 347.4 1047.4C366.7 1050.9 382.1 1055.2 395.7 1061.6C409.2 1067.9 421.3 1075.3 428.7 1085.6C436.1 1096 435.8 1109.2 440 1123.7C444.3 1138.3 450.9 1156.4 454.4 1172.8C457.9 1189.2 461.6 1205.9 461 1222.3C460.4 1238.7 452.4 1263.2 450.7 1271.4M425.2 1350.3C419.2 1354.2 402.5 1368.7 389.5 1374C376.5 1379.2 359.8 1377.5 347.1 1381.6C334.4 1385.7 327.4 1394.2 313.3 1398.4C299.2 1402.5 278.6 1404.8 262.6 1406.4C246.7 1408 228.3 1411.5 217.5 1408C206.7 1404.4 203.2 1394.2 197.9 1385.1C192.7 1376.1 188 1358.8 186 1353.6M343.8 1377.6C338.5 1380.6 325.6 1391.5 311.9 1395.6C298.1 1399.8 276.4 1401.3 261.2 1402.3C246 1403.4 230.5 1405.2 220.7 1401.9C210.9 1398.7 207.6 1391.4 202.3 1382.9C197 1374.4 194.6 1360.8 189 1350.9C183.5 1341.1 178.2 1331 169.1 1323.8C160 1316.5 144.8 1313.4 134.4 1307.4C124 1301.5 109.8 1298.3 106.6 1288.3C103.3 1278.3 112.1 1263.2 115 1247.2C117.8 1231.2 121.1 1211.2 123.6 1192.4C126 1173.7 127.7 1151.9 129.6 1134.7C131.5 1117.6 130 1099.6 134.8 1089.4C139.7 1079.3 145.8 1078.6 158.9 1073.9C172 1069.1 193.3 1065.5 213.4 1060.9C233.6 1056.3 257.7 1047.6 279.7 1046.1C301.7 1044.7 334.3 1051 345.3 1051.9M425 1089.4C426.7 1095.4 431.1 1111.1 435.1 1125.4C439.1 1139.6 445.5 1158.4 448.8 1174.9C452.1 1191.4 455.3 1208.4 454.7 1224.3C454 1240.2 447.8 1256.3 444.9 1270.5C442.1 1284.6 441.9 1296.7 437.6 1309.1C433.4 1321.5 427.8 1334.9 419.3 1344.7C410.7 1354.4 391.8 1363.6 386.3 1367.4" fill="none" stroke="#3f8fb4" stroke-width="0.9" opacity="0.9"/></g>
<path d="M153.6 1099.7C158 1094.1 171.1 1084.2 181.6 1080.5C192 1076.7 208.3 1072.6 216.5 1077C224.6 1081.3 227.8 1098.2 230.4 1106.6C233.1 1115.1 235.7 1123.2 232.2 1127.6C228.7 1132 219.1 1133.4 209.5 1132.8C199.9 1132.3 183.6 1127.3 174.6 1124.1C165.6 1120.9 158.9 1117.7 155.4 1113.6C151.9 1109.6 149.3 1105.2 153.6 1099.7Z" fill="#e3a8a6" stroke="#d28b8b" stroke-width="1.1"/><ellipse cx="190.3" cy="1110.1" rx="12.2" ry="9.8" fill="#c26e72"/>
<path d="M258.4 1078.7C261.6 1074.1 270 1067.4 279.3 1064.7C288.6 1062.1 305.2 1060.7 314.2 1063C323.3 1065.3 331.1 1072.6 333.4 1078.7C335.8 1084.8 333.7 1094.7 328.2 1099.7C322.7 1104.6 309.6 1107.8 300.3 1108.4C291 1109 279 1105.8 272.3 1103.2C265.7 1100.5 262.5 1096.8 260.1 1092.7C257.8 1088.6 255.2 1083.4 258.4 1078.7Z" fill="#e3a8a6" stroke="#d28b8b" stroke-width="1.1"/><ellipse cx="295" cy="1087.4" rx="9.1" ry="7.7" fill="#c26e72"/>
<path d="M382.3 1085.7C384.4 1080.5 389 1078.7 394.6 1082.2C400.1 1085.7 409.4 1097.9 415.5 1106.6C421.6 1115.4 428.3 1127.6 431.2 1134.6C434.1 1141.6 436.2 1145.9 433 1148.5C429.8 1151.2 419 1152 412 1150.3C405 1148.5 396 1144.2 391.1 1138.1C386.1 1132 383.8 1122.4 382.3 1113.6C380.9 1104.9 380.3 1090.9 382.3 1085.7Z" fill="#e3a8a6" stroke="#d28b8b" stroke-width="1.1"/><ellipse cx="404.3" cy="1125.9" rx="8.7" ry="7.7" fill="#c26e72"/>
<path d="M265.4 1148.5C268.3 1142.1 280.5 1132.8 289.8 1127.6C299.1 1122.4 312.8 1117.7 321.2 1117.1C329.7 1116.5 338.1 1118.9 340.4 1124.1C342.8 1129.3 339 1141 335.2 1148.5C331.4 1156.1 324.7 1165.4 317.7 1169.5C310.8 1173.6 300.9 1173.6 293.3 1173C285.7 1172.4 277 1170.1 272.3 1166C267.7 1161.9 262.5 1154.9 265.4 1148.5Z" fill="#e3a8a6" stroke="#d28b8b" stroke-width="1.1"/><ellipse cx="298.5" cy="1140.9" rx="9.8" ry="7.7" fill="#c26e72"/>
<path d="M139.7 1166C141.4 1161.4 145.5 1152.3 153.6 1150.3C161.8 1148.3 177.5 1151.2 188.5 1153.8C199.6 1156.4 215 1161.1 220 1166C224.9 1171 221.1 1178.8 218.2 1183.5C215.3 1188.1 211 1193.4 202.5 1193.9C194.1 1194.5 177.5 1189.6 167.6 1187C157.7 1184.3 147.8 1181.7 143.2 1178.2C138.5 1174.7 137.9 1170.7 139.7 1166Z" fill="#e3a8a6" stroke="#d28b8b" stroke-width="1.1"/><ellipse cx="176.3" cy="1168.8" rx="9.1" ry="7.7" fill="#c26e72"/>
<path d="M345.7 1197.4C348 1192.2 357.3 1182.6 366.6 1180C375.9 1177.4 390.8 1180 401.5 1181.7C412.3 1183.5 426 1185.8 431.2 1190.4C436.5 1195.1 435.6 1205 433 1209.7C430.3 1214.3 424.8 1216.6 415.5 1218.4C406.2 1220.1 387.6 1221.3 377.1 1220.1C366.6 1219 357.9 1215.2 352.7 1211.4C347.4 1207.6 343.3 1202.7 345.7 1197.4Z" fill="#e3a8a6" stroke="#d28b8b" stroke-width="1.1"/><ellipse cx="378.8" cy="1199.2" rx="9.8" ry="7.7" fill="#c26e72"/>
<path d="M247.9 1232.3C247.9 1222.7 253.7 1211.1 258.4 1206.2C263 1201.2 268.9 1200.6 275.8 1202.7C282.8 1204.7 292.7 1211.7 300.3 1218.4C307.8 1225.1 316.3 1235.3 321.2 1242.8C326.2 1250.4 331.7 1257.7 330 1263.8C328.2 1269.9 319.8 1276.6 310.8 1279.5C301.7 1282.4 284.6 1283.8 275.8 1281.2C267.1 1278.6 263 1271.9 258.4 1263.8C253.7 1255.6 247.9 1241.9 247.9 1232.3Z" fill="#e3a8a6" stroke="#d28b8b" stroke-width="1.1"/><ellipse cx="284.6" cy="1258.5" rx="11.2" ry="9.8" fill="#c26e72"/>
<path d="M148.4 1232.3C149 1229.4 153.9 1225.7 160.6 1225.4C167.3 1225.1 181 1227.1 188.5 1230.6C196.1 1234.1 202.8 1240.8 206 1246.3C209.2 1251.8 209.5 1259.7 207.8 1263.8C206 1267.8 201.1 1271.9 195.5 1270.8C190 1269.6 181 1261.4 174.6 1256.8C168.2 1252.1 161.5 1246.9 157.1 1242.8C152.8 1238.7 147.8 1235.3 148.4 1232.3Z" fill="#e3a8a6" stroke="#d28b8b" stroke-width="1.1"/><ellipse cx="185.1" cy="1246.3" rx="7" ry="6.3" fill="#c26e72"/>
<path d="M377.1 1246.3C378.5 1242.5 381.2 1236.7 387.6 1234.1C394 1231.5 407.4 1230.3 415.5 1230.6C423.6 1230.9 433 1231.5 436.5 1235.8C439.9 1240.2 439.4 1251.8 436.5 1256.8C433.5 1261.7 426.6 1264.4 419 1265.5C411.4 1266.7 397.8 1265.2 391.1 1263.8C384.4 1262.3 381.2 1259.7 378.8 1256.8C376.5 1253.9 375.6 1250.1 377.1 1246.3Z" fill="#e3a8a6" stroke="#d28b8b" stroke-width="1.1"/><ellipse cx="407.8" cy="1243.5" rx="9.8" ry="7.7" fill="#c26e72"/>
<path d="M125.7 1260.3C127.4 1254.2 130.9 1241.1 134.4 1239.3C137.9 1237.6 142.3 1244 146.6 1249.8C151 1255.6 157.7 1267.3 160.6 1274.2C163.5 1281.2 166.4 1287.3 164.1 1291.7C161.8 1296.1 152.2 1300.4 146.6 1300.4C141.1 1300.4 134.7 1295.8 130.9 1291.7C127.2 1287.6 124.8 1281.2 124 1276C123.1 1270.8 124 1266.4 125.7 1260.3Z" fill="#e3a8a6" stroke="#d28b8b" stroke-width="1.1"/><ellipse cx="145.9" cy="1277" rx="7" ry="6.3" fill="#c26e72"/>
<path d="M157.1 1309.2C159.2 1304.8 167.6 1296.7 174.6 1291.7C181.6 1286.8 193.2 1280.1 199 1279.5C204.8 1278.9 208.6 1284.1 209.5 1288.2C210.4 1292.3 208.9 1299.6 204.3 1303.9C199.6 1308.3 188.5 1312.1 181.6 1314.4C174.6 1316.7 166.4 1318.8 162.4 1317.9C158.3 1317 155.1 1313.5 157.1 1309.2Z" fill="#e3a8a6" stroke="#d28b8b" stroke-width="1.1"/><ellipse cx="191.3" cy="1299.4" rx="7" ry="6.3" fill="#c26e72"/>
<path d="M370.1 1295.2C372.1 1291.1 377.7 1290.2 384.1 1291.7C390.5 1293.2 402.1 1299.3 408.5 1303.9C414.9 1308.6 421.3 1313.5 422.5 1319.6C423.6 1325.7 419 1335.3 415.5 1340.6C412 1345.8 406.8 1351.6 401.5 1351.1C396.3 1350.5 389 1342.9 384.1 1337.1C379.1 1331.3 374.2 1323.1 371.9 1316.1C369.5 1309.2 368.1 1299.3 370.1 1295.2Z" fill="#e3a8a6" stroke="#d28b8b" stroke-width="1.1"/><ellipse cx="397.3" cy="1325.9" rx="9.8" ry="8.4" fill="#c26e72"/>
<path d="M317.7 1326.6C317.4 1319.1 323.6 1315.6 328.2 1312.7C332.9 1309.7 340.4 1306.8 345.7 1309.2C350.9 1311.5 355 1319.1 359.6 1326.6C364.3 1334.2 371.9 1347.6 373.6 1354.6C375.3 1361.5 374.2 1365.6 370.1 1368.5C366 1371.4 355.9 1373.8 349.2 1372C342.5 1370.3 335.2 1365.6 330 1358C324.7 1350.5 318 1334.2 317.7 1326.6Z" fill="#e3a8a6" stroke="#d28b8b" stroke-width="1.1"/><ellipse cx="345" cy="1340.6" rx="9.8" ry="9.1" fill="#c26e72"/>
<path d="M207.8 1358C208.9 1349.3 216.2 1338.3 223.5 1331.9C230.7 1325.5 243.8 1321.1 251.4 1319.6C259 1318.2 263.6 1319.1 268.9 1323.1C274.1 1327.2 278.7 1335.3 282.8 1344.1C286.9 1352.8 293.9 1368.2 293.3 1375.5C292.7 1382.8 287.5 1384.5 279.3 1387.7C271.2 1390.9 254.9 1395.3 244.4 1394.7C233.9 1394.1 222.6 1390.3 216.5 1384.2C210.4 1378.1 206.6 1366.8 207.8 1358Z" fill="#e3a8a6" stroke="#d28b8b" stroke-width="1.1"/><ellipse cx="241.6" cy="1358" rx="12.6" ry="11.2" fill="#c26e72"/>
<path d="M252.8 1074C253.4 1074.5 247.6 1079.9 247.4 1082.3C247.1 1084.7 249.6 1091.9 250.4 1094.3C251.2 1096.7 254.3 1100.8 254.4 1102.8C254.4 1104.8 251.6 1109.1 251 1111.6C250.4 1114 248.8 1121.4 249.3 1123.7C249.9 1126.1 256.2 1131.1 255.9 1131.6C255.5 1132 248.1 1127.5 246.3 1127.6C244.5 1127.7 240.8 1133.2 240.2 1132.7C239.6 1132.2 241.7 1125.9 241.5 1123.4C241.2 1121 239.2 1114.3 238.4 1112C237.6 1109.7 234.5 1105.5 234.5 1103.5C234.4 1101.5 237.2 1097.1 237.8 1094.7C238.4 1092.4 240.1 1085.5 239.5 1083.2C239 1080.8 232.6 1075.3 232.9 1074.7C233.3 1074.2 240.2 1078.8 242.5 1078.7C244.8 1078.6 252.3 1073.6 252.8 1074Z" fill="#f9c76a" stroke="#e2a336" stroke-width="1.2" stroke-linejoin="round"/><ellipse cx="244.4" cy="1103.2" rx="4" ry="2.9" fill="#c8861c" transform="rotate(88 244.4 1103.2)"/>
<path d="M308.9 1038.2C309.5 1037.9 311.9 1044.7 313.7 1045.8C315.6 1047 322.5 1047.5 324.8 1047.7C327.1 1047.9 331.7 1046.9 333.4 1047.6C335.1 1048.2 337.6 1052.2 339.4 1053.6C341.2 1055 346.7 1059.1 348.9 1059.5C351 1059.9 357.6 1056.5 357.8 1056.9C358.1 1057.4 351.5 1061.9 351 1063.5C350.4 1065 353.5 1070.2 352.9 1070.5C352.3 1070.8 347.8 1066.7 345.7 1066C343.6 1065.3 337.3 1064.5 335.1 1064.3C332.8 1064.1 328.2 1065.2 326.5 1064.5C324.8 1063.8 322.3 1059.8 320.5 1058.4C318.8 1057 313.7 1053.1 311.5 1052.7C309.4 1052.3 302.4 1055.6 302.1 1055.1C301.8 1054.6 308.2 1050.5 309 1048.6C309.8 1046.6 308.4 1038.5 308.9 1038.2Z" fill="#f9c76a" stroke="#e2a336" stroke-width="1.2" stroke-linejoin="round"/><ellipse cx="330" cy="1056" rx="3.7" ry="2.7" fill="#c8861c" transform="rotate(22 330 1056)"/>
<path d="M217.5 1200.7C217.2 1199.8 227.5 1200.3 229.5 1198.6C231.5 1196.8 234.1 1188.4 234.9 1185.6C235.8 1182.8 235.4 1176.6 236.8 1174.8C238.2 1173 244.4 1171.9 246.9 1170.3C249.3 1168.8 256.5 1164 257.5 1161.5C258.6 1159 255.4 1148.9 256.1 1148.9C256.8 1148.8 261.5 1159.4 263.6 1160.9C265.7 1162.5 273.8 1161.1 274 1162.1C274.3 1163 267.5 1166.6 265.9 1168.8C264.4 1171.1 261.7 1178.6 260.9 1181.3C260.1 1184 260.4 1190.4 259 1192.1C257.6 1193.9 251.3 1195.1 249 1196.6C246.6 1198.1 239.7 1202.4 238.7 1204.9C237.6 1207.4 240.5 1217.9 239.7 1218.1C239 1218.2 234.8 1208 232.2 1206C229.6 1204 217.8 1201.6 217.5 1200.7Z" fill="#f9c76a" stroke="#e2a336" stroke-width="1.2" stroke-linejoin="round"/><ellipse cx="247.9" cy="1183.5" rx="4.5" ry="4.2" fill="#c8861c" transform="rotate(-52 247.9 1183.5)"/>
<path d="M142.4 1200.8C142.8 1200.4 147.1 1205.9 149.2 1206.4C151.3 1206.9 158.1 1205.7 160.3 1205.4C162.6 1205 166.6 1203 168.5 1203.1C170.3 1203.3 173.8 1206.2 176 1207C178.1 1207.8 184.5 1210.1 186.7 1209.9C188.9 1209.7 194.2 1205.1 194.6 1205.5C194.9 1205.8 189.9 1211.3 189.8 1212.9C189.7 1214.4 194.2 1218.1 193.7 1218.5C193.2 1218.9 187.7 1216.5 185.5 1216.4C183.3 1216.2 177.1 1217 174.9 1217.4C172.7 1217.8 168.6 1219.8 166.7 1219.6C164.9 1219.5 161.3 1216.6 159.2 1215.8C157.2 1215 151.2 1212.8 149 1213C146.8 1213.1 141.1 1217.7 140.6 1217.3C140.2 1217 145.2 1211.9 145.4 1209.9C145.6 1208 141.9 1201.3 142.4 1200.8Z" fill="#f9c76a" stroke="#e2a336" stroke-width="1.2" stroke-linejoin="round"/><ellipse cx="167.6" cy="1211.4" rx="3.7" ry="2.4" fill="#c8861c" transform="rotate(6 167.6 1211.4)"/>
<path d="M299.7 1185.2C300.3 1185.1 298.9 1192.4 300 1194.1C301 1195.8 306.9 1199 308.8 1200C310.7 1201 315.3 1201.7 316.4 1203C317.5 1204.3 317.7 1208.9 318.6 1210.9C319.5 1212.9 322.2 1218.8 323.9 1219.9C325.6 1221.1 333.2 1220.3 333.1 1220.8C333.1 1221.3 325 1223.1 323.7 1224.4C322.4 1225.7 322.5 1231.6 321.8 1231.7C321.1 1231.7 319.2 1226.3 317.7 1224.8C316.3 1223.4 311.1 1220.3 309.2 1219.3C307.4 1218.3 302.8 1217.6 301.6 1216.3C300.5 1215 300.3 1210.3 299.4 1208.4C298.6 1206.5 296.1 1200.9 294.4 1199.7C292.7 1198.6 284.9 1199.1 284.9 1198.5C284.9 1197.9 292.6 1196.5 294.3 1194.9C296.1 1193.4 299 1185.3 299.7 1185.2Z" fill="#f9c76a" stroke="#e2a336" stroke-width="1.2" stroke-linejoin="round"/><ellipse cx="309" cy="1209.7" rx="3.4" ry="2.9" fill="#c8861c" transform="rotate(48 309 1209.7)"/>
<path d="M384.5 1153.2C385 1152.8 388.7 1158.5 390.7 1159.2C392.7 1159.9 399.6 1159.6 401.9 1159.5C404.2 1159.3 408.4 1157.8 410.2 1158.2C412 1158.6 415.2 1161.7 417.2 1162.7C419.3 1163.7 425.5 1166.6 427.7 1166.6C429.8 1166.7 435.5 1162.9 435.9 1163.3C436.2 1163.6 430.7 1168.4 430.5 1169.8C430.2 1171.3 434.3 1175.3 433.8 1175.7C433.2 1176 428 1173 425.8 1172.7C423.7 1172.3 417.4 1172.4 415.2 1172.6C412.9 1172.7 408.7 1174.2 406.9 1173.8C405.1 1173.4 401.8 1170.3 399.8 1169.3C397.8 1168.3 392.1 1165.5 389.9 1165.5C387.7 1165.4 381.5 1169.1 381.2 1168.8C380.8 1168.4 386.2 1164 386.6 1162.2C387 1160.4 384 1153.5 384.5 1153.2Z" fill="#f9c76a" stroke="#e2a336" stroke-width="1.2" stroke-linejoin="round"/><ellipse cx="408.5" cy="1166" rx="3.7" ry="2.3" fill="#c8861c" transform="rotate(12 408.5 1166)"/>
<path d="M228.5 1244.4C229.3 1244.7 227.2 1253.4 228.3 1256.2C229.4 1259 235.7 1266.2 237.8 1268.6C239.9 1270.9 245 1274.3 246.2 1276.6C247.4 1278.8 247.3 1285 248.1 1288C249 1291 251.7 1300.2 253.5 1302.6C255.4 1305 264 1308 263.9 1308.7C263.8 1309.3 254.6 1307.3 253 1308.3C251.4 1309.2 251.1 1317 250.4 1316.7C249.6 1316.4 247.8 1308.3 246.2 1305.6C244.7 1302.9 239.1 1296.2 237 1293.9C235 1291.6 229.8 1288.2 228.6 1285.9C227.4 1283.6 227.5 1277.4 226.7 1274.5C225.9 1271.5 223.5 1263 221.7 1260.5C219.8 1258.1 210.9 1254.5 211 1253.8C211 1253 219.8 1255.3 221.9 1254.2C223.9 1253.1 227.8 1244.2 228.5 1244.4Z" fill="#f9c76a" stroke="#e2a336" stroke-width="1.2" stroke-linejoin="round"/><ellipse cx="237.4" cy="1281.2" rx="5.1" ry="2.9" fill="#c8861c" transform="rotate(62 237.4 1281.2)"/>
<path d="M394.1 1268.9C394.6 1268.3 399.3 1275.8 401.7 1276.5C404 1277.2 411.8 1275.3 414.4 1274.8C417 1274.2 421.6 1271.2 423.7 1271.4C425.8 1271.6 429.7 1275.6 432.1 1276.6C434.5 1277.7 441.8 1280.7 444.2 1280.3C446.7 1280 452.9 1273.5 453.3 1273.9C453.7 1274.4 447.9 1282.3 447.7 1284.4C447.5 1286.5 452.5 1291.6 452 1292.2C451.4 1292.8 445.2 1289.5 442.7 1289.4C440.2 1289.3 433.1 1290.6 430.6 1291.2C428.1 1291.8 423.3 1294.7 421.3 1294.5C419.2 1294.3 415.2 1290.4 412.9 1289.3C410.5 1288.3 403.8 1285.4 401.3 1285.7C398.8 1286 392.2 1292.5 391.7 1292C391.2 1291.5 397 1284.2 397.3 1281.6C397.6 1278.9 393.6 1269.5 394.1 1268.9Z" fill="#f9c76a" stroke="#e2a336" stroke-width="1.2" stroke-linejoin="round"/><ellipse cx="422.5" cy="1283" rx="4.2" ry="3.4" fill="#c8861c" transform="rotate(6 422.5 1283)"/>
<path d="M116.9 1290.3C117.5 1290.2 118.2 1297.1 119.7 1298.6C121.2 1300.2 127.6 1302.8 129.7 1303.7C131.8 1304.6 136.3 1305 137.8 1306.1C139.2 1307.2 140.7 1311.6 142.1 1313.4C143.5 1315.2 147.8 1320.5 149.7 1321.5C151.6 1322.5 158.6 1321.4 158.7 1321.9C158.8 1322.4 151.7 1324.4 150.8 1325.7C149.9 1326.9 151.7 1332.5 151 1332.5C150.4 1332.6 147 1327.6 145.2 1326.3C143.4 1325.1 137.7 1322.5 135.6 1321.6C133.6 1320.8 129 1320.3 127.6 1319.2C126.1 1318.1 124.6 1313.7 123.3 1311.9C121.9 1310.2 118 1305.1 116.1 1304.1C114.2 1303.1 106.8 1303.9 106.7 1303.4C106.5 1302.9 113.4 1301.2 114.6 1299.6C115.8 1298.1 116.3 1290.5 116.9 1290.3Z" fill="#f9c76a" stroke="#e2a336" stroke-width="1.2" stroke-linejoin="round"/><ellipse cx="132.7" cy="1312.7" rx="3.7" ry="2.4" fill="#c8861c" transform="rotate(38 132.7 1312.7)"/>
<path d="M299.3 1306.7C299.9 1307.2 296.3 1315.3 296.5 1318.6C296.8 1321.9 300.4 1331.6 301.6 1334.8C302.8 1338 306.2 1343.4 306.7 1346.1C307.2 1348.9 305.7 1355.1 305.8 1358.5C305.8 1361.9 306 1372.3 307 1375.4C308 1378.6 314.3 1384.9 314.1 1385.6C313.9 1386.3 306.8 1380.7 305.3 1381C303.8 1381.4 301.9 1389.3 301.3 1388.7C300.8 1388 301.1 1379.1 300.4 1375.8C299.7 1372.5 296.6 1363.5 295.5 1360.3C294.3 1357.2 290.9 1351.8 290.4 1349C289.9 1346.2 291.3 1339.9 291.3 1336.6C291.3 1333.3 291.2 1323.7 290.2 1320.5C289.2 1317.3 282.8 1310.3 283 1309.5C283.1 1308.8 289.8 1314.4 291.7 1314.1C293.7 1313.8 298.7 1306.1 299.3 1306.7Z" fill="#f9c76a" stroke="#e2a336" stroke-width="1.2" stroke-linejoin="round"/><ellipse cx="298.5" cy="1347.6" rx="5.6" ry="2.4" fill="#c8861c" transform="rotate(80 298.5 1347.6)"/>
</g>

<!-- bcell_right -->
<g>
<ellipse cx="1796.5" cy="739.2" rx="233.9" ry="227.1" fill="#fdeef4"/>
<g clip-path="url(#clipBR)">
<rect x="1550" y="843" width="495" height="132" fill="#f7c8cb"/>
<rect x="1550" y="843" width="495" height="132" fill="url(#striaR)"/>
<ellipse cx="1816.8" cy="907.7" rx="47.5" ry="24.4" fill="#efb0b6" stroke="#e9a3aa" stroke-width="1.2"/>
<ellipse cx="1816.8" cy="907.7" rx="47.5" ry="24.4" fill="url(#striaR)" opacity="0.6"/>
<path d="M1550 844.8H2045" stroke="#de8c96" stroke-width="3.6"/>
</g>
<path d="M1642 815.5L1642 828.5L1650.6 840.8M1646.9 829.4L1653.5 838.8M1638.6 815.5L1638.6 828.5L1630 840.8M1633.7 829.4L1627.1 838.8" fill="none" stroke="#d3a02f" stroke-width="2.4" stroke-linejoin="round"/>
<path d="M1779 815.5L1779 828.5L1787.6 840.8M1783.9 829.4L1790.5 838.8M1775.6 815.5L1775.6 828.5L1767 840.8M1770.7 829.4L1764.1 838.8" fill="none" stroke="#d3a02f" stroke-width="2.4" stroke-linejoin="round"/>
<path d="M1844 815.5L1844 828.5L1852.6 840.8M1848.9 829.4L1855.5 838.8M1840.6 815.5L1840.6 828.5L1832 840.8M1835.7 829.4L1829.1 838.8" fill="none" stroke="#d3a02f" stroke-width="2.4" stroke-linejoin="round"/>
<path d="M1700.7 627L1700.7 608.5L1692.4 597.9M1695.9 607.8L1689.7 600M1704.1 627L1704.1 608.5L1712.4 597.9M1708.9 607.8L1715.1 600" fill="none" stroke="#203f78" stroke-width="2.3" stroke-linejoin="round"/>
<path d="M1700.7 627L1700.7 622M1704.1 627L1704.1 622" fill="none" stroke="#c9d6e3" stroke-width="2.3"/>
<path d="M1682.5 629L1681.6 612" fill="none" stroke="#4f3c8c" stroke-width="1.1"/>
<path d="M1683.1 610.5L1682.6 610.9L1681.9 611.3L1681.3 611.5L1680.6 611.6L1679.9 611.6L1679.2 611.4L1678.6 611.1L1678 610.8L1677.5 610.3L1677 609.8L1676.7 609.1L1676.5 608.5L1676.4 607.8L1676.4 607.1L1676.6 606.4L1676.8 605.8L1677.2 605.2L1677.6 604.7L1678.2 604.2L1678.8 603.9L1679.5 603.7L1680.2 603.6L1680.9 603.6L1681.5 603.8L1682.2 604L1682.8 604.4" fill="none" stroke="#4f3c8c" stroke-width="2.1" stroke-linecap="round"/>
<path d="M1682.6 601L1682.1 601.4L1681.4 601.8L1680.8 602L1680.1 602.1L1679.4 602.1L1678.7 601.9L1678.1 601.7L1677.5 601.3L1677 600.8L1676.5 600.3L1676.2 599.7L1676 599L1675.9 598.3L1675.9 597.6L1676.1 596.9L1676.3 596.3L1676.7 595.7L1677.2 595.2L1677.7 594.7L1678.3 594.4L1679 594.2L1679.7 594.1L1680.4 594.1L1681 594.3L1681.7 594.5L1682.3 594.9" fill="none" stroke="#4f3c8c" stroke-width="2.1" stroke-linecap="round"/>
<path d="M1842.1 578.5L1853 563.5L1852.5 550M1849.5 560.2L1849.1 550.2M1844.9 580.5L1855.7 565.5L1868.7 561.8M1860.1 567.8L1869.7 565.1" fill="none" stroke="#203f78" stroke-width="2.3" stroke-linejoin="round"/>
<path d="M1842.1 578.5L1845.1 574.5M1844.9 580.5L1847.8 576.5" fill="none" stroke="#c9d6e3" stroke-width="2.3"/>
<path d="M1826 570L1836.5 556.6" fill="none" stroke="#4f3c8c" stroke-width="1.1"/>
<path d="M1838.6 556.4L1837.9 556.4L1837.2 556.2L1836.6 556L1836 555.6L1835.5 555.1L1835.1 554.6L1834.7 553.9L1834.5 553.3L1834.5 552.6L1834.5 551.9L1834.6 551.2L1834.9 550.6L1835.3 550L1835.8 549.5L1836.3 549L1837 548.7L1837.6 548.5L1838.3 548.4L1839 548.5L1839.7 548.6L1840.3 548.9L1840.9 549.3L1841.4 549.8L1841.8 550.3L1842.2 550.9L1842.4 551.6" fill="none" stroke="#4f3c8c" stroke-width="2.1" stroke-linecap="round"/>
<path d="M1844.4 549L1843.7 548.9L1843.1 548.8L1842.4 548.5L1841.8 548.1L1841.3 547.6L1840.9 547.1L1840.6 546.5L1840.4 545.8L1840.3 545.1L1840.3 544.4L1840.5 543.7L1840.8 543.1L1841.1 542.5L1841.6 542L1842.2 541.6L1842.8 541.2L1843.5 541L1844.2 541L1844.9 541L1845.5 541.2L1846.2 541.4L1846.8 541.8L1847.3 542.3L1847.7 542.8L1848 543.5L1848.2 544.1" fill="none" stroke="#4f3c8c" stroke-width="2.1" stroke-linecap="round"/>
<path d="M1857.4 726L1846.5 741L1847 754.5M1850 744.3L1850.4 754.3M1854.6 724L1843.8 739L1830.8 742.7M1839.4 736.7L1829.8 739.4" fill="none" stroke="#203f78" stroke-width="2.3" stroke-linejoin="round"/>
<path d="M1857.4 726L1854.4 730M1854.6 724L1851.7 728" fill="none" stroke="#c9d6e3" stroke-width="2.3"/>
<path d="M1874 735.5L1863.5 748.9" fill="none" stroke="#4f3c8c" stroke-width="1.1"/>
<path d="M1861.4 749.1L1862.1 749.1L1862.8 749.3L1863.4 749.5L1864 749.9L1864.5 750.4L1864.9 750.9L1865.3 751.6L1865.5 752.2L1865.5 752.9L1865.5 753.6L1865.4 754.3L1865.1 754.9L1864.7 755.5L1864.2 756L1863.7 756.5L1863 756.8L1862.4 757L1861.7 757.1L1861 757L1860.3 756.9L1859.7 756.6L1859.1 756.2L1858.6 755.7L1858.2 755.2L1857.8 754.6L1857.6 753.9" fill="none" stroke="#4f3c8c" stroke-width="2.1" stroke-linecap="round"/>
<path d="M1855.6 756.5L1856.3 756.6L1856.9 756.7L1857.6 757L1858.2 757.4L1858.7 757.9L1859.1 758.4L1859.4 759L1859.6 759.7L1859.7 760.4L1859.7 761.1L1859.5 761.8L1859.2 762.4L1858.9 763L1858.4 763.5L1857.8 763.9L1857.2 764.3L1856.5 764.5L1855.8 764.5L1855.1 764.5L1854.5 764.3L1853.8 764.1L1853.2 763.7L1852.7 763.2L1852.3 762.7L1852 762L1851.8 761.4" fill="none" stroke="#4f3c8c" stroke-width="2.1" stroke-linecap="round"/>
<circle cx="1702.6" cy="684.3" r="58.3" fill="#9fcfdb" stroke="#7d9fb8" stroke-width="1.1"/>
<circle cx="1699.3" cy="676.5" r="35.6" fill="#7aadc0" stroke="#6b92a9" stroke-width="1.1"/>
<circle cx="1805" cy="625.7" r="59.3" fill="#9fcfdb" stroke="#7d9fb8" stroke-width="1.1"/>
<circle cx="1807.7" cy="616.6" r="35" fill="#7aadc0" stroke="#6b92a9" stroke-width="1.1"/>
<circle cx="1894.8" cy="685" r="56" fill="#9fcfdb" stroke="#7d9fb8" stroke-width="1.1"/>
<circle cx="1892.4" cy="690.8" r="34" fill="#7aadc0" stroke="#6b92a9" stroke-width="1.1"/>
<ellipse cx="1796.5" cy="739.2" rx="233.9" ry="227.1" fill="none" stroke="#111" stroke-width="4.6"/>
</g>

<!-- fibrosis_right -->
<g>
<ellipse cx="1784.5" cy="1224.8" rx="246.6" ry="240.6" fill="#fff" stroke="#111" stroke-width="4.6"/>
<path d="M1749.2 1016.6C1767.5 1015.4 1791.2 1015.7 1811.3 1018.4C1831.4 1021.2 1852.7 1027 1869.8 1033C1886.8 1039.1 1900.8 1042.8 1913.6 1055C1926.4 1067.1 1937.9 1089 1946.5 1106.1C1955 1123.1 1958.6 1142.6 1964.7 1157.2C1970.8 1171.8 1979.6 1180.4 1983 1193.7C1986.3 1207.1 1986 1221.7 1984.8 1237.6C1983.6 1253.4 1979 1272.3 1975.7 1288.7C1972.3 1305.1 1970.8 1323.4 1964.7 1336.2C1958.6 1349 1952.5 1358.7 1939.2 1365.4C1925.8 1372.1 1900.8 1371.5 1884.4 1376.4C1867.9 1381.2 1852.7 1387.3 1840.5 1394.6C1828.4 1401.9 1825.3 1414.4 1811.3 1420.2C1797.3 1426 1771.8 1427.5 1756.5 1429.3C1741.3 1431.1 1732.2 1436.3 1720 1431.1C1707.8 1426 1693.8 1411.1 1683.5 1398.3C1673.1 1385.5 1667.1 1366 1657.9 1354.4C1648.8 1342.9 1639.7 1336.2 1628.7 1328.9C1617.8 1321.6 1600.1 1320.4 1592.2 1310.6C1584.3 1300.9 1581.8 1285.1 1581.2 1270.4C1580.6 1255.8 1584.9 1238.2 1588.5 1223C1592.2 1207.7 1599.5 1195.6 1603.1 1179.1C1606.8 1162.7 1608.6 1142.6 1610.4 1124.4C1612.3 1106.1 1608 1083 1614.1 1069.6C1620.2 1056.2 1632.4 1051.3 1647 1044C1661.6 1036.7 1684.7 1030.3 1701.8 1025.7C1718.8 1021.2 1731 1017.8 1749.2 1016.6Z" fill="#d4eef6" stroke="#a9d9ea" stroke-width="1.3"/>
<path d="M1743.9 1033.1C1743.6 1034 1743 1036.8 1742.1 1038.4C1741.2 1040 1739.8 1041.2 1738.6 1042.6C1737.4 1043.9 1735.5 1045.9 1734.8 1046.6M1743.6 1033.4C1744.3 1033.5 1746.4 1033.9 1747.7 1034.1C1749.1 1034.3 1750.6 1034.2 1751.8 1034.8C1753.1 1035.3 1754.7 1036.9 1755.3 1037.3M1743.7 1033C1743.5 1033.7 1743.2 1035.8 1742.6 1036.9C1741.9 1038.1 1740.7 1038.8 1739.8 1039.7C1739 1040.7 1737.8 1042.3 1737.4 1042.8M1873.4 1047.6C1874 1047.8 1876 1048.5 1877.2 1048.4C1878.4 1048.4 1879.5 1048 1880.6 1047.5C1881.7 1047 1883.4 1045.8 1883.9 1045.5M1873.3 1047.6C1872.7 1047.7 1870.6 1047.9 1869.6 1048.6C1868.7 1049.4 1868.5 1051.2 1867.7 1052.1C1866.9 1053 1865.1 1053.7 1864.6 1054.1M1873.4 1047.3C1872.6 1047.5 1870.2 1048.2 1868.6 1048.5C1867 1048.8 1865.4 1049.2 1863.8 1049C1862.2 1048.8 1859.9 1047.6 1859.1 1047.3M1610.6 1164.2C1611.2 1164.4 1613.2 1164.3 1614.2 1165C1615.1 1165.7 1615.2 1167.7 1616.1 1168.5C1616.9 1169.4 1618.7 1169.7 1619.2 1169.9M1610.5 1164.7C1609.9 1164.8 1607.8 1164.7 1606.6 1165C1605.4 1165.4 1604.4 1165.9 1603.4 1166.6C1602.4 1167.4 1601.3 1169 1600.9 1169.5M1610.8 1164.4C1610.8 1163.5 1611 1160.5 1610.4 1158.7C1609.7 1157 1607.5 1155.6 1606.8 1153.8C1606 1152.1 1606 1149.2 1605.8 1148.3M1747.4 1149.9C1747.9 1149.3 1749.4 1147.1 1750.6 1146.2C1751.9 1145.3 1753.4 1144.9 1754.9 1144.3C1756.4 1143.8 1758.8 1143.3 1759.6 1143M1747.6 1150.3C1747.2 1150.6 1745.9 1151.9 1744.8 1152.3C1743.7 1152.8 1742.1 1152.5 1741 1153C1740 1153.6 1738.9 1155.2 1738.5 1155.6M1747.6 1149.9C1747.9 1149.2 1749.1 1146.9 1749.3 1145.3C1749.4 1143.7 1748.5 1142 1748.4 1140.4C1748.4 1138.8 1748.7 1136.4 1748.8 1135.6M1847.8 1168.1C1848.7 1168.4 1851.2 1169.3 1852.9 1169.7C1854.6 1170 1856.3 1170.4 1858 1170.2C1859.7 1170.1 1862.3 1169.1 1863.2 1168.9M1847.7 1168.2C1847.8 1169 1848.5 1171.6 1848.5 1173.2C1848.5 1174.8 1848.2 1176.4 1847.7 1178C1847.1 1179.5 1845.6 1181.7 1845.2 1182.5M1847.4 1168.3C1847.2 1167.7 1846.4 1166.1 1846.3 1164.8C1846.1 1163.5 1846.8 1162 1846.5 1160.8C1846.1 1159.6 1844.6 1158.1 1844.2 1157.6M1712.8 1215.8C1713.7 1215.3 1716.6 1214.4 1718 1213.1C1719.5 1211.7 1720 1209.4 1721.3 1207.9C1722.6 1206.4 1725 1204.9 1725.7 1204.3M1713 1215.4C1712.3 1215 1710.3 1214 1709 1213.2C1707.8 1212.4 1706.3 1211.9 1705.3 1210.8C1704.3 1209.8 1703.3 1207.6 1702.9 1206.9M1713.1 1215.8C1712.8 1216.8 1712.4 1219.8 1711.3 1221.4C1710.2 1223.1 1707.6 1224.1 1706.6 1225.8C1705.6 1227.5 1705.5 1230.6 1705.2 1231.6M1862.3 1251.8C1863 1251.7 1864.9 1251.5 1866.2 1251.4C1867.5 1251.4 1868.9 1251.7 1870.1 1251.3C1871.3 1251 1872.9 1249.7 1873.4 1249.3M1862.9 1252.2C1862.8 1251.5 1862.9 1249.4 1862.6 1248C1862.3 1246.5 1861.2 1245.1 1861.2 1243.7C1861.2 1242.3 1862.3 1240.2 1862.6 1239.5M1862.5 1252.2C1863.3 1251.7 1865.9 1250.6 1867.1 1249.3C1868.4 1248.1 1869.1 1246.4 1870.1 1244.9C1871 1243.4 1872.4 1241.1 1872.9 1240.3M1785.4 1316.1C1785.6 1316.8 1785.9 1319 1786.2 1320.5C1786.6 1321.9 1787.5 1323.3 1787.5 1324.8C1787.4 1326.2 1786.2 1328.5 1786 1329.2M1785.4 1315.9C1785 1316.5 1783.5 1318 1783.1 1319.3C1782.8 1320.7 1783.6 1322.6 1783.2 1323.9C1782.8 1325.2 1781.2 1326.7 1780.8 1327.2M1785.8 1316.1C1786.2 1317 1787.1 1320 1788.2 1321.5C1789.4 1323 1791.3 1323.8 1792.8 1325.1C1794.2 1326.4 1796.2 1328.5 1796.8 1329.2M1665.1 1350.8C1665 1350 1664.4 1347.5 1664.5 1345.9C1664.7 1344.4 1665.3 1342.9 1665.9 1341.4C1666.5 1340 1667.7 1337.8 1668 1337.1M1665.6 1350.7C1665.4 1349.8 1664.9 1346.8 1664.2 1344.9C1663.6 1343 1662 1341.3 1661.7 1339.3C1661.3 1337.4 1662.2 1334.2 1662.3 1333.2M1665.4 1350.5C1664.8 1350.4 1663.1 1350.1 1661.9 1349.7C1660.8 1349.4 1659.6 1349.3 1658.7 1348.6C1657.8 1348 1656.8 1346.4 1656.4 1346M1960.8 1164.2C1960.2 1164.6 1958 1165.7 1956.9 1166.9C1955.8 1168 1955.4 1170.1 1954.2 1171.2C1953.1 1172.3 1950.7 1173 1950 1173.4M1961.5 1164.4C1961.5 1165 1961.8 1166.8 1961.8 1168C1961.8 1169.3 1961.2 1170.6 1961.5 1171.8C1961.8 1172.9 1963.2 1174.4 1963.6 1175M1960.9 1164.4C1961.5 1164 1963.5 1163.1 1964.6 1162.2C1965.6 1161.3 1966.5 1160.4 1967.2 1159.2C1967.8 1158 1968.3 1155.8 1968.5 1155.1M1957.4 1329C1957.9 1329.5 1959.2 1331.4 1960.3 1332.2C1961.4 1333.1 1962.7 1333.7 1964 1334.2C1965.4 1334.6 1967.6 1334.9 1968.3 1335M1957.2 1328.7C1957.7 1328 1958.8 1325.7 1959.8 1324.5C1960.9 1323.3 1962.3 1322.4 1963.6 1321.4C1964.8 1320.4 1966.8 1318.9 1967.4 1318.4M1957.5 1329.1C1956.8 1329.6 1954.7 1331.1 1953.2 1331.6C1951.6 1332.2 1949.9 1332.1 1948.2 1332.4C1946.6 1332.7 1944.2 1333.3 1943.4 1333.5M1588.5 1215.6C1587.9 1215.8 1585.9 1216.2 1585 1216.9C1584.2 1217.7 1583.8 1218.9 1583.2 1219.9C1582.6 1220.9 1581.8 1222.5 1581.5 1223.1M1588.3 1215.4C1589 1214.7 1590.8 1212.5 1592.3 1211.3C1593.7 1210.1 1595.4 1209.2 1597 1208.2C1598.6 1207.2 1601.2 1206 1602.1 1205.6M1588.7 1215.6C1588.7 1216.2 1588.3 1218.1 1588.2 1219.3C1588.2 1220.5 1588.3 1221.7 1588.5 1222.9C1588.7 1224 1589.4 1225.7 1589.6 1226.3" fill="none" stroke="#3f8fb4" stroke-width="1.1"/>
<path d="M1617.8 1084.2C1619.3 1075.7 1620.8 1062.6 1628.7 1055C1636.6 1047.4 1651.2 1041.9 1665.2 1038.5C1679.2 1035.2 1700.8 1033.4 1712.7 1034.9C1724.6 1036.4 1731.6 1040 1736.4 1047.7C1741.3 1055.3 1740.7 1069 1741.9 1080.5C1743.1 1092.1 1745.6 1108.2 1743.8 1117C1741.9 1125.9 1741 1131.4 1731 1133.5C1720.9 1135.6 1698.7 1132.6 1683.5 1129.8C1668.3 1127.1 1650.3 1121 1639.7 1117C1629 1113.1 1623.2 1111.6 1619.6 1106.1C1615.9 1100.6 1616.2 1092.7 1617.8 1084.2Z" fill="#e3a8a6" stroke="#d28b8b" stroke-width="1.1"/><ellipse cx="1680.9" cy="1086" rx="16.4" ry="13.9" fill="#c26e72"/>
<path d="M1751.1 1040.4C1755 1033.4 1763.5 1027.3 1774.8 1023.9C1786.1 1020.6 1804.6 1017.8 1818.6 1020.3C1832.6 1022.7 1850.3 1031.8 1858.8 1038.5C1867.3 1045.2 1870.4 1054 1869.8 1060.4C1869.2 1066.8 1864.9 1072 1855.1 1076.9C1845.4 1081.7 1825.9 1086 1811.3 1089.7C1796.7 1093.3 1776.9 1099.1 1767.5 1098.8C1758.1 1098.5 1757.5 1093.3 1754.7 1087.8C1752 1082.4 1751.7 1073.8 1751.1 1065.9C1750.5 1058 1747.1 1047.4 1751.1 1040.4Z" fill="#e3a8a6" stroke="#d28b8b" stroke-width="1.1"/><ellipse cx="1799.6" cy="1057.9" rx="12.1" ry="10.2" fill="#c26e72"/>
<path d="M1878.9 1055C1881.9 1045.5 1890.8 1046.4 1899 1049.5C1907.2 1052.5 1919.1 1062.6 1928.2 1073.2C1937.3 1083.9 1948 1100.6 1953.8 1113.4C1959.5 1126.2 1962.9 1142.3 1962.9 1149.9C1962.9 1157.5 1960.8 1158.7 1953.8 1159.1C1946.8 1159.4 1931.8 1155.1 1920.9 1151.7C1909.9 1148.4 1894.7 1146.6 1888 1139C1881.3 1131.4 1882.2 1120.1 1880.7 1106.1C1879.2 1092.1 1875.8 1064.4 1878.9 1055Z" fill="#e3a8a6" stroke="#d28b8b" stroke-width="1.1"/><ellipse cx="1922" cy="1113.4" rx="12.1" ry="11" fill="#c26e72"/>
<path d="M1756.5 1106.1C1766.3 1101.5 1793.4 1098.2 1811.3 1093.3C1829.3 1088.4 1853.3 1074.7 1864.3 1076.9C1875.2 1079 1876.2 1095.1 1877.1 1106.1C1878 1117 1875.8 1132.3 1869.8 1142.6C1863.7 1153 1851.5 1162.7 1840.5 1168.2C1829.6 1173.7 1815.6 1176.1 1804 1175.5C1792.5 1174.9 1779.4 1170 1771.1 1164.5C1762.9 1159.1 1757.8 1149.9 1754.7 1142.6C1751.7 1135.3 1752.6 1126.8 1752.9 1120.7C1753.2 1114.6 1746.8 1110.7 1756.5 1106.1Z" fill="#e3a8a6" stroke="#d28b8b" stroke-width="1.1"/><ellipse cx="1812.4" cy="1124.4" rx="13.9" ry="11" fill="#c26e72"/>
<path d="M1615.9 1120.7C1620.8 1116.1 1633.9 1120.1 1647 1122.5C1660.1 1125 1679.2 1133.2 1694.4 1135.3C1709.7 1137.4 1730.1 1132.9 1738.3 1135.3C1746.5 1137.7 1745 1142.6 1743.8 1149.9C1742.5 1157.2 1735.5 1170.6 1731 1179.1C1726.4 1187.7 1722.4 1195.9 1716.4 1201.1C1710.3 1206.2 1704.2 1210.8 1694.4 1210.2C1684.7 1209.6 1669.5 1202.6 1657.9 1197.4C1646.4 1192.2 1631.8 1187.1 1625.1 1179.1C1618.4 1171.2 1619.3 1159.7 1617.8 1149.9C1616.2 1140.2 1611.1 1125.3 1615.9 1120.7Z" fill="#e3a8a6" stroke="#d28b8b" stroke-width="1.1"/><ellipse cx="1666.3" cy="1162.7" rx="13.1" ry="11.7" fill="#c26e72"/>
<path d="M1829.6 1179.1C1833.8 1170.9 1850.3 1163.3 1862.5 1159.1C1874.6 1154.8 1888 1152.7 1902.6 1153.6C1917.2 1154.5 1938.5 1159.1 1950.1 1164.5C1961.7 1170 1967.5 1179.1 1972 1186.4C1976.6 1193.7 1983 1204.7 1977.5 1208.4C1972 1212 1952.2 1207.1 1939.2 1208.4C1926.1 1209.6 1911.8 1211.7 1899 1215.7C1886.2 1219.6 1872.8 1233.3 1862.5 1232.1C1852.1 1230.9 1842.4 1217.2 1836.9 1208.4C1831.4 1199.5 1825.3 1187.4 1829.6 1179.1Z" fill="#e3a8a6" stroke="#d28b8b" stroke-width="1.1"/><ellipse cx="1892.4" cy="1182.1" rx="13.9" ry="11" fill="#c26e72"/>
<path d="M1723.7 1197.4C1727 1187.1 1735.8 1179.1 1743.8 1175.5C1751.7 1171.8 1761.1 1171.8 1771.1 1175.5C1781.2 1179.1 1793.7 1188.9 1804 1197.4C1814.4 1205.9 1824.7 1216.9 1833.2 1226.6C1841.8 1236.4 1852.1 1247.3 1855.1 1255.8C1858.2 1264.4 1856.4 1271.1 1851.5 1277.8C1846.6 1284.4 1835.7 1290.5 1825.9 1296C1816.2 1301.5 1804 1309.4 1793.1 1310.6C1782.1 1311.8 1769.9 1309.4 1760.2 1303.3C1750.5 1297.2 1740.7 1285.1 1734.6 1274.1C1728.5 1263.1 1725.5 1250.4 1723.7 1237.6C1721.8 1224.8 1720.3 1207.7 1723.7 1197.4Z" fill="#e3a8a6" stroke="#d28b8b" stroke-width="1.1"/><ellipse cx="1788.7" cy="1267.9" rx="15.3" ry="14.6" fill="#c26e72"/>
<path d="M1608.6 1215.7C1610.4 1212 1613.2 1205.3 1621.4 1204.7C1629.6 1204.1 1645.8 1207.7 1657.9 1212C1670.1 1216.3 1685 1224.2 1694.4 1230.3C1703.9 1236.4 1713.3 1242.4 1714.5 1248.5C1715.8 1254.6 1707.5 1261.3 1701.8 1266.8C1696 1272.3 1686.5 1280.2 1679.8 1281.4C1673.1 1282.6 1668.9 1280.2 1661.6 1274.1C1654.3 1268 1644.5 1252.8 1636 1244.9C1627.5 1237 1615 1231.5 1610.4 1226.6C1605.9 1221.7 1606.8 1219.3 1608.6 1215.7Z" fill="#e3a8a6" stroke="#d28b8b" stroke-width="1.1"/><ellipse cx="1668.9" cy="1243.1" rx="9.5" ry="9.5" fill="#c26e72"/>
<path d="M1864.3 1241.2C1869.5 1235.7 1885.9 1227.8 1899 1223C1912.1 1218.1 1930.6 1213.2 1942.8 1212C1955 1210.8 1966.2 1210.2 1972 1215.7C1977.8 1221.1 1977.8 1234.5 1977.5 1244.9C1977.2 1255.2 1977.2 1271.7 1970.2 1277.8C1963.2 1283.8 1948.6 1282.6 1935.5 1281.4C1922.4 1280.2 1902.9 1274.7 1891.7 1270.4C1880.4 1266.2 1872.5 1260.7 1867.9 1255.8C1863.4 1251 1859.1 1246.7 1864.3 1241.2Z" fill="#e3a8a6" stroke="#d28b8b" stroke-width="1.1"/><ellipse cx="1934.8" cy="1243.1" rx="14.6" ry="13.9" fill="#c26e72"/>
<path d="M1588.5 1252.2C1590.7 1244.3 1594 1228.4 1599.5 1226.6C1605 1224.8 1613.5 1234.5 1621.4 1241.2C1629.3 1247.9 1640 1259.5 1647 1266.8C1654 1274.1 1663.4 1278.4 1663.4 1285.1C1663.4 1291.8 1655.2 1302.4 1647 1307C1638.8 1311.5 1623.2 1313.7 1614.1 1312.4C1605 1311.2 1596.7 1306.1 1592.2 1299.7C1587.6 1293.3 1587.3 1282 1586.7 1274.1C1586.1 1266.2 1586.4 1260.1 1588.5 1252.2Z" fill="#e3a8a6" stroke="#d28b8b" stroke-width="1.1"/><ellipse cx="1617" cy="1286.2" rx="10.2" ry="9.1" fill="#c26e72"/>
<path d="M1630.5 1319.8C1634.2 1311.8 1650.9 1296.3 1661.6 1288.7C1672.2 1281.1 1685.3 1278.4 1694.4 1274.1C1703.6 1269.8 1710.6 1261.9 1716.4 1263.1C1722.1 1264.4 1727.3 1274.7 1729.1 1281.4C1731 1288.1 1731.9 1296.6 1727.3 1303.3C1722.8 1310 1712.1 1315.2 1701.8 1321.6C1691.4 1328 1675.6 1339.2 1665.2 1341.7C1654.9 1344.1 1645.4 1339.8 1639.7 1336.2C1633.9 1332.5 1626.9 1327.7 1630.5 1319.8Z" fill="#e3a8a6" stroke="#d28b8b" stroke-width="1.1"/><ellipse cx="1692.6" cy="1297.8" rx="10.2" ry="9.5" fill="#c26e72"/>
<path d="M1858.8 1281.4C1861.8 1275.3 1885 1279.6 1899 1281.4C1913 1283.2 1932.5 1288.7 1942.8 1292.4C1953.2 1296 1958.6 1296.6 1961.1 1303.3C1963.5 1310 1960.5 1323.4 1957.4 1332.5C1954.4 1341.7 1949.5 1351.4 1942.8 1358.1C1936.1 1364.8 1924.5 1373.3 1917.2 1372.7C1909.9 1372.1 1905.1 1363.6 1899 1354.4C1892.9 1345.3 1887.4 1330.1 1880.7 1317.9C1874 1305.8 1855.8 1287.5 1858.8 1281.4Z" fill="#e3a8a6" stroke="#d28b8b" stroke-width="1.1"/><ellipse cx="1922.7" cy="1334.4" rx="12.8" ry="11.7" fill="#c26e72"/>
<path d="M1802.2 1321.6C1806.1 1314.9 1817.1 1305.8 1825.9 1299.7C1834.8 1293.6 1846.6 1282.6 1855.1 1285.1C1863.7 1287.5 1870.4 1302.7 1877.1 1314.3C1883.8 1325.8 1891.7 1344.7 1895.3 1354.4C1899 1364.2 1904.5 1366.9 1899 1372.7C1893.5 1378.5 1874.6 1386.1 1862.5 1389.1C1850.3 1392.2 1834.5 1395.5 1825.9 1391C1817.4 1386.4 1815.3 1370.3 1811.3 1361.8C1807.4 1353.2 1803.7 1346.5 1802.2 1339.8C1800.7 1333.1 1798.2 1328.3 1802.2 1321.6Z" fill="#e3a8a6" stroke="#d28b8b" stroke-width="1.1"/><ellipse cx="1844.9" cy="1346.4" rx="13.9" ry="13.1" fill="#c26e72"/>
<path d="M1670.7 1361.8C1673.1 1355.1 1679.5 1346.5 1687.1 1339.8C1694.8 1333.1 1708.4 1328 1716.4 1321.6C1724.3 1315.2 1727.3 1303.3 1734.6 1301.5C1741.9 1299.7 1751.1 1307.3 1760.2 1310.6C1769.3 1314 1783.3 1314.9 1789.4 1321.6C1795.5 1328.3 1793.4 1339.2 1796.7 1350.8C1800.1 1362.4 1807.1 1380.6 1809.5 1391C1811.9 1401.3 1817.7 1407.4 1811.3 1412.9C1804.9 1418.4 1786.4 1421.7 1771.1 1423.8C1755.9 1426 1733.4 1429.9 1720 1425.7C1706.6 1421.4 1698.7 1405.9 1690.8 1398.3C1682.9 1390.7 1675.9 1386.1 1672.5 1380C1669.2 1373.9 1668.3 1368.4 1670.7 1361.8Z" fill="#e3a8a6" stroke="#d28b8b" stroke-width="1.1"/><ellipse cx="1741.2" cy="1374.5" rx="17.5" ry="16.4" fill="#c26e72"/>
<circle cx="1614.1" cy="1193" r="7.8" fill="#e79aa6" stroke="#c0334f" stroke-width="2.2"/>
<circle cx="1709.1" cy="1221.5" r="8.5" fill="#e79aa6" stroke="#c0334f" stroke-width="2.2"/>
<circle cx="1877.8" cy="1139.7" r="7.8" fill="#e79aa6" stroke="#c0334f" stroke-width="2.2"/>
<circle cx="1867.9" cy="1267.9" r="7.8" fill="#e79aa6" stroke="#c0334f" stroke-width="2.2"/>
<circle cx="1828.5" cy="1395.4" r="7.8" fill="#e79aa6" stroke="#c0334f" stroke-width="2.2"/>
<path d="M1742.8 1055.9C1743.3 1055.9 1745 1066.7 1745.6 1070C1746.3 1073.2 1748.4 1080.7 1748.5 1084C1748.6 1087.3 1747.1 1094.9 1746.6 1098.2C1746.2 1101.6 1745.3 1112.4 1744.7 1112.5C1744.2 1112.5 1742.5 1101.7 1741.9 1098.4C1741.2 1095.1 1739.1 1087.6 1739 1084.3C1738.9 1081 1740.4 1073.4 1740.9 1070.1C1741.3 1066.8 1742.2 1055.9 1742.8 1055.9Z" fill="#f9c76a" stroke="#e2a336" stroke-width="1.2" stroke-linejoin="round"/><ellipse cx="1743.8" cy="1084.2" rx="4" ry="1.3" fill="#c8861c" transform="rotate(88 1743.8 1084.2)"/>
<path d="M1722.2 1194.2C1721.8 1193.7 1729.2 1186.1 1731.3 1183.6C1733.4 1181.1 1737.9 1175 1740.4 1173C1742.9 1171 1749.9 1168.2 1752.9 1166.7C1755.8 1165.3 1764.9 1159.9 1765.3 1160.4C1765.7 1161 1758.4 1168.6 1756.2 1171C1754.1 1173.5 1749.6 1179.7 1747.1 1181.6C1744.6 1183.6 1737.6 1186.4 1734.6 1187.9C1731.7 1189.4 1722.6 1194.7 1722.2 1194.2Z" fill="#f9c76a" stroke="#e2a336" stroke-width="1.2" stroke-linejoin="round"/><ellipse cx="1743.8" cy="1177.3" rx="3.8" ry="1.5" fill="#c8861c" transform="rotate(-38 1743.8 1177.3)"/>
<path d="M1631.7 1200.8C1631.7 1200.3 1640.5 1200.5 1643.3 1200.4C1646 1200.3 1652.2 1199.6 1654.8 1200C1657.5 1200.4 1663.3 1202.7 1665.9 1203.6C1668.4 1204.4 1676.9 1206.7 1676.9 1207.2C1676.8 1207.6 1668 1207.5 1665.3 1207.6C1662.6 1207.6 1656.4 1208.3 1653.7 1208C1651.1 1207.6 1645.3 1205.2 1642.7 1204.4C1640.1 1203.5 1631.6 1201.3 1631.7 1200.8Z" fill="#f9c76a" stroke="#e2a336" stroke-width="1.2" stroke-linejoin="round"/><ellipse cx="1654.3" cy="1204" rx="3.2" ry="1.2" fill="#c8861c" transform="rotate(8 1654.3 1204)"/>
<path d="M1803 1183.6C1803.4 1183.2 1811.1 1188.9 1813.5 1190.5C1816 1192.1 1822 1195.4 1824.1 1197.4C1826.1 1199.5 1829.4 1205.5 1831 1208C1832.6 1210.4 1838.3 1218.1 1837.9 1218.5C1837.5 1218.9 1829.8 1213.2 1827.4 1211.6C1824.9 1210 1818.9 1206.7 1816.8 1204.7C1814.8 1202.6 1811.5 1196.6 1809.9 1194.1C1808.3 1191.7 1802.6 1184 1803 1183.6Z" fill="#f9c76a" stroke="#e2a336" stroke-width="1.2" stroke-linejoin="round"/><ellipse cx="1820.5" cy="1201.1" rx="3.5" ry="1.4" fill="#c8861c" transform="rotate(45 1820.5 1201.1)"/>
<path d="M1720.1 1249.9C1720.6 1249.5 1728 1258.1 1730.4 1260.6C1732.8 1263 1738.8 1268.4 1740.7 1271.2C1742.6 1274.1 1745.3 1281.6 1746.7 1284.8C1748.2 1287.9 1753.3 1298 1752.8 1298.3C1752.3 1298.7 1744.9 1290.1 1742.5 1287.6C1740.1 1285.1 1734.1 1279.8 1732.2 1277C1730.3 1274.1 1727.6 1266.6 1726.2 1263.4C1724.7 1260.3 1719.6 1250.2 1720.1 1249.9Z" fill="#f9c76a" stroke="#e2a336" stroke-width="1.2" stroke-linejoin="round"/><ellipse cx="1736.4" cy="1274.1" rx="4.1" ry="1.4" fill="#c8861c" transform="rotate(56 1736.4 1274.1)"/>
<path d="M1913 1282.7C1913.1 1282.1 1924.7 1282.2 1928.3 1282.1C1931.8 1281.9 1940.1 1281 1943.6 1281.5C1947 1281.9 1954.7 1285.1 1958.1 1286.3C1961.5 1287.4 1972.7 1290.4 1972.6 1291.1C1972.6 1291.7 1960.9 1291.5 1957.3 1291.7C1953.8 1291.8 1945.5 1292.8 1942 1292.3C1938.6 1291.8 1930.9 1288.6 1927.5 1287.5C1924.1 1286.4 1912.9 1283.3 1913 1282.7Z" fill="#f9c76a" stroke="#e2a336" stroke-width="1.2" stroke-linejoin="round"/><ellipse cx="1942.8" cy="1286.9" rx="4.2" ry="1.5" fill="#c8861c" transform="rotate(8 1942.8 1286.9)"/>
<path d="M1799.6 1319.5C1800 1319.4 1803.5 1330.5 1804.7 1333.8C1805.9 1337.2 1809 1344.7 1809.8 1348.1C1810.5 1351.6 1810.7 1359.8 1810.9 1363.3C1811.2 1366.8 1812.6 1378.3 1812.1 1378.4C1811.6 1378.5 1808.2 1367.5 1807 1364.1C1805.8 1360.8 1802.6 1353.2 1801.9 1349.8C1801.2 1346.4 1801 1338.2 1800.7 1334.7C1800.5 1331.1 1799.1 1319.6 1799.6 1319.5Z" fill="#f9c76a" stroke="#e2a336" stroke-width="1.2" stroke-linejoin="round"/><ellipse cx="1805.8" cy="1349" rx="4.2" ry="1.2" fill="#c8861c" transform="rotate(78 1805.8 1349)"/>
</g>

<!-- mouse -->
<g transform="translate(660 1080) scale(0.21697)">
<path d="M375 328H1895V712M375 328V712M78 432L375 328M1660 432L1895 328" fill="none" stroke="#a0a0a0" stroke-width="3"/>
<path d="M340 712L1890 712L1890 742L340 742Z" fill="#4a4a49"/>
<path d="M700 716L1640 716L1640 742L700 742Z" fill="#b0adac"/>
<path d="M890 700L1380 700L1380 716L890 716Z" fill="#4a4a49"/>
<path d="M1640 716L1890 716L1890 880L1745 880L1745 742L1640 742Z" fill="#6a6968"/>
<path d="M1830 742L1890 720L1890 880L1830 880Z" fill="#555453"/>
<path d="M105 832L340 738L612 742L428 832Z" fill="#d6d8d8" stroke="#bfc1c1" stroke-width="2" stroke-linejoin="round"/>
<path d="M428 834L612 742H1772Q1822 760 1820 800Q1812 850 1745 866V836Z" fill="#f4c87e" stroke="#e6b866" stroke-width="2"/>
<path d="M58 838L1745 838L1745 1005L58 1005Z" fill="#6a6968" stroke="#4a4a49" stroke-width="3" stroke-linejoin="round"/>
<path d="M58 838L1745 838L1745 852L58 852Z" fill="#4a4a49"/>
<path d="M550 852L1480 852L1480 1000L550 1000Z" fill="#b0adac"/>
<path d="M1100 1005L1380 1005L1380 1255L1100 1420Z" fill="#605f5e" stroke="#4a4a49" stroke-width="4" stroke-linejoin="round"/>
<path d="M1100 1250L1380 1250L1100 1418Z" fill="#757473" stroke="#4a4a49" stroke-width="4" stroke-linejoin="round"/>
<path d="M605 862L1100 862L1100 1420L605 1420Z" fill="#6a6968" stroke="#4a4a49" stroke-width="5" stroke-linejoin="round"/>
<circle cx="695" cy="1000" r="42" fill="#d5d7d7" stroke="#bdbfbf" stroke-width="2"/>
<path d="M315 878L545 878L560 1060L522 1120L505 1178L315 1178Z" fill="#b0adac" stroke="#8d8b8a" stroke-width="4" stroke-linejoin="round"/>
<path d="M357 925L335 1075M433 925L468 1075" stroke="#8d8b8a" stroke-width="4" fill="none"/>
<circle cx="395" cy="940" r="40" fill="#d5d7d7" stroke="#9b9999" stroke-width="3"/>
<circle cx="400" cy="1095" r="68" fill="#d5d7d7" stroke="#9b9999" stroke-width="3"/>
<path d="M500 1132L862 1232" stroke="#8d8b8a" stroke-width="78" stroke-linecap="round"/>
<path d="M500 1132L862 1232" stroke="#b0adac" stroke-width="70" stroke-linecap="round"/>
<circle cx="862" cy="1232" r="34" fill="#6a6968" stroke="#c4c2c1" stroke-width="5"/>
<path d="M78 432H1660V832M78 432V832" fill="none" stroke="#a0a0a0" stroke-width="3"/>
<path d="M1375 430C1384.8 424 1423.8 442.2 1450 440C1476.2 437.8 1520 427.8 1550 415C1580 402.2 1620.8 376.8 1650 355C1679.2 333.2 1718.8 297 1745 270C1771.2 243 1806.2 200.5 1825 175C1843.8 149.5 1859 116.5 1870 100C1881 83.5 1891.7 69.2 1898 65C1904.3 60.8 1913.2 64.5 1912 72C1910.8 79.5 1900 96.5 1890 115C1880 133.4 1863 167.2 1845 195C1827 222.8 1796.2 270 1770 300C1743.8 330 1701.5 371 1670 395C1638.5 419 1591.5 446.5 1560 460C1528.5 473.5 1486.2 482 1460 485C1433.8 488 1397.8 488.2 1385 480C1372.2 471.8 1365.2 436 1375 430Z" fill="#c48a83" stroke="#a8706a" stroke-width="2" stroke-linejoin="round"/>
<path d="M1385 455Q1560 450 1700 330Q1830 200 1900 75" stroke="#d8a49d" stroke-width="8" fill="none" opacity="0.8"/>
<path d="M770 600C775 590 813.3 578.3 830 580C846.7 581.7 864.2 598.3 870 610C875.8 621.7 871.7 641.7 865 650C858.3 658.3 840.8 661.7 830 660C819.2 658.3 810 650 800 640C790 630 765 610 770 600Z" fill="#3e3835"/>
<path d="M1020 560C1028.3 545 1063.3 540 1090 540C1116.7 540 1156.7 550 1180 560C1203.3 570 1230 589.2 1230 600C1230 610.8 1196.7 615.8 1180 625C1163.3 634.2 1144.2 643.3 1130 655C1115.8 666.7 1107.5 689.2 1095 695C1082.5 700.8 1064.2 700.8 1055 690C1045.8 679.2 1045.8 651.7 1040 630C1034.2 608.3 1011.7 575 1020 560Z" fill="#3e3835"/>
<path d="M615 648C604.7 643 575.8 648.7 560 652C544.2 655.3 528.7 660 520 668C511.3 676 504.7 692.7 508 700C511.3 707.3 528 713.3 540 712C552 710.7 566.3 697 580 692C593.7 687 616.2 689.3 622 682C627.8 674.7 625.3 653 615 648Z" fill="#cf9a94" stroke="#b57d77" stroke-width="2" stroke-linejoin="round"/>
<path d="M832 650C839.2 645.3 873 650.3 878 662C883 673.7 868 704.5 862 720C856 735.5 852.3 748 842 755C831.7 762 804 767.5 800 762C796 756.5 812.2 734 818 722C823.8 710 832.7 702 835 690C837.3 678 824.8 654.7 832 650Z" fill="#cf9a94" stroke="#b57d77" stroke-width="2" stroke-linejoin="round"/>
<path d="M1055 685C1063.7 680 1087.5 681.2 1092 692C1096.5 702.8 1097.3 737.3 1082 750C1066.7 762.7 1022.3 767 1000 768C977.7 769 948 761.3 948 756C948 750.7 984.7 741.7 1000 736C1015.3 730.3 1030.8 730.5 1040 722C1049.2 713.5 1046.3 690 1055 685Z" fill="#cf9a94" stroke="#b57d77" stroke-width="2" stroke-linejoin="round"/>
<path d="M1445 618C1450.3 614.3 1487.2 626.3 1500 640C1512.8 653.7 1512.7 680.8 1522 700C1531.3 719.2 1554.7 743.7 1556 755C1557.3 766.3 1541 773.5 1530 768C1519 762.5 1500.3 739.7 1490 722C1479.7 704.3 1475.5 679.3 1468 662C1460.5 644.7 1439.7 621.7 1445 618Z" fill="#cf9a94" stroke="#b57d77" stroke-width="2" stroke-linejoin="round"/>
<path d="M412 345C413.2 334.2 423.8 322.4 440 310C456.2 297.6 496 274 520 262C544 250 582 237.1 600 230C618 222.9 630.2 218.8 640 215C649.8 211.2 656 205.8 665 205C674 204.2 693 204.8 700 210C707 215.2 700 228.8 712 240C724 251.2 762.3 279 780 285C797.7 291 812 284.4 830 280C848 275.6 874.5 261.9 900 256C925.5 250.2 970 243.2 1000 241C1030 238.8 1070 238 1100 241C1130 244 1173 250.7 1200 261C1227 271.4 1260.5 293.6 1280 310C1299.5 326.4 1316.2 352.8 1330 370C1343.8 387.2 1362.7 409.2 1372 425C1381.3 440.8 1384.5 457 1392 475C1399.5 493 1413.6 525.5 1422 545C1430.4 564.5 1445.3 592.5 1448 605C1450.7 617.5 1447.2 622.5 1440 628C1432.8 633.5 1421 644.4 1400 642C1379 639.6 1325.2 618.3 1300 612C1274.8 605.7 1249.7 598.5 1232 600C1214.3 601.5 1197 614.2 1182 622C1167 629.8 1145.5 641.5 1132 652C1118.5 662.5 1103.4 686.6 1092 692C1080.6 697.4 1063.5 698 1056 688C1048.5 678 1047.1 643.9 1042 625C1036.9 606.1 1034 570 1022 562C1010 554 980 568.4 962 572C944 575.6 918.5 581.5 902 586C885.5 590.5 858 592.1 852 602C846 611.9 865.3 643.9 862 652C858.7 660.1 839 659 830 656C821 653 810.7 638.6 802 632C793.3 625.4 787 610.5 772 612C757 613.5 721.5 634.5 702 642C682.5 649.5 654.9 657.8 642 662C629.1 666.2 620.8 673 616 670C611.2 667 606.4 652.2 610 642C613.6 631.8 634 614 640 602C646 590 651.2 574 650 562C648.8 550 642.2 534 632 522C621.8 510 598.5 495.5 582 482C565.5 468.5 538.5 444 522 432C505.5 420 485.5 409.5 472 402C458.5 394.5 441 390.6 432 382C423 373.4 410.8 355.8 412 345Z" fill="#4d4643" stroke="#3a3431" stroke-width="2" stroke-linejoin="round"/>
<path d="M640 600C649.7 583 673.3 570 700 560C726.7 550 766.7 546.7 800 540C833.3 533.3 866.7 520 900 520C933.3 520 980 533 1000 540C1020 547 1026.3 556.7 1020 562C1013.7 567.3 990 565.3 962 572C934 578.7 883.7 595.3 852 602C820.3 608.7 797 605.3 772 612C747 618.7 723.7 633.7 702 642C680.3 650.3 652.3 669 642 662C631.7 655 630.3 617 640 600Z" fill="#433c39"/>
<path d="M668 300C670.5 287.8 678.8 270.7 690 262C701.2 253.3 720.8 246.7 735 248C749.2 249.3 767.2 259.7 775 270C782.8 280.3 785.3 297.5 782 310C778.7 322.5 767.8 338 755 345C742.2 352 718.3 353.7 705 352C691.7 350.3 681.2 343.7 675 335C668.8 326.3 665.5 312.2 668 300Z" fill="#c98c86" stroke="#a8706a" stroke-width="2" stroke-linejoin="round"/>
<path d="M690 305C691.2 296.2 697 281.2 705 275C713 268.8 728.8 265.5 738 268C747.2 270.5 757.7 280.5 760 290C762.3 299.5 758.7 317 752 325C745.3 333 729 337.5 720 338C711 338.5 703 333.5 698 328C693 322.5 688.8 313.8 690 305Z" fill="#dba8a2"/>
<circle cx="548" cy="320" r="16" fill="#151212"/><circle cx="543" cy="315" r="4" fill="#8a8080"/>
<ellipse cx="418" cy="350" rx="10" ry="14" fill="#d9a09a"/>
<path d="M420 332L360 268M424 336L372 286M428 340L380 304M440 350L500 375M440 356L510 395" stroke="#9a9a9a" stroke-width="2" fill="none"/>
</g>

<!-- text -->
<g>
<text x="626" y="80" font-size="41">Doxorubicin</text>
<text x="127" y="221" font-size="35">Endothelial Cell &amp;</text>
<text x="127" y="260" font-size="35">Pericyte Death</text>
<text x="1884" y="48" font-size="35">Pericyte</text>
<text x="1683" y="390" font-size="35">Stem Cell</text>
<text x="68" y="673.3" font-size="35">BCR</text>
<text x="62" y="788.3" font-size="35">Antibody</text>
<text x="366" y="769.3" font-size="35">B-cell</text>
<text x="283" y="870" font-size="35" text-anchor="middle">Inflamed</text>
<text x="283" y="910.2" font-size="35" text-anchor="middle">Cardiomyocyte</text>
<text x="1866" y="787" font-size="35">FcγRIIB</text>
<text x="781" y="1007" font-size="53" text-anchor="middle">Dilated</text>
<text x="781" y="1066.5" font-size="52.6" text-anchor="middle">Cardiomyopathy</text>
<text x="1211.5" y="1016" font-size="52.6" text-anchor="middle">Decreased</text>
<text x="1218.5" y="1076.5" font-size="53" text-anchor="middle">Cardiac</text>
<text x="1218" y="1136" font-size="52.5" text-anchor="middle">Remodeling</text>
<text x="482" y="1377.2" font-size="35">Cardiac</text>
<text x="482" y="1417.4" font-size="35">Fibrosis</text>
<text x="1318.5" y="1377.3" font-size="35">Decreased</text>
<text x="1318.5" y="1417.4" font-size="35">Cardiac Fibrosis</text>
<text x="875" y="1437.3" font-size="41" text-anchor="middle">Exercise</text>
</g>


</svg>
</body></html>
